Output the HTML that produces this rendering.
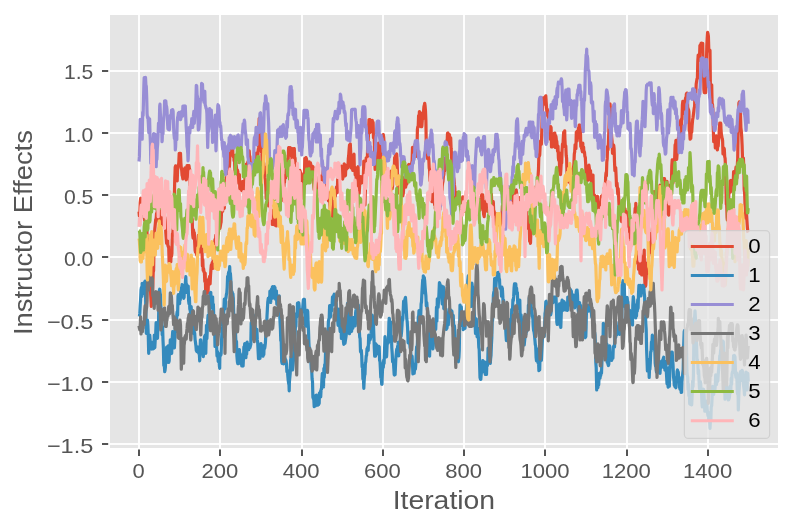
<!DOCTYPE html>
<html><head><meta charset="utf-8"><title>Instructor Effects trace</title>
<style>
html,body{margin:0;padding:0;background:#fff;}
body{width:792px;height:528px;overflow:hidden;font-family:"Liberation Sans",sans-serif;}
svg{display:block;will-change:transform;transform:translateZ(0);}
text{font-family:"Liberation Sans",sans-serif;}
.tk{font-size:20.6px;fill:#555555;}
.lb{font-size:25.6px;fill:#555555;}
.lg{font-size:19.8px;fill:#000;}
.ln{fill:none;stroke-width:3.2;stroke-linejoin:round;stroke-linecap:butt;}
</style></head><body>
<svg width="792" height="528" viewBox="0 0 792 528">
<rect x="0" y="0" width="792" height="528" fill="#ffffff"/>
<rect x="110" y="15" width="668" height="433" fill="#E5E5E5"/>
<defs><clipPath id="ax"><rect x="110" y="15" width="668" height="433"/></clipPath></defs>

<g fill="#ffffff" fill-opacity="0.93">
<rect x="138" y="15" width="2" height="433"/>
<rect x="219" y="15" width="2" height="433"/>
<rect x="301" y="15" width="2" height="433"/>
<rect x="382" y="15" width="2" height="433"/>
<rect x="463" y="15" width="2" height="433"/>
<rect x="544" y="15" width="2" height="433"/>
<rect x="626" y="15" width="2" height="433"/>
<rect x="707" y="15" width="2" height="433"/>
<rect x="110" y="443" width="668" height="2"/>
<rect x="110" y="381" width="668" height="2"/>
<rect x="110" y="319" width="668" height="2"/>
<rect x="110" y="256" width="668" height="2"/>
<rect x="110" y="194" width="668" height="2"/>
<rect x="110" y="132" width="668" height="2"/>
<rect x="110" y="70" width="668" height="2"/>
</g>
<g fill="#555555">
<rect x="138" y="449.5" width="2" height="6.5"/>
<rect x="219" y="449.5" width="2" height="6.5"/>
<rect x="301" y="449.5" width="2" height="6.5"/>
<rect x="382" y="449.5" width="2" height="6.5"/>
<rect x="463" y="449.5" width="2" height="6.5"/>
<rect x="544" y="449.5" width="2" height="6.5"/>
<rect x="626" y="449.5" width="2" height="6.5"/>
<rect x="707" y="449.5" width="2" height="6.5"/>
<rect x="102" y="443" width="6.2" height="2"/>
<rect x="102" y="381" width="6.2" height="2"/>
<rect x="102" y="319" width="6.2" height="2"/>
<rect x="102" y="256" width="6.2" height="2"/>
<rect x="102" y="194" width="6.2" height="2"/>
<rect x="102" y="132" width="6.2" height="2"/>
<rect x="102" y="70" width="6.2" height="2"/>
</g>
<text class="tk" x="138.6" y="478.2" text-anchor="middle" textLength="12.2" lengthAdjust="spacingAndGlyphs">0</text>
<text class="tk" x="219.9" y="478.2" text-anchor="middle" textLength="36.8" lengthAdjust="spacingAndGlyphs">200</text>
<text class="tk" x="301.2" y="478.2" text-anchor="middle" textLength="36.8" lengthAdjust="spacingAndGlyphs">400</text>
<text class="tk" x="382.5" y="478.2" text-anchor="middle" textLength="36.8" lengthAdjust="spacingAndGlyphs">600</text>
<text class="tk" x="463.7" y="478.2" text-anchor="middle" textLength="36.8" lengthAdjust="spacingAndGlyphs">800</text>
<text class="tk" x="545.0" y="478.2" text-anchor="middle" textLength="49.2" lengthAdjust="spacingAndGlyphs">1000</text>
<text class="tk" x="626.3" y="478.2" text-anchor="middle" textLength="49.2" lengthAdjust="spacingAndGlyphs">1200</text>
<text class="tk" x="707.6" y="478.2" text-anchor="middle" textLength="49.2" lengthAdjust="spacingAndGlyphs">1400</text>
<text class="tk" x="93.3" y="453.2" text-anchor="end" textLength="46.4" lengthAdjust="spacingAndGlyphs">−1.5</text>
<text class="tk" x="93.3" y="390.9" text-anchor="end" textLength="46.4" lengthAdjust="spacingAndGlyphs">−1.0</text>
<text class="tk" x="93.3" y="328.5" text-anchor="end" textLength="46.4" lengthAdjust="spacingAndGlyphs">−0.5</text>
<text class="tk" x="93.3" y="266.2" text-anchor="end" textLength="29.4" lengthAdjust="spacingAndGlyphs">0.0</text>
<text class="tk" x="93.3" y="203.9" text-anchor="end" textLength="29.4" lengthAdjust="spacingAndGlyphs">0.5</text>
<text class="tk" x="93.3" y="141.5" text-anchor="end" textLength="29.4" lengthAdjust="spacingAndGlyphs">1.0</text>
<text class="tk" x="93.3" y="79.2" text-anchor="end" textLength="29.4" lengthAdjust="spacingAndGlyphs">1.5</text>
<text class="lb" x="443.9" y="509.3" text-anchor="middle" textLength="102.5" lengthAdjust="spacingAndGlyphs">Iteration</text>
<text class="lb" transform="translate(31.6,232.6) rotate(-90)" text-anchor="middle" textLength="205" lengthAdjust="spacingAndGlyphs">Instructor Effects</text>
<g clip-path="url(#ax)">
<polyline class="ln" stroke="#E24A33" points="139.0,211.7 139.4,216.2 139.8,214.6 140.2,202.7 140.7,198.3 141.0,206.9 141.4,210.5 141.7,211.7 141.8,205.1 142.2,205.3 142.7,205.2 143.0,201.7 143.5,209.4 143.9,210.0 144.3,218.3 144.7,220.4 145.1,213.9 145.5,208.3 145.7,210.0 145.9,218.2 146.3,217.6 146.7,218.4 147.1,237.0 147.5,243.8 147.9,239.5 148.3,239.3 148.8,251.3 149.2,263.8 149.6,271.3 150.0,285.0 150.4,288.2 150.8,297.0 151.3,306.3 151.6,295.1 152.0,291.1 152.4,293.3 152.8,286.5 153.2,272.4 153.6,270.6 154.0,247.6 154.4,237.3 154.8,229.0 155.3,223.8 155.7,219.5 156.1,219.7 156.5,213.7 156.9,219.7 157.3,208.2 157.5,208.3 157.7,208.2 158.1,213.2 158.5,208.2 158.7,216.7 158.9,221.4 159.3,208.4 159.7,211.7 160.1,209.7 160.5,213.1 160.8,220.8 161.3,222.3 161.8,214.9 162.0,218.3 162.2,224.9 162.6,221.9 163.0,218.7 163.3,225.0 163.8,223.4 164.2,225.0 164.7,223.3 165.0,217.3 165.4,221.0 165.8,232.5 166.2,238.2 166.6,243.3 167.0,234.1 167.4,232.2 167.9,245.6 168.3,246.9 168.7,246.7 169.1,262.2 169.5,253.3 169.9,260.1 170.3,252.7 170.8,262.0 171.1,253.4 171.5,256.5 171.9,253.4 172.3,233.9 172.7,235.7 173.1,228.3 173.6,218.0 173.9,207.2 174.4,194.0 174.8,177.8 175.0,173.3 175.2,167.3 175.6,165.9 176.0,178.1 176.3,180.0 176.8,175.3 177.2,180.9 177.6,169.9 178.0,166.8 178.4,165.7 178.8,162.7 179.2,153.4 179.6,153.4 180.0,154.2 180.5,153.4 180.9,163.1 181.3,168.2 181.7,170.1 182.1,175.3 182.5,176.4 182.9,178.9 183.3,178.3 183.7,169.4 184.1,174.4 184.7,173.3 184.9,167.8 185.3,172.9 185.8,178.3 186.2,179.8 186.6,179.2 187.0,165.7 187.4,167.7 187.8,165.7 188.2,176.2 188.3,166.7 188.6,165.7 189.0,165.7 189.4,168.6 189.8,169.8 190.2,189.2 190.6,195.4 191.0,210.6 191.4,221.8 191.8,217.6 192.2,219.3 192.7,234.7 193.1,238.1 193.5,229.8 193.9,236.0 194.3,232.5 194.7,242.6 195.1,250.3 195.5,252.1 195.9,244.4 196.3,248.5 196.7,255.0 197.1,248.2 197.5,255.8 197.9,241.1 198.3,235.4 198.8,240.2 199.2,235.0 199.6,236.1 200.0,251.9 200.4,244.3 200.8,248.2 201.2,250.6 201.6,250.6 202.0,248.9 202.4,266.0 202.8,259.6 203.2,270.5 203.6,268.6 204.0,272.1 204.4,272.4 204.8,281.4 205.2,273.2 205.7,292.3 206.1,280.0 206.5,286.9 206.9,293.4 207.3,280.9 207.8,292.5 208.1,291.8 208.5,279.3 208.9,284.6 209.3,278.2 209.7,276.4 210.1,283.9 210.5,275.6 210.9,269.9 211.3,265.2 211.7,265.8 212.2,262.7 212.6,265.8 212.8,268.3 213.4,256.2 213.8,261.9 214.2,251.3 214.6,243.7 215.0,239.5 215.4,242.3 215.8,235.0 216.2,246.0 216.6,242.0 217.0,245.6 217.5,240.0 217.8,235.6 218.2,233.6 218.7,224.7 219.2,218.3 219.5,217.2 219.9,228.3 220.3,226.4 220.8,223.3 221.1,222.2 221.5,212.8 221.9,209.5 222.3,210.9 222.5,201.7 222.7,211.2 223.1,196.9 223.5,205.9 223.9,205.7 224.2,208.3 224.3,208.2 224.8,198.6 225.2,196.6 225.6,181.7 226.0,184.6 226.4,176.4 226.8,178.7 227.2,173.5 227.5,171.7 228.0,183.1 228.4,172.8 228.7,175.0 228.8,190.2 229.2,171.5 229.6,162.1 230.0,153.3 230.4,146.4 231.0,155.0 231.3,148.9 231.7,148.0 232.0,137.5 232.5,141.7 232.9,154.8 233.3,156.8 233.7,155.1 234.1,160.9 234.5,159.9 234.9,170.1 235.3,172.5 235.7,157.0 236.1,164.7 236.5,168.0 236.9,176.9 237.4,170.0 237.8,171.4 238.2,180.1 238.6,183.4 239.0,183.3 239.4,174.6 239.8,189.1 240.2,184.8 240.6,184.5 241.0,190.4 241.3,190.0 241.8,189.3 242.2,184.0 242.5,181.7 243.1,191.5 243.4,187.5 243.7,191.7 243.9,190.1 244.3,191.5 244.7,187.6 245.1,170.6 245.5,181.5 245.9,172.4 246.3,164.0 246.7,170.2 247.1,166.1 247.5,163.9 247.9,161.9 248.3,164.6 248.7,156.9 249.2,150.8 249.6,157.9 249.9,156.3 250.4,167.6 250.8,174.5 251.2,163.2 251.3,175.0 251.6,175.1 252.0,170.2 252.4,171.2 252.8,170.3 253.2,175.1 253.6,175.1 254.0,170.4 254.4,160.3 254.8,155.4 255.2,156.1 255.6,158.2 255.8,155.0 256.1,155.0 256.5,153.0 257.0,160.0 257.3,154.7 257.7,160.6 258.1,150.3 258.5,147.9 258.9,125.6 259.2,118.3 259.7,121.0 260.1,121.1 260.5,136.9 260.9,141.8 261.3,151.7 261.7,140.0 262.1,164.9 262.6,160.3 263.0,159.1 263.4,168.1 263.8,163.2 264.2,171.1 264.6,166.8 265.0,177.4 265.4,180.1 265.8,186.8 266.2,198.5 266.7,198.3 267.0,197.8 267.4,197.1 267.8,203.6 268.0,195.0 268.2,198.2 268.6,206.0 269.2,205.0 269.5,205.8 269.9,196.4 270.3,201.7 270.7,212.6 271.1,210.6 271.5,210.1 271.9,219.5 272.3,224.5 272.5,224.2 272.7,222.8 273.1,218.3 273.7,218.3 273.9,214.5 274.3,223.8 274.7,225.0 275.1,210.5 275.6,216.1 275.8,215.0 276.4,225.8 276.8,210.7 277.0,218.3 277.2,217.9 277.6,215.5 278.0,214.0 278.3,205.0 278.8,207.2 279.2,207.1 279.7,210.0 280.0,208.4 280.4,191.6 280.8,191.9 281.0,195.0 281.2,188.9 281.7,195.9 282.1,200.4 282.3,200.0 282.9,198.1 283.3,188.9 283.7,192.6 284.1,182.3 284.5,182.4 284.9,175.7 285.3,175.3 285.7,178.0 286.1,170.2 286.5,166.3 286.9,168.5 287.4,168.5 287.8,158.5 288.2,158.8 288.6,147.7 289.0,149.1 289.2,148.3 289.4,147.7 289.8,154.5 290.2,147.5 290.6,152.2 291.0,148.3 291.4,155.7 291.7,156.7 291.8,152.7 292.2,167.0 292.6,154.3 293.0,148.7 293.4,154.4 293.9,150.4 294.3,148.6 294.7,158.8 295.1,158.2 295.3,201.7 295.9,193.6 296.3,195.7 296.7,185.0 297.1,191.3 297.5,190.2 298.0,193.3 298.3,187.8 298.7,183.9 299.1,180.7 299.5,178.4 299.9,170.4 300.3,171.7 300.8,175.1 301.2,173.6 301.6,181.7 302.0,183.0 302.4,191.0 302.8,193.8 303.3,198.3 303.6,192.0 304.0,178.0 304.4,175.4 304.8,158.3 305.2,164.5 305.6,159.7 306.0,157.6 306.3,158.3 306.9,161.4 307.3,165.0 307.7,170.2 308.1,171.6 308.3,163.3 308.9,169.9 309.3,161.9 309.7,166.7 310.1,171.3 310.5,162.9 310.8,165.0 311.3,172.7 311.7,178.4 312.0,170.0 312.5,168.3 312.9,166.5 313.3,168.3 313.8,184.8 314.2,190.0 314.6,181.8 315.0,180.0 315.4,187.0 315.8,176.9 316.2,191.3 316.6,191.0 317.0,187.6 317.5,195.0 317.8,187.6 318.2,186.2 318.7,185.0 319.1,183.5 319.4,182.5 320.0,193.3 320.3,188.0 320.7,176.0 321.1,188.2 321.5,181.9 321.9,182.5 322.3,180.5 322.7,176.3 323.1,171.5 323.5,167.9 323.9,167.9 324.2,168.3 324.3,168.5 324.7,175.7 325.1,182.2 325.6,186.8 326.0,177.8 326.4,182.4 326.8,187.1 327.2,188.1 327.6,196.4 328.0,191.6 328.4,200.8 328.8,196.2 329.2,196.1 329.6,193.0 330.0,205.8 330.4,212.8 330.8,212.1 331.2,207.1 331.6,212.2 332.1,209.3 332.5,216.7 332.9,204.5 333.3,205.3 333.7,196.1 334.1,197.7 334.5,192.0 334.9,193.7 335.3,196.4 335.7,192.0 336.1,191.5 336.5,187.0 336.9,191.8 337.3,192.5 337.7,178.8 338.1,186.9 338.6,186.4 339.0,185.7 339.4,180.4 339.8,169.7 340.2,177.5 340.6,171.9 340.8,171.7 341.0,173.6 341.4,166.2 341.8,176.1 342.0,175.0 342.2,178.7 342.6,179.0 343.0,177.4 343.3,167.5 343.8,176.0 344.2,163.8 344.7,170.0 345.1,176.0 345.5,175.3 345.9,165.3 346.3,166.8 346.7,168.9 347.1,166.2 347.5,166.6 347.9,167.7 348.3,158.8 348.7,155.5 349.1,149.5 349.5,145.0 349.9,152.6 350.3,143.8 350.8,154.5 351.2,168.0 351.6,162.2 352.0,160.2 352.5,168.3 352.8,170.4 353.2,157.6 353.7,165.0 354.0,154.2 354.4,170.5 354.8,167.0 355.2,175.0 355.6,168.3 356.0,173.0 356.4,186.4 356.9,172.1 357.2,180.3 357.7,167.5 358.1,166.7 358.5,186.8 358.9,190.8 359.2,193.3 359.7,184.4 360.1,176.8 360.5,179.0 360.8,176.7 361.3,183.2 361.7,178.8 362.1,182.5 362.5,178.3 362.9,180.4 363.4,174.6 363.8,161.0 364.2,175.0 364.6,187.4 365.0,205.0 365.4,190.6 365.8,170.9 366.2,157.8 366.6,163.8 367.0,160.0 367.4,156.6 367.8,139.8 368.2,141.5 368.6,130.4 369.0,119.6 369.4,119.6 369.7,120.8 369.9,119.6 370.3,132.5 370.7,126.2 371.1,131.3 371.5,123.0 371.9,129.1 372.3,120.3 372.7,130.9 373.1,122.3 373.5,137.7 373.9,136.6 374.3,140.1 374.7,151.4 375.1,169.5 375.5,163.1 375.9,168.3 376.4,165.4 376.7,168.3 377.2,163.5 377.6,156.0 378.0,149.3 378.4,143.1 378.8,147.8 379.2,143.3 379.6,157.5 380.0,154.4 380.4,144.7 380.8,160.8 381.2,153.6 381.6,163.8 382.0,165.0 382.5,135.0 382.9,135.9 383.3,134.6 383.7,137.3 384.1,144.0 384.5,151.2 384.9,171.8 385.3,170.5 385.7,174.8 386.1,185.6 386.5,179.1 386.9,181.3 387.3,184.5 387.5,190.0 387.7,183.4 388.1,190.3 388.7,181.7 388.9,176.5 389.4,182.3 389.8,183.1 390.0,188.3 390.2,180.5 390.6,185.6 391.0,171.1 391.4,177.6 391.8,184.9 392.2,188.7 392.6,185.5 393.0,174.1 393.4,170.6 393.8,173.5 394.2,170.9 394.6,157.7 395.0,158.3 395.5,154.6 395.7,160.0 395.9,166.1 396.3,155.0 396.7,154.0 397.1,160.6 397.5,174.1 397.9,184.8 398.3,193.0 398.7,192.5 399.1,188.7 399.7,188.3 399.9,182.0 400.3,183.7 400.8,195.0 401.1,189.4 401.6,186.5 402.0,190.0 402.4,194.0 402.8,196.0 403.2,193.9 403.3,193.3 403.6,189.4 404.0,186.4 404.4,177.4 404.8,186.5 405.2,178.8 405.6,187.2 406.0,185.0 406.4,183.3 406.8,184.1 407.2,176.2 407.6,173.3 408.1,167.0 408.5,164.9 408.9,164.5 409.2,166.7 409.7,167.8 410.1,171.8 410.5,172.5 410.8,171.7 411.3,172.9 411.7,163.0 412.1,160.9 412.5,147.4 413.0,148.3 413.3,150.8 413.8,157.1 414.2,155.0 414.6,156.2 415.0,144.3 415.4,147.3 415.8,149.7 416.2,156.4 416.6,147.4 417.0,150.8 417.4,129.4 417.8,126.8 418.2,126.9 418.6,115.6 419.0,121.5 419.4,111.5 419.7,112.5 419.8,117.9 420.2,113.6 420.6,116.3 421.1,126.6 421.5,122.1 421.7,126.7 421.9,125.7 422.3,119.7 422.7,112.7 423.1,118.3 423.5,112.3 423.9,106.8 424.3,105.2 424.7,103.3 425.1,106.1 425.5,111.1 425.9,120.9 426.3,147.7 426.8,147.4 427.2,145.0 427.6,158.6 428.0,156.7 428.4,156.4 428.8,158.6 429.2,168.0 429.6,169.6 430.0,180.8 430.4,176.5 430.8,173.8 431.2,190.7 431.6,189.6 432.0,201.7 432.4,188.6 432.9,184.8 433.3,195.0 433.7,194.5 434.1,199.7 434.5,203.2 434.7,205.0 434.9,199.9 435.3,208.6 435.8,198.3 436.1,209.5 436.5,210.6 437.0,208.3 437.3,207.8 437.7,201.8 438.1,198.3 438.3,201.7 438.5,202.8 438.9,210.5 439.4,203.5 439.7,210.0 440.2,198.3 440.6,200.2 441.0,200.2 441.4,200.9 441.8,195.5 442.2,186.9 442.6,183.1 443.0,181.2 443.4,176.3 443.8,174.9 444.2,170.9 444.6,170.9 445.0,155.8 445.4,158.6 445.9,149.9 446.3,149.0 446.7,140.5 447.1,143.1 447.5,133.3 447.9,133.0 448.3,134.2 448.7,140.7 449.1,142.5 449.5,134.7 449.9,144.4 450.3,139.4 450.7,137.7 451.1,148.2 451.5,154.1 451.9,165.1 452.4,157.9 452.8,163.0 453.2,169.6 453.6,177.2 454.0,179.1 454.4,184.7 454.8,188.0 455.2,198.9 455.6,197.0 455.8,201.7 456.0,198.1 456.4,198.2 456.8,195.4 457.0,195.0 457.2,197.6 457.6,192.6 458.1,200.7 458.3,203.3 458.9,196.5 459.3,194.5 459.7,198.3 460.1,200.0 460.5,202.9 461.0,206.7 461.3,209.7 461.7,200.0 462.1,201.8 462.5,201.7 462.9,196.9 463.3,203.2 463.7,200.2 464.2,208.3 464.6,211.1 465.0,208.9 465.4,208.1 465.8,203.3 466.2,208.0 466.6,211.1 467.0,211.1 467.5,210.0 467.8,203.1 468.2,208.4 468.6,202.0 469.2,205.0 469.4,203.2 469.8,208.6 470.2,207.1 470.6,212.5 470.8,211.7 471.1,214.4 471.5,204.9 471.9,204.8 472.3,205.0 472.5,206.7 472.7,210.9 473.1,208.5 473.5,209.6 473.9,214.4 474.2,213.3 474.7,212.5 475.1,211.0 475.5,213.3 475.8,208.3 476.3,214.4 476.7,207.1 477.1,214.4 477.5,211.7 478.0,207.5 478.4,212.2 478.8,199.7 479.2,207.0 479.6,203.8 480.0,210.3 480.4,200.5 480.8,199.2 481.2,197.2 481.6,194.6 482.0,195.0 482.4,195.5 482.8,194.9 483.2,207.0 483.6,214.1 484.2,216.7 484.5,212.6 484.9,210.2 485.3,201.6 485.7,209.6 486.1,202.5 486.5,201.8 486.9,196.1 487.3,200.0 487.7,211.4 488.0,195.0 488.5,199.6 488.9,201.7 489.3,201.7 489.8,200.2 490.1,194.0 490.7,195.0 491.0,198.6 491.4,194.0 491.8,205.2 492.0,205.0 492.2,206.4 492.6,206.0 493.0,206.1 493.3,201.7 493.8,213.1 494.2,211.2 494.6,220.2 495.0,223.0 495.3,224.2 495.8,217.5 496.3,215.0 496.7,222.2 497.1,213.7 497.3,221.7 497.9,224.0 498.3,218.3 498.7,224.9 499.1,219.8 499.3,225.0 499.5,223.3 499.9,219.1 500.3,214.7 500.7,216.7 501.1,224.9 501.5,222.8 501.9,218.2 502.4,205.9 502.8,209.8 503.2,218.9 503.3,213.3 503.6,211.2 504.0,215.0 504.4,212.6 504.8,207.9 505.0,206.7 505.2,202.9 505.6,207.5 506.0,214.4 506.4,212.6 506.7,213.3 506.8,208.7 507.2,213.9 507.6,213.9 508.0,203.9 508.3,203.3 508.9,204.2 509.3,210.8 509.7,206.1 510.0,211.7 510.5,212.7 510.9,198.6 511.3,198.8 511.7,200.0 512.1,194.4 512.5,196.0 512.9,194.1 513.3,206.7 513.7,209.8 514.1,195.8 514.5,198.2 515.0,199.6 515.4,194.5 515.8,190.3 516.2,190.0 516.6,193.0 517.0,200.8 517.4,204.9 517.8,211.2 518.0,216.7 518.2,209.3 518.6,203.2 519.0,202.1 519.2,206.7 519.4,197.7 519.8,202.5 520.2,212.4 520.6,216.5 520.8,213.3 521.0,216.5 521.5,204.8 521.9,202.8 522.3,202.8 522.5,203.3 522.7,202.8 523.1,206.7 523.5,212.4 523.9,217.0 524.2,213.3 524.7,209.8 525.1,210.6 525.5,213.0 525.8,210.0 526.3,208.7 526.7,217.5 527.1,217.6 527.5,228.1 528.0,226.6 528.4,216.8 528.8,224.8 529.2,226.1 529.6,241.1 530.0,234.8 530.5,243.3 530.8,234.4 531.2,231.6 531.6,232.7 532.0,225.3 532.4,224.1 532.8,225.6 533.2,217.0 533.6,211.7 534.0,212.3 534.5,203.7 534.9,206.7 535.3,192.6 535.7,197.5 536.1,186.4 536.5,185.8 536.9,192.7 537.3,184.4 537.7,189.1 538.1,175.7 538.5,169.2 538.9,154.5 539.3,156.3 539.7,155.1 540.1,146.9 540.5,141.0 541.0,142.8 541.4,144.1 541.8,130.2 542.2,115.4 542.6,109.7 543.0,100.0 543.4,97.9 543.7,101.7 544.2,104.3 544.6,99.8 545.0,104.0 545.4,96.6 545.8,95.8 546.2,102.0 546.7,110.0 547.0,115.1 547.3,109.2 547.9,116.2 548.3,113.3 548.7,131.3 549.2,130.0 549.5,131.6 550.0,128.3 550.3,139.2 550.7,126.7 551.1,127.7 551.5,146.9 551.9,140.6 552.3,146.4 552.5,146.7 552.7,142.3 553.1,137.0 553.6,140.0 554.0,135.5 554.2,133.3 554.4,134.4 554.8,133.1 555.2,147.5 555.3,138.3 555.6,135.5 556.0,136.7 556.4,140.6 556.8,141.3 557.2,146.8 557.6,151.4 558.0,146.2 558.4,158.0 558.8,160.6 559.2,152.8 559.6,171.0 560.0,173.3 560.5,174.6 560.9,169.1 561.3,161.8 561.7,162.9 562.1,150.0 562.5,143.8 562.9,146.8 563.3,138.1 563.7,132.0 564.1,133.1 564.7,130.8 564.9,138.9 565.3,146.6 565.8,146.0 566.2,155.6 566.6,158.3 567.0,174.1 567.4,172.7 567.8,172.1 568.0,180.0 568.2,174.1 568.6,182.0 569.0,169.5 569.2,173.3 569.4,171.3 569.8,179.5 570.3,183.3 570.6,183.9 571.0,181.7 571.4,175.2 571.9,174.9 572.2,173.9 572.7,169.0 573.1,171.4 573.5,168.0 573.9,163.6 574.3,154.1 574.7,151.8 575.1,144.6 575.5,147.4 575.9,148.6 576.3,132.4 576.7,131.7 577.1,141.0 577.5,137.7 577.9,132.8 578.4,128.1 578.8,130.9 579.2,125.0 579.6,130.0 580.0,125.0 580.4,128.5 580.8,146.5 581.2,143.2 581.6,148.3 582.0,149.6 582.4,151.8 582.8,143.1 583.0,151.7 583.2,149.5 583.6,147.0 583.8,150.8 584.0,151.4 584.5,152.3 584.9,156.7 585.3,157.1 585.7,164.1 586.1,176.8 586.5,176.1 586.9,174.2 587.3,180.9 587.7,175.5 588.0,180.0 588.5,177.4 588.9,165.2 589.3,168.0 589.7,171.0 590.0,171.7 590.5,170.7 591.0,180.3 591.4,181.8 591.8,177.4 592.2,183.8 592.6,178.1 593.0,175.1 593.4,197.4 593.8,198.4 594.2,203.3 594.6,195.1 595.0,201.7 595.4,203.8 595.8,204.2 596.2,199.0 596.6,199.9 597.0,200.4 597.5,196.4 597.9,203.8 598.3,209.0 598.7,212.6 599.2,211.7 599.5,212.6 599.9,211.6 600.3,212.6 600.7,204.8 601.1,200.4 601.5,196.0 601.9,209.4 602.3,201.6 602.7,194.9 603.1,199.5 603.5,200.8 604.0,188.0 604.4,198.6 604.8,188.9 605.2,191.5 605.6,177.8 606.0,172.9 606.4,175.9 606.8,162.4 607.2,158.9 607.6,146.3 608.0,149.9 608.4,142.9 608.8,132.1 609.2,120.2 609.7,104.2 610.0,103.9 610.5,110.4 610.9,119.8 611.3,131.0 611.7,137.3 612.1,141.3 612.5,153.3 612.9,148.5 613.3,144.9 613.7,145.2 614.1,148.6 614.5,161.5 614.9,170.7 615.3,167.5 615.7,167.7 616.1,175.6 616.5,186.0 617.0,183.0 617.4,188.0 617.8,194.2 618.2,188.6 618.6,196.2 619.0,205.0 619.4,204.4 619.8,208.2 620.2,209.2 620.6,208.7 621.0,210.4 621.4,219.7 621.7,221.7 621.8,217.0 622.2,216.6 622.6,204.5 623.1,200.4 623.3,200.0 623.9,203.0 624.3,214.0 624.7,212.4 625.1,208.9 625.5,220.1 625.9,211.0 626.3,220.8 626.7,218.8 627.1,218.4 627.5,214.3 627.9,226.1 628.3,211.9 628.8,221.6 629.1,226.6 629.6,237.2 630.0,240.0 630.4,233.2 630.8,239.6 631.2,241.1 631.6,233.2 632.0,221.0 632.4,220.0 632.8,222.6 633.2,224.9 633.6,225.7 634.0,221.3 634.4,220.6 634.8,214.7 635.2,208.0 635.7,208.2 635.8,203.3 636.1,220.1 636.5,230.9 636.9,236.2 637.3,251.0 637.7,263.4 638.1,263.4 638.3,261.7 638.5,269.2 638.9,258.2 639.2,253.3 639.7,270.3 640.0,273.3 640.5,253.9 640.8,260.0 641.4,257.2 641.7,275.0 642.2,268.6 642.5,256.7 643.0,263.0 643.3,275.0 643.8,262.7 644.2,250.0 644.6,275.1 645.0,285.0 645.4,286.3 645.8,285.0 646.2,276.8 646.7,263.3 647.0,268.6 647.5,273.3 647.9,262.7 648.2,260.8 648.7,256.4 649.1,250.4 649.5,253.2 649.9,245.2 650.3,251.2 650.7,240.0 651.1,233.4 651.5,235.0 651.9,239.3 652.3,229.5 652.7,225.2 653.1,209.6 653.5,213.0 653.9,203.6 654.2,191.7 654.4,193.7 654.8,192.8 655.2,192.7 655.6,196.5 655.8,200.0 656.4,198.1 656.8,189.8 657.2,189.7 657.6,201.1 658.0,201.1 658.4,191.9 658.8,188.2 659.2,197.4 659.6,196.1 660.0,185.0 660.5,190.7 660.9,192.8 661.3,186.7 661.7,189.9 662.1,192.4 662.5,182.2 662.9,187.4 663.3,184.9 663.7,178.6 664.2,180.0 664.5,178.6 664.9,189.2 665.3,182.5 665.7,185.0 666.1,187.9 666.5,188.6 667.0,181.4 667.4,198.1 667.8,202.0 668.2,214.1 668.7,215.0 669.0,211.5 669.4,205.7 669.8,189.7 670.2,185.0 670.6,189.5 671.0,187.6 671.4,185.2 671.8,165.9 672.2,159.8 672.6,165.6 673.0,183.0 673.5,170.2 673.9,159.3 674.3,166.7 674.7,157.0 675.1,144.7 675.5,147.9 675.9,140.3 676.3,152.2 676.7,159.5 677.1,153.6 677.5,148.9 677.9,148.5 678.3,138.1 678.7,140.9 679.1,134.3 679.5,136.4 680.0,126.8 680.4,122.0 680.8,120.1 681.2,136.0 681.6,118.7 682.0,119.5 682.4,105.0 682.8,101.3 683.3,103.3 683.6,113.0 684.2,113.3 684.4,109.5 684.8,106.5 685.2,100.3 685.6,97.9 686.0,107.8 686.3,94.2 686.9,93.1 687.3,93.1 687.7,107.3 688.1,110.7 688.5,109.4 688.9,111.8 689.3,130.6 689.7,131.9 690.1,139.2 690.5,137.4 690.8,138.3 691.3,130.3 691.7,132.2 692.1,125.7 692.6,120.1 693.0,117.7 693.4,114.5 693.8,111.5 694.2,108.1 694.6,106.4 695.0,91.7 695.4,89.0 695.8,93.5 696.2,84.1 696.6,81.5 697.0,79.1 697.4,78.6 697.8,61.0 698.2,55.2 698.6,60.7 699.1,56.6 699.5,57.4 699.9,45.7 700.3,44.9 700.7,47.9 701.1,43.3 701.3,44.2 701.5,43.3 701.9,48.5 702.3,48.8 702.7,43.3 703.1,63.4 703.5,67.8 703.9,89.5 704.3,92.6 704.7,91.7 705.1,92.6 705.6,92.6 706.0,85.7 706.4,63.4 706.8,46.2 707.2,38.4 707.6,32.3 708.0,33.8 708.4,36.2 708.8,49.2 709.2,50.9 709.6,49.9 710.0,50.5 710.4,86.4 710.9,87.1 711.2,98.6 711.7,84.8 712.1,104.0 712.5,104.3 712.9,109.4 713.3,128.2 713.7,141.6 714.0,141.0 714.5,140.1 715.0,137.0 715.3,147.9 715.7,142.0 716.1,135.8 716.5,138.0 716.9,143.7 717.4,150.0 717.8,143.7 718.2,146.2 718.6,139.6 719.0,135.4 719.4,127.8 719.8,123.0 720.2,130.9 720.6,123.0 720.8,124.0 721.0,129.0 721.4,134.7 721.8,136.4 722.2,138.7 722.6,140.3 723.0,154.0 723.4,153.7 723.9,148.1 724.3,149.1 724.7,156.7 725.1,158.4 725.5,166.9 725.9,185.2 726.3,204.2 726.7,204.6 727.1,217.9 727.3,220.0 727.5,218.9 727.9,210.1 728.3,207.5 728.7,196.9 729.1,191.0 729.5,191.3 730.0,192.4 730.2,181.0 730.4,180.8 730.8,180.5 731.2,190.8 731.4,191.0 731.6,186.4 732.0,188.1 732.4,187.9 732.8,189.1 733.2,182.7 733.6,171.6 734.0,177.8 734.4,175.0 734.8,175.1 735.2,181.9 735.6,171.1 736.0,167.2 736.5,173.6 736.9,178.1 737.3,165.5 737.7,158.4 738.1,131.9 738.5,125.2 738.9,103.0 739.3,102.0 739.7,106.2 740.1,110.4 740.5,115.3 740.9,127.6 741.3,131.0 741.7,136.6 742.1,145.0 742.5,157.5 743.0,159.0 743.4,158.2 743.8,166.6 744.2,189.4 744.6,192.6 745.0,204.0 745.4,207.5 745.8,218.1 746.2,215.6 746.6,214.8 747.0,221.6 747.4,227.5 747.8,231.8 748.2,232.5"/>
<polyline class="ln" stroke="#348ABD" points="139.0,316.5 139.4,316.5 139.8,313.2 140.2,305.5 140.6,299.8 141.0,290.0 141.4,287.6 141.8,296.5 142.0,295.0 142.2,283.3 142.7,292.5 143.0,288.3 143.5,288.2 144.0,293.3 144.3,286.0 144.7,281.7 145.0,281.2 145.5,293.3 145.9,312.0 146.3,333.3 146.7,331.7 147.1,328.1 147.5,320.0 147.9,325.6 148.3,336.8 148.7,353.3 149.2,345.9 149.7,335.0 150.0,338.4 150.4,344.5 150.8,344.3 151.2,348.4 151.6,349.0 152.0,348.3 152.4,343.7 152.8,342.1 153.2,348.9 153.6,343.4 154.0,348.5 154.3,335.0 154.8,347.7 155.3,338.3 155.7,334.4 156.1,322.7 156.3,325.0 156.9,336.4 157.3,336.1 157.5,338.3 157.7,332.9 158.1,325.3 158.5,322.8 158.9,301.5 159.3,291.1 159.7,289.2 160.1,293.7 160.5,294.7 160.9,306.8 161.3,319.0 161.8,317.4 162.2,334.8 162.6,326.5 163.0,340.3 163.4,348.5 163.8,365.5 164.2,362.6 164.7,371.7 165.0,370.5 165.4,367.1 165.8,356.2 166.2,363.0 166.6,347.2 167.0,348.3 167.4,349.9 167.9,347.4 168.3,345.8 168.7,362.4 169.2,360.8 169.5,345.3 169.9,351.1 170.3,340.0 170.7,339.6 171.1,353.6 171.5,345.4 171.7,353.3 171.9,344.0 172.3,337.4 172.7,331.7 173.1,337.8 173.6,340.2 173.9,337.6 174.2,343.3 174.4,348.0 174.8,340.5 175.2,328.6 175.6,323.8 176.0,331.7 176.4,327.4 176.8,314.9 177.2,311.8 177.6,315.1 178.0,296.2 178.4,294.7 178.8,300.8 179.3,295.0 179.6,303.7 180.1,294.2 180.3,300.0 180.9,288.0 181.3,292.3 181.7,288.9 182.1,284.6 182.5,286.7 182.9,286.4 183.3,295.1 183.7,298.3 184.1,297.2 184.5,286.1 184.9,290.7 185.3,284.0 185.8,276.7 186.2,286.3 186.6,284.2 187.0,292.4 187.4,286.3 187.8,292.4 188.2,286.0 188.6,300.5 189.0,303.7 189.4,297.4 189.8,308.7 190.0,310.0 190.2,306.6 190.6,318.7 191.2,306.7 191.4,320.9 191.8,317.2 192.2,310.2 192.7,318.1 193.1,324.4 193.5,333.5 193.9,325.5 194.3,332.0 194.7,333.2 195.1,339.6 195.5,342.5 195.9,345.7 196.3,350.6 196.7,349.5 197.0,351.7 197.5,349.2 197.9,347.0 198.3,348.3 198.8,353.5 199.2,351.2 199.7,360.8 200.0,352.6 200.4,339.8 200.8,340.0 201.2,347.1 201.6,350.3 202.0,348.9 202.4,345.4 202.8,352.0 203.3,356.7 203.6,351.6 204.0,345.2 204.5,336.7 204.8,336.5 205.2,335.2 205.7,347.0 205.8,353.3 206.1,339.6 206.5,325.4 206.9,338.7 207.3,330.0 207.7,320.2 208.1,315.4 208.5,321.9 208.9,316.9 209.3,311.4 209.7,304.2 210.1,293.1 210.5,293.2 210.8,292.5 211.3,307.5 211.8,298.8 212.2,298.0 212.6,296.9 213.0,310.4 213.4,304.4 213.8,318.8 214.2,323.8 214.6,327.1 215.0,346.4 215.4,338.8 215.8,345.7 216.2,341.3 216.6,345.9 217.0,356.0 217.4,351.3 217.8,355.5 218.2,361.4 218.7,361.9 219.1,361.9 219.5,366.8 219.7,368.3 219.9,353.7 220.3,354.1 220.7,355.5 221.1,353.8 221.5,342.4 221.9,331.8 222.3,326.4 222.7,317.4 223.1,321.3 223.5,319.0 223.9,308.7 224.3,299.0 224.8,305.1 225.2,308.8 225.6,298.8 226.0,297.9 226.4,294.4 226.8,293.0 227.2,287.3 227.6,276.4 228.0,281.0 228.4,273.7 228.8,271.9 229.2,274.0 229.7,266.7 230.0,275.0 230.4,273.3 230.8,279.2 231.3,292.1 231.7,297.3 232.1,291.9 232.5,293.6 232.9,293.7 233.3,298.5 233.7,314.4 234.1,318.5 234.5,320.3 234.9,329.2 235.3,327.6 235.7,337.1 236.1,346.7 236.5,341.4 236.9,355.9 237.4,361.9 237.8,363.5 238.2,357.6 238.3,360.0 238.6,363.7 239.0,353.4 239.4,349.7 239.7,355.0 240.2,353.5 240.6,355.3 241.0,359.7 241.4,362.8 241.8,366.0 242.2,366.0 242.5,365.0 243.1,366.0 243.4,359.5 243.9,346.9 244.3,349.9 244.7,343.7 245.0,345.0 245.5,343.8 245.9,357.6 246.3,348.3 246.7,354.2 247.1,342.1 247.5,344.5 247.7,345.0 247.9,344.0 248.3,347.0 248.7,349.7 249.2,346.7 249.6,346.2 249.9,348.0 250.4,345.9 250.8,344.3 251.2,322.7 251.6,324.6 252.0,326.1 252.4,318.7 252.8,314.8 253.3,315.0 253.6,317.2 254.0,317.7 254.4,316.7 254.8,332.3 255.2,326.0 255.6,333.7 256.1,334.2 256.5,339.3 256.9,329.3 257.3,339.9 257.7,342.6 258.1,351.0 258.5,358.7 258.9,358.7 259.3,358.7 259.7,351.0 260.0,358.3 260.5,351.8 260.9,343.5 261.3,345.0 261.7,353.0 262.1,353.9 262.6,355.0 263.0,356.2 263.3,346.7 263.8,354.6 264.2,345.3 264.7,348.3 265.0,346.3 265.4,342.8 265.8,335.2 266.2,334.3 266.6,327.0 267.0,316.1 267.4,308.9 267.8,301.7 268.3,298.3 268.6,302.2 269.1,299.0 269.5,296.6 269.7,300.0 269.9,291.2 270.3,294.4 270.7,302.4 270.8,295.0 271.1,297.4 271.5,289.2 272.0,298.3 272.3,287.3 272.7,286.6 273.1,298.0 273.5,293.2 273.9,293.0 274.3,286.6 274.8,288.8 275.0,287.5 275.1,292.5 275.6,299.3 276.0,291.4 276.4,290.9 276.8,304.1 277.2,303.9 277.5,300.0 278.0,302.5 278.4,307.6 278.8,300.3 279.2,295.8 279.6,311.9 280.0,320.9 280.4,328.4 280.8,340.8 281.2,341.1 281.7,361.7 282.1,363.4 282.5,354.8 283.0,351.7 283.3,357.7 283.7,364.0 284.1,350.1 284.5,356.2 284.9,358.1 285.3,360.0 285.7,359.6 286.1,360.9 286.5,364.2 286.9,371.6 287.4,370.5 287.8,375.7 288.2,380.3 288.6,383.1 289.0,385.0 289.2,390.8 289.4,382.2 289.8,377.7 290.2,373.3 290.6,360.6 291.0,357.1 291.3,358.3 291.8,359.7 292.2,367.2 292.5,370.0 293.0,365.1 293.4,360.5 293.9,349.5 294.3,343.7 294.7,341.0 295.1,333.9 295.5,324.6 295.9,326.4 296.3,313.9 296.7,313.1 297.1,316.6 297.5,303.1 297.9,304.3 298.3,304.2 298.7,302.7 299.1,305.8 299.5,313.4 299.9,309.4 300.4,321.2 300.8,320.0 301.2,321.2 301.6,321.2 302.0,309.6 302.4,312.3 302.8,306.4 303.3,300.0 303.6,299.4 304.0,301.8 304.4,299.4 304.8,308.1 305.2,310.4 305.6,326.2 306.0,316.3 306.4,320.3 306.9,317.1 307.3,310.4 307.7,311.5 308.1,321.9 308.5,330.6 308.9,342.8 309.3,349.6 309.7,347.9 310.1,353.4 310.5,355.7 310.9,362.3 311.3,369.3 311.7,370.0 312.1,379.0 312.5,381.6 312.9,397.3 313.4,398.7 313.8,399.0 314.2,406.7 314.6,396.0 315.0,398.6 315.4,405.8 315.8,404.8 316.3,395.0 316.6,396.8 317.0,402.5 317.4,403.1 317.8,405.2 318.2,396.6 318.6,404.5 319.2,403.3 319.4,393.0 319.9,394.9 320.3,391.6 320.7,397.0 321.1,389.1 321.5,389.1 321.9,379.7 322.3,373.7 322.7,374.2 323.1,376.9 323.5,386.9 323.9,368.3 324.3,377.3 324.7,364.6 325.1,367.7 325.6,350.5 326.0,353.8 326.4,351.5 326.8,345.1 327.2,341.4 327.6,338.8 328.0,335.7 328.4,321.4 328.8,319.4 329.2,318.3 329.6,305.7 330.0,307.8 330.4,317.1 330.8,314.5 331.2,305.2 331.6,310.8 332.1,305.0 332.5,296.9 332.9,301.5 333.3,304.8 333.7,295.5 334.2,294.2 334.5,299.9 334.9,304.2 335.3,300.2 335.7,299.7 336.1,302.1 336.5,311.3 336.9,312.0 337.3,312.3 337.7,320.9 338.1,325.4 338.6,311.0 339.0,309.1 339.4,319.4 339.8,327.7 340.2,331.7 340.6,329.7 340.8,331.7 341.0,320.2 341.4,338.4 341.8,328.2 342.0,330.0 342.2,332.2 342.6,332.7 343.0,332.2 343.4,341.0 343.8,344.3 344.2,334.0 344.6,327.0 345.0,343.3 345.5,339.8 345.9,337.3 346.3,334.3 346.7,329.5 347.1,319.9 347.5,303.3 347.9,304.0 348.3,314.1 348.7,328.3 349.1,323.9 349.5,333.6 349.9,331.4 350.3,331.4 350.8,330.0 351.2,316.4 351.6,331.4 352.0,325.0 352.5,320.0 352.8,328.3 353.2,321.7 353.6,317.6 354.0,321.5 354.2,325.0 354.4,326.0 354.8,319.6 355.2,326.0 355.6,313.0 356.0,309.9 356.4,305.7 356.9,321.3 357.2,322.9 357.7,311.0 358.1,305.6 358.3,305.0 358.9,322.5 359.3,329.8 359.7,337.0 360.1,338.6 360.5,351.5 360.9,352.3 361.3,350.2 361.7,355.5 362.1,366.9 362.5,365.0 362.9,378.9 363.4,377.8 363.8,388.3 364.2,380.1 364.6,375.4 365.0,374.3 365.4,362.8 365.8,361.9 366.2,355.9 366.6,355.5 367.0,348.5 367.4,348.9 367.8,346.9 368.2,350.5 368.7,335.0 369.0,343.3 369.4,336.4 370.0,340.0 370.3,339.2 370.7,337.5 371.1,333.4 371.5,325.9 371.9,319.4 372.2,315.0 372.7,318.1 373.1,317.1 373.5,325.3 373.9,336.4 374.3,348.2 374.7,356.2 375.1,347.6 375.3,355.0 375.5,356.2 375.9,343.8 376.4,351.6 376.7,345.0 377.2,353.9 377.6,347.2 378.0,351.7 378.4,349.7 378.8,346.4 379.2,346.7 379.6,360.7 380.0,361.1 380.4,368.9 380.8,377.5 381.2,377.4 381.7,384.2 382.0,384.3 382.4,372.0 382.9,363.4 383.3,367.3 383.7,359.9 384.1,363.5 384.5,351.0 385.0,336.7 385.3,343.6 385.7,351.6 386.1,354.0 386.5,356.9 386.7,355.0 386.9,349.6 387.3,341.0 387.7,343.3 388.1,343.2 388.6,335.1 388.9,322.5 389.2,318.3 389.4,319.2 389.8,331.0 390.2,331.5 390.6,321.9 391.0,341.9 391.4,335.9 391.8,348.0 392.2,353.4 392.6,361.7 393.0,359.5 393.4,361.4 393.8,368.1 394.2,374.6 394.5,375.0 395.1,374.6 395.5,365.8 395.9,357.2 396.3,353.6 396.7,349.3 397.1,353.4 397.5,347.2 398.0,345.0 398.3,342.4 398.7,355.8 399.2,348.3 399.5,341.9 399.9,343.2 400.3,340.3 400.7,335.9 401.1,336.3 401.6,331.3 402.0,325.4 402.4,317.2 402.8,320.1 403.2,310.7 403.6,301.2 404.0,312.1 404.4,305.0 404.8,300.0 405.2,298.1 405.5,297.5 406.0,304.5 406.4,311.5 406.8,319.0 407.2,321.6 407.6,328.4 408.1,342.8 408.5,340.4 408.9,339.1 409.3,339.0 409.7,342.4 410.1,347.7 410.5,349.2 410.9,355.7 411.3,359.2 411.7,355.8 412.1,356.3 412.5,364.0 412.9,373.9 413.3,363.8 413.8,372.0 414.2,373.3 414.6,368.7 415.0,364.1 415.4,369.2 415.8,364.4 416.2,355.4 416.6,346.9 417.0,349.4 417.4,343.7 417.8,329.7 418.3,316.7 418.6,318.5 419.0,310.6 419.4,317.9 419.8,319.8 420.3,323.3 420.6,319.1 421.1,304.1 421.5,301.9 421.9,293.1 422.3,286.1 422.7,279.9 423.1,292.7 423.3,275.8 423.5,281.1 423.9,278.5 424.3,277.4 424.7,281.0 425.1,286.9 425.5,292.1 425.9,296.2 426.3,306.0 426.8,302.6 427.2,309.1 427.6,311.0 428.0,316.4 428.4,320.4 428.8,337.4 429.2,355.0 429.6,356.1 430.0,340.0 430.4,336.1 430.8,338.9 431.3,345.0 431.6,338.9 432.0,334.3 432.5,341.7 432.9,348.8 433.3,345.0 433.7,339.2 434.1,334.6 434.5,328.1 434.9,323.5 435.3,325.7 435.7,329.4 436.1,319.5 436.5,307.1 436.9,321.0 437.3,298.8 437.7,303.3 438.1,307.3 438.5,301.3 438.9,294.9 439.4,282.7 439.7,283.3 440.2,285.1 440.6,291.6 440.8,295.0 441.4,285.9 441.7,293.3 442.2,304.0 442.6,294.1 443.0,290.9 443.4,286.8 443.8,308.6 444.2,308.8 444.6,306.2 445.0,299.0 445.4,307.9 445.9,314.4 446.3,329.4 446.7,323.2 447.0,328.3 447.5,317.0 447.9,319.3 448.3,324.9 448.7,315.9 449.1,308.8 449.5,316.5 449.9,316.2 450.3,313.7 450.8,310.0 451.1,310.6 451.5,316.0 451.9,311.2 452.4,316.7 452.8,322.5 453.2,315.4 453.6,323.9 454.0,333.5 454.4,325.5 454.8,330.9 455.2,338.6 455.6,358.1 456.0,354.2 456.4,348.3 456.8,344.2 457.2,351.5 457.6,357.0 458.1,361.4 458.3,361.7 458.9,357.3 459.3,349.8 459.7,322.1 460.0,305.0 460.5,307.8 460.9,312.0 461.3,306.8 461.7,315.8 462.1,323.6 462.5,325.6 462.9,322.9 463.3,329.7 463.7,323.8 464.1,325.0 464.6,320.0 465.0,328.3 465.4,321.7 465.8,318.9 466.2,312.7 466.6,303.6 467.0,296.9 467.4,291.3 467.8,280.9 468.3,275.8 468.6,279.8 469.0,285.1 469.4,284.3 469.8,294.9 470.2,301.0 470.6,300.0 470.8,306.7 471.1,302.1 471.5,293.7 471.9,283.1 472.3,286.4 472.5,287.5 472.7,295.9 473.1,299.4 473.5,301.1 473.9,307.5 474.3,313.6 474.7,320.9 475.1,323.6 475.5,333.4 475.9,332.2 476.3,318.9 476.7,328.1 477.1,336.8 477.6,334.3 478.0,328.4 478.4,337.9 478.8,347.2 479.2,349.6 479.6,364.1 480.0,377.5 480.5,379.2 480.8,379.4 481.2,374.4 481.6,363.6 482.0,372.3 482.4,365.2 482.8,360.5 483.3,361.7 483.6,371.6 484.1,368.0 484.5,367.2 484.9,362.0 485.3,374.4 485.7,374.4 486.2,373.3 486.5,374.4 486.9,362.1 487.3,365.8 487.7,364.1 488.1,348.0 488.3,355.0 488.5,355.9 488.9,354.7 489.3,347.6 489.8,362.4 490.1,361.8 490.3,363.3 490.6,358.7 491.0,355.6 491.4,345.3 491.8,337.9 492.2,320.5 492.6,320.6 493.0,307.6 493.4,295.1 493.8,292.0 494.2,292.8 494.6,278.5 495.0,283.7 495.4,278.4 495.8,287.7 496.2,282.3 496.7,277.9 497.1,279.4 497.5,272.5 497.9,275.9 498.3,273.3 498.7,272.5 499.1,278.7 499.5,279.2 499.9,288.2 500.3,286.6 500.7,288.4 501.1,287.4 501.5,296.1 501.9,287.1 502.4,288.8 502.8,295.8 503.2,306.2 503.6,300.1 504.0,306.0 504.4,318.6 504.8,322.6 505.2,315.3 505.6,326.9 506.0,335.2 506.4,340.6 506.8,334.3 507.2,335.0 507.6,334.7 508.0,340.6 508.4,340.6 508.9,335.1 509.2,340.0 509.7,331.6 510.1,331.9 510.5,319.1 510.9,319.4 511.3,329.5 511.7,309.3 512.1,309.3 512.5,310.5 512.9,299.7 513.3,300.8 513.7,296.2 514.1,287.7 514.5,283.8 515.0,285.0 515.4,283.8 515.8,283.8 516.2,291.3 516.6,288.0 517.0,294.3 517.4,292.5 517.8,306.3 518.2,308.5 518.6,307.9 519.0,307.7 519.4,304.2 519.8,300.1 520.2,318.1 520.6,316.6 521.0,314.7 521.5,319.9 521.9,326.1 522.3,331.6 522.7,337.1 523.1,337.6 523.5,333.5 523.9,341.4 524.2,345.0 524.7,339.8 525.1,336.1 525.5,316.0 525.9,334.5 526.3,326.2 526.7,331.7 527.1,325.4 527.5,318.0 528.0,321.8 528.4,305.1 528.8,316.5 529.2,298.3 529.6,296.9 530.0,297.7 530.4,304.4 530.8,296.9 531.2,307.2 531.6,310.4 532.0,312.5 532.4,316.1 532.8,318.0 533.2,326.0 533.6,330.5 534.0,331.6 534.5,335.3 534.9,339.8 535.3,344.5 535.7,346.1 536.1,357.3 536.5,360.9 536.9,349.4 537.3,349.1 537.7,351.2 538.1,362.9 538.5,359.9 538.9,370.7 539.3,364.1 539.7,370.0 540.1,353.9 540.5,349.1 541.0,350.9 541.4,360.4 541.8,351.7 542.2,343.4 542.6,334.1 543.0,333.3 543.4,329.9 543.8,332.6 544.2,336.7 544.6,328.4 545.0,313.5 545.4,311.3 545.8,301.7 546.2,301.3 546.6,306.8 547.0,303.5 547.5,306.6 547.9,308.7 548.3,316.1 548.7,313.3 549.1,314.3 549.5,306.3 549.9,308.1 550.3,314.8 550.7,314.8 551.1,312.4 551.5,304.4 551.9,300.4 552.3,298.6 552.7,298.7 553.1,302.6 553.6,297.1 554.0,297.1 554.4,297.1 554.7,298.3 555.2,297.1 555.6,297.1 556.0,297.1 556.4,306.4 556.8,322.0 557.2,324.4 557.5,321.7 558.0,308.5 558.4,308.3 558.8,311.7 559.2,306.7 559.6,303.8 560.1,325.5 560.5,324.3 560.8,327.5 561.3,312.5 561.7,302.6 562.1,300.2 562.5,300.8 562.9,309.5 563.3,310.1 563.7,309.1 564.1,301.6 564.5,304.3 564.9,304.0 565.3,309.7 565.8,310.0 566.2,303.6 566.6,303.3 567.0,309.5 567.4,310.4 567.8,297.1 568.2,299.0 568.6,304.8 569.0,305.1 569.4,296.1 569.8,301.0 570.2,296.9 570.6,289.7 571.0,299.1 571.3,290.8 571.9,297.2 572.2,295.0 572.5,306.7 572.7,302.2 573.1,301.3 573.5,295.1 573.9,305.0 574.3,300.6 574.7,307.8 575.1,301.6 575.5,304.0 575.9,296.0 576.3,291.4 576.7,290.0 577.1,290.0 577.5,295.2 577.9,306.3 578.4,311.7 578.8,308.0 579.2,308.3 579.6,302.6 580.0,306.9 580.4,308.5 580.8,305.6 581.2,320.2 581.6,317.8 582.0,319.7 582.4,326.7 582.8,321.2 583.2,330.2 583.6,318.6 584.0,325.7 584.5,320.4 584.9,337.1 585.3,337.5 585.7,333.6 585.8,336.7 586.1,327.6 586.5,308.9 586.7,306.7 586.9,308.1 587.3,311.6 587.7,305.4 588.1,309.6 588.3,308.3 588.5,305.3 588.9,305.3 589.3,308.0 589.7,311.0 590.0,306.7 590.5,306.3 591.0,310.0 591.4,312.8 591.8,317.1 592.2,310.3 592.6,320.6 593.0,310.8 593.4,319.3 593.8,326.9 594.2,332.3 594.6,332.3 595.0,335.3 595.4,344.5 595.8,362.4 596.2,367.5 596.7,390.0 597.0,376.3 597.5,383.4 597.9,387.6 598.3,380.6 598.7,385.0 599.2,373.3 599.5,378.5 600.0,378.3 600.3,375.8 600.7,375.6 601.1,371.6 601.5,373.3 601.9,362.6 602.3,351.7 602.7,341.2 603.1,335.3 603.3,323.3 603.5,327.2 604.0,327.8 604.4,328.7 604.8,337.6 605.2,324.2 605.6,333.8 606.0,342.5 606.4,347.9 606.8,343.9 607.2,362.4 607.6,362.4 608.0,364.2 608.4,365.5 608.8,364.3 609.2,349.5 609.6,345.8 610.0,353.3 610.5,357.1 610.9,359.4 611.3,357.8 611.7,360.4 612.1,356.1 612.5,356.7 612.9,358.2 613.3,346.7 613.7,346.8 614.1,345.6 614.5,347.0 614.9,335.6 615.3,335.5 615.7,337.4 616.1,330.6 616.5,335.1 617.0,334.4 617.4,326.7 617.8,327.3 618.2,328.0 618.3,326.7 618.6,327.3 619.0,322.4 619.4,323.7 619.8,334.4 620.2,329.8 620.6,333.9 621.0,329.9 621.4,322.3 621.7,333.3 621.8,319.8 622.2,284.9 622.6,283.4 623.1,280.7 623.3,281.7 623.9,282.6 624.3,285.1 624.7,300.3 625.0,306.7 625.5,304.7 625.9,309.4 626.3,298.4 626.7,298.3 627.1,297.4 627.5,300.9 627.9,302.1 628.3,310.0 628.8,310.8 629.1,311.9 629.6,310.2 630.0,317.4 630.4,320.3 630.8,318.6 631.2,317.1 631.6,323.6 632.0,316.9 632.5,325.0 632.8,305.1 633.3,296.7 633.6,299.1 634.0,303.7 634.4,308.5 634.8,317.0 635.0,315.0 635.2,312.5 635.7,317.9 636.1,316.0 636.5,316.0 636.9,304.5 637.3,311.1 637.7,299.7 638.1,308.3 638.5,294.0 638.9,285.4 639.3,292.5 639.7,287.2 640.0,286.7 640.5,285.4 640.9,296.0 641.4,289.9 641.7,290.0 642.2,289.6 642.6,290.9 643.0,285.4 643.3,287.5 643.8,286.8 644.2,292.6 644.6,296.2 645.0,315.4 645.4,312.5 645.8,323.6 646.2,329.4 646.6,349.3 647.0,359.6 647.4,371.0 647.9,359.0 648.2,362.8 648.7,363.5 649.2,377.5 649.5,369.7 649.9,369.2 650.3,362.9 650.7,351.8 651.1,351.5 651.5,341.8 651.9,344.0 652.3,335.2 652.5,335.8 652.7,339.9 653.1,345.4 653.5,337.6 653.9,347.5 654.4,349.7 654.8,350.3 655.2,363.0 655.6,366.4 655.8,361.7 656.4,372.0 656.8,366.2 657.2,358.3 657.6,367.3 658.0,356.4 658.4,356.2 658.8,365.4 659.2,372.4 659.6,368.3 660.0,373.3 660.5,365.4 660.9,368.1 661.3,365.2 661.7,361.2 662.1,360.8 662.5,365.5 662.9,359.8 663.3,358.3 663.7,357.2 664.1,367.6 664.5,365.8 664.9,370.2 665.3,369.0 665.7,361.7 666.1,368.2 666.5,374.5 667.0,383.7 667.4,369.4 667.8,384.6 668.2,387.2 668.3,386.7 668.6,378.8 669.0,367.7 669.4,386.1 669.8,371.1 670.2,361.1 670.6,359.4 671.0,360.9 671.4,352.2 671.7,352.5 671.8,360.5 672.2,352.2 672.6,359.0 673.0,364.1 673.5,377.1 673.9,379.6 674.3,385.5 674.7,384.6 675.0,386.7 675.5,377.5 675.9,387.8 676.3,378.5 676.7,379.0 677.1,371.5 677.5,370.0 677.9,372.2 678.3,372.1 678.7,380.0 679.1,377.0 679.5,387.2 680.0,389.2 680.4,383.6 680.8,384.3 681.2,392.4 681.3,391.7 681.6,392.4 682.0,381.9 682.4,377.1 682.8,373.1 683.2,369.8 683.6,348.2 684.2,331.7 684.4,330.7 684.8,330.7 685.2,337.0 685.6,342.7 686.0,330.7 686.5,347.6 686.9,371.0 687.3,375.3 687.7,377.0 688.1,389.5 688.5,384.2 688.9,395.7 689.3,392.3 689.7,403.8 690.1,397.8 690.5,404.5 690.9,400.0 691.3,398.0 691.7,405.0 692.1,395.8 692.6,381.0 693.0,386.7 693.4,375.8 693.8,345.2 694.2,329.4 694.6,317.3 695.0,310.8 695.4,317.9 695.8,325.0 696.2,339.1 696.6,345.3 697.0,360.1 697.4,359.5 697.8,362.6 698.2,373.7 698.6,370.3 699.1,381.5 699.5,388.7 699.9,389.3 700.3,381.6 700.7,383.5 701.1,391.2 701.5,390.8 701.9,401.9 702.3,407.0 702.5,400.0 702.7,405.0 703.1,402.4 703.3,390.0 703.5,389.2 703.9,391.1 704.3,400.3 704.8,411.2 705.1,401.5 705.6,405.0 706.0,411.2 706.4,410.6 706.8,401.0 707.2,409.1 707.6,412.9 708.0,415.7 708.4,414.6 708.8,420.0 709.2,412.8 709.6,419.4 710.0,428.3 710.4,420.6 710.9,419.4 711.2,407.2 711.7,405.6 712.1,397.4 712.5,386.4 712.9,390.5 713.3,390.9 713.7,394.5 714.1,386.8 714.5,386.4 714.9,389.8 715.3,385.2 715.7,374.9 716.1,377.3 716.5,384.6 716.9,380.1 717.4,379.9 717.8,381.2 718.2,374.6 718.6,369.9 719.0,364.7 719.4,362.2 719.8,355.6 720.2,355.4 720.6,350.4 721.0,349.4 721.4,341.1 721.8,343.6 722.2,341.1 722.6,341.1 723.0,341.1 723.3,341.7 723.9,355.6 724.3,364.2 724.7,381.8 725.0,399.2 725.5,381.9 725.9,387.5 726.3,397.4 726.7,386.7 727.1,393.4 727.5,389.4 727.9,388.8 728.3,399.9 728.7,399.7 729.2,398.3 729.5,396.4 730.0,386.2 730.4,391.0 730.8,392.5 731.2,378.2 731.6,384.5 732.0,374.2 732.4,372.1 732.8,372.9 733.2,367.6 733.6,355.5 734.0,356.5 734.4,355.5 734.8,358.0 735.0,356.7 735.2,363.3 735.6,375.0 736.0,377.4 736.5,372.9 736.9,378.8 737.3,392.0 737.7,394.3 738.1,393.4 738.3,410.0 738.9,393.2 739.3,387.5 739.7,375.4 740.0,373.3 740.5,371.6 740.8,376.7 741.3,380.3 741.7,371.7 742.1,370.3 742.5,371.5 743.0,380.4 743.4,384.3 743.8,387.3 744.2,390.9 744.5,395.0 745.0,380.4 745.4,380.3 745.8,376.3 746.0,372.0 746.2,378.3 746.6,385.0 747.0,390.0 747.2,388.0 747.4,378.3 747.8,373.4 748.2,381.7"/>
<polyline class="ln" stroke="#988ED5" points="139.0,161.5 139.4,156.4 139.8,138.8 140.2,119.4 140.6,129.0 141.0,125.2 141.3,121.7 141.8,127.0 142.2,139.2 142.7,112.2 143.1,115.8 143.5,100.3 143.9,84.2 144.2,77.5 144.7,77.5 145.1,90.1 145.5,77.4 145.9,84.9 146.3,86.2 146.7,97.1 147.1,113.8 147.5,117.8 147.9,116.8 148.3,122.6 148.8,132.6 149.2,132.2 149.6,118.9 150.0,133.8 150.4,142.3 150.8,163.3 151.2,158.7 151.6,157.9 152.0,158.6 152.4,162.3 152.8,147.4 153.2,143.3 153.6,133.5 154.0,145.5 154.4,140.7 155.0,134.2 155.3,147.2 155.7,145.2 156.2,166.7 156.5,157.5 156.9,159.5 157.3,148.3 157.7,143.5 158.1,134.2 158.5,123.0 158.9,127.4 159.3,123.9 159.7,106.0 160.0,104.2 160.5,117.0 160.9,123.9 161.3,132.2 161.8,132.5 162.0,141.7 162.2,140.7 162.6,127.2 163.0,134.0 163.4,121.3 163.8,117.1 164.2,112.6 164.6,100.9 165.0,100.9 165.5,101.7 165.8,100.9 166.2,105.5 166.6,106.4 167.0,109.7 167.4,120.1 167.9,128.7 168.3,129.3 168.7,122.6 169.1,123.0 169.5,129.8 169.9,119.6 170.3,115.6 170.7,118.4 171.1,117.2 171.5,110.3 171.9,110.0 172.3,112.0 172.5,110.8 172.7,109.6 173.1,111.2 173.6,127.2 173.9,133.3 174.4,138.6 174.8,134.8 175.2,144.6 175.3,150.0 175.6,147.2 176.0,136.3 176.4,136.0 176.8,139.6 177.2,122.2 177.6,117.6 178.0,116.0 178.4,113.0 178.8,115.4 179.2,112.4 179.6,115.0 180.1,113.1 180.5,119.7 180.9,118.6 181.3,111.9 181.7,111.5 182.1,115.0 182.5,116.3 182.9,106.1 183.3,106.1 183.7,106.1 184.1,108.1 184.5,106.1 185.0,107.5 185.3,106.1 185.7,116.2 186.2,127.2 186.6,133.5 187.0,146.3 187.4,148.7 187.8,153.9 188.0,160.8 188.2,159.1 188.6,146.3 189.0,127.7 189.4,129.7 189.8,133.1 190.2,127.5 190.6,126.2 191.0,124.7 191.4,124.5 191.8,118.6 192.2,125.0 192.7,127.5 193.1,118.1 193.3,116.7 193.9,111.3 194.3,123.3 194.7,116.9 195.1,112.2 195.5,112.4 195.9,99.9 196.3,85.4 196.7,85.8 197.1,95.0 197.5,96.7 197.9,116.8 198.3,130.0 198.8,129.6 199.2,125.1 199.6,122.6 200.0,109.9 200.4,98.8 200.8,100.8 201.2,98.6 201.6,83.3 202.0,92.3 202.5,84.2 202.8,93.0 203.2,97.1 203.6,96.7 204.0,102.3 204.4,93.4 204.8,91.4 205.2,104.8 205.7,106.6 206.1,108.4 206.5,108.6 206.9,113.6 207.3,131.0 207.7,147.5 208.1,133.5 208.5,130.4 208.9,128.2 209.3,114.6 209.7,108.7 210.1,115.2 210.5,112.6 210.9,117.1 211.3,110.0 211.8,122.1 212.2,127.7 212.6,142.4 212.8,138.3 213.4,125.3 213.8,122.7 214.2,127.1 214.6,123.8 215.0,120.0 215.3,115.0 215.8,145.1 216.0,150.8 216.2,145.9 216.6,132.0 217.0,123.5 217.4,118.7 217.8,105.8 218.0,104.7 218.2,105.8 218.7,105.8 219.1,109.7 219.5,123.8 219.9,122.2 220.3,127.0 220.7,125.8 221.1,131.7 221.5,139.7 221.9,139.4 222.3,145.7 222.7,149.4 223.1,148.8 223.5,151.2 223.9,156.6 224.3,142.6 224.8,163.6 225.2,174.4 225.6,170.0 226.0,175.0 226.4,167.6 226.8,167.7 227.2,163.5 227.6,146.0 228.0,149.1 228.4,144.6 228.8,150.7 229.2,137.5 229.6,140.5 230.0,136.7 230.4,135.4 230.8,138.6 231.3,146.4 231.7,148.1 232.0,146.7 232.5,136.8 232.9,138.2 233.3,147.9 233.7,140.1 234.1,148.1 234.5,136.5 234.9,140.3 235.3,142.4 235.7,141.4 236.1,143.3 236.5,146.2 236.9,138.7 237.4,137.9 237.8,135.3 238.2,135.0 238.3,135.8 238.6,142.8 239.0,146.0 239.4,141.4 239.8,144.3 240.2,147.8 240.6,142.2 241.0,146.6 241.3,146.7 241.8,136.1 242.2,133.7 242.6,130.8 243.1,123.9 243.4,126.4 243.9,126.3 244.3,120.2 244.7,121.7 245.1,128.8 245.5,132.8 245.9,135.4 246.3,144.4 246.7,139.6 247.1,143.4 247.5,139.8 247.9,156.7 248.3,159.1 248.7,162.2 249.1,165.2 249.6,165.3 249.9,173.1 250.4,168.6 250.8,163.7 251.2,167.7 251.6,165.3 252.0,168.6 252.5,171.7 252.8,168.9 253.2,164.9 253.6,167.0 254.0,142.3 254.4,137.6 254.8,141.2 255.2,135.5 255.6,138.5 256.1,127.4 256.5,132.7 256.9,144.8 257.3,131.2 257.7,127.4 258.1,131.7 258.5,130.2 258.9,132.4 259.3,129.4 259.7,120.2 260.0,113.3 260.5,112.8 260.9,119.6 261.3,131.2 261.7,130.4 262.1,136.0 262.6,145.0 263.0,146.7 263.4,137.0 263.8,124.9 264.2,107.4 264.6,103.3 265.0,109.1 265.5,95.8 265.8,96.8 266.2,98.9 266.6,106.5 267.0,104.6 267.4,108.8 267.8,103.6 268.2,115.1 268.6,122.1 269.1,138.2 269.5,157.1 269.9,162.3 270.3,169.0 270.7,160.5 271.1,164.8 271.5,163.2 271.9,163.5 272.3,160.3 272.5,168.3 272.7,163.7 273.1,161.6 273.5,165.8 273.9,162.0 274.3,162.3 274.8,150.5 275.1,154.3 275.6,151.6 276.0,150.8 276.4,155.3 276.8,152.7 277.2,143.1 277.6,130.2 278.0,134.6 278.3,133.3 278.8,129.0 279.2,133.0 279.7,136.7 280.0,128.5 280.4,127.1 280.8,135.4 281.2,127.2 281.7,131.8 282.1,136.5 282.5,125.8 282.9,132.3 283.3,124.7 283.7,130.8 284.1,132.3 284.5,132.7 284.9,132.9 285.3,135.7 285.8,138.3 286.1,129.5 286.5,136.6 286.9,121.2 287.4,127.4 287.8,115.5 288.2,113.6 288.6,114.9 289.0,109.6 289.4,95.0 289.8,92.8 290.2,86.9 290.6,98.5 291.0,89.1 291.2,86.7 291.4,93.2 291.8,90.1 292.2,108.0 292.6,102.6 293.0,114.6 293.4,109.4 293.7,111.7 293.9,116.0 294.3,119.1 294.7,109.5 295.0,109.2 295.5,109.4 295.9,123.7 296.3,127.8 296.7,123.7 297.1,120.1 297.5,122.0 297.9,132.4 298.3,131.8 298.7,143.3 299.1,144.0 299.5,150.3 300.0,135.0 300.4,127.4 300.8,142.0 301.2,138.4 301.7,155.0 302.0,149.3 302.4,147.0 302.8,136.7 303.2,130.6 303.6,122.8 304.0,110.3 304.4,112.4 304.8,112.0 305.2,110.3 305.6,117.6 305.8,111.7 306.0,110.8 306.4,110.3 306.9,110.3 307.3,111.2 307.7,116.7 308.1,119.1 308.5,132.2 308.9,139.5 309.3,141.6 309.7,148.9 310.1,154.5 310.5,155.9 310.8,155.0 311.3,150.1 311.7,152.6 312.1,151.6 312.5,140.7 312.9,133.7 313.4,137.7 313.8,132.9 314.2,133.9 314.6,131.6 315.0,131.6 315.4,129.3 315.8,131.7 316.2,141.9 316.6,124.4 317.0,125.8 317.4,126.3 317.8,130.7 318.2,142.0 318.6,124.4 319.1,135.8 319.4,139.5 319.9,142.1 320.3,134.9 320.7,147.3 321.1,156.4 321.5,148.9 321.9,166.1 322.3,160.3 322.7,164.5 323.1,171.3 323.5,174.9 323.9,167.9 324.3,178.7 324.7,182.8 325.0,182.5 325.6,180.3 326.0,180.2 326.4,171.2 326.8,170.4 327.2,167.2 327.6,168.4 328.0,156.5 328.4,153.9 328.8,145.4 329.2,144.5 329.6,153.4 330.0,154.0 330.4,139.2 330.8,141.7 331.2,140.7 331.6,142.9 332.1,146.0 332.5,141.7 332.9,124.5 333.3,118.3 333.7,122.0 334.1,119.4 334.5,116.8 334.9,114.3 335.3,111.4 335.8,115.8 336.1,115.4 336.5,115.9 336.9,112.2 337.3,118.8 337.5,117.5 337.7,116.5 338.1,108.6 338.6,112.7 339.0,102.1 339.4,113.3 339.8,109.6 340.2,98.6 340.3,94.2 340.6,94.7 341.0,97.7 341.4,104.1 341.7,106.7 342.2,106.2 342.6,107.9 343.0,102.1 343.3,105.0 343.8,105.6 344.2,112.3 344.6,111.1 345.1,113.4 345.5,121.6 345.9,126.2 346.3,123.5 346.7,139.2 347.1,131.1 347.5,131.3 347.9,140.2 348.3,134.1 348.7,132.7 349.2,140.0 349.5,135.1 349.9,141.2 350.3,135.7 350.8,130.8 351.2,125.1 351.6,109.8 352.0,109.4 352.4,109.4 352.8,109.4 353.2,109.4 353.6,109.4 354.0,109.4 354.4,109.4 354.8,109.4 355.0,110.8 355.2,109.4 355.6,117.5 356.0,120.5 356.4,122.3 356.9,137.1 357.2,128.4 357.7,128.5 358.1,130.0 358.5,125.5 358.9,131.6 359.3,135.3 359.7,155.6 360.0,165.0 360.5,154.3 360.9,147.8 361.3,119.3 361.7,133.5 362.1,130.3 362.5,110.7 362.9,106.8 363.4,112.0 363.8,106.8 364.2,108.3 364.6,106.8 365.0,109.2 365.4,127.2 365.8,125.5 366.2,127.6 366.6,134.2 367.0,140.2 367.4,135.1 367.8,151.9 368.2,146.3 368.6,143.7 369.0,144.5 369.4,146.8 369.9,142.5 370.3,155.7 370.7,146.5 371.1,164.5 371.5,164.5 371.9,152.1 372.3,164.5 372.7,164.5 373.1,161.3 373.5,164.5 373.9,163.6 374.2,163.3 374.3,164.5 374.7,156.6 375.1,152.5 375.5,150.6 375.9,138.0 376.4,134.4 376.8,124.8 377.2,121.6 377.6,121.2 378.0,122.5 378.4,121.1 378.8,121.1 379.2,133.1 379.6,137.5 380.0,140.6 380.4,142.0 380.8,143.3 381.2,135.3 381.6,143.2 382.0,138.3 382.4,141.3 383.0,151.7 383.3,146.0 383.7,156.2 384.2,150.0 384.5,149.6 384.9,142.2 385.3,156.4 385.8,160.0 386.1,152.7 386.5,154.5 386.9,154.1 387.3,160.9 387.7,160.4 388.1,155.0 388.6,160.6 388.9,151.4 389.4,157.4 389.8,155.8 390.2,150.3 390.6,143.6 391.0,150.3 391.4,145.4 391.8,149.6 392.2,147.8 392.5,145.0 393.0,143.0 393.4,144.1 393.8,153.5 394.2,145.8 394.6,132.4 395.1,130.8 395.5,144.7 395.9,134.4 396.3,147.2 396.7,124.6 397.1,121.8 397.5,117.8 398.0,118.7 398.3,125.8 398.7,124.5 399.1,135.5 399.5,144.6 399.9,143.3 400.3,147.2 400.7,156.3 401.1,156.1 401.6,167.0 402.0,158.1 402.5,161.7 402.8,156.6 403.2,162.6 403.6,161.3 404.0,156.9 404.2,160.0 404.4,159.0 404.8,169.1 405.2,171.7 405.6,177.3 406.0,176.0 406.4,169.2 406.7,176.7 406.8,176.4 407.2,177.3 407.6,170.7 408.1,171.1 408.3,168.3 408.9,167.3 409.3,177.3 409.7,170.9 410.0,175.0 410.5,166.3 410.9,169.8 411.3,176.3 411.7,174.1 412.1,170.5 412.5,163.7 412.9,162.0 413.3,163.2 413.8,154.7 414.1,159.7 414.6,155.0 415.0,143.0 415.4,140.9 415.8,144.6 416.3,141.7 416.6,142.0 417.0,140.7 417.4,140.7 417.8,144.3 418.2,151.1 418.6,158.4 419.0,151.3 419.4,160.0 419.8,169.4 420.2,175.2 420.6,184.5 420.8,185.0 421.1,184.5 421.5,180.8 421.9,176.3 422.3,174.2 422.7,159.0 423.1,160.0 423.5,161.5 423.9,159.5 424.3,156.6 424.7,152.4 425.1,152.8 425.5,145.7 425.8,141.7 426.3,143.9 426.8,140.2 427.2,147.2 427.6,148.5 428.0,148.7 428.4,147.7 428.7,155.0 429.2,151.5 429.6,142.2 430.0,138.4 430.4,137.0 430.8,134.9 431.3,130.0 431.6,141.9 432.0,133.3 432.4,147.2 432.9,144.4 433.2,150.1 433.7,162.3 434.1,160.7 434.5,163.8 434.9,173.2 435.3,169.5 435.7,180.4 436.1,185.6 436.5,187.2 436.9,179.1 437.3,202.5 437.7,198.0 438.1,210.4 438.5,205.8 438.9,206.2 439.2,215.0 439.4,214.0 439.8,201.4 440.2,206.7 440.6,194.9 441.0,188.5 441.4,182.1 441.8,180.8 442.2,169.9 442.6,175.4 443.0,153.6 443.4,152.8 443.8,154.7 444.2,155.3 444.6,154.1 445.0,142.8 445.4,141.7 445.8,143.0 446.3,142.5 446.7,143.7 447.1,162.9 447.5,169.7 447.9,160.5 448.3,172.8 448.7,177.2 449.1,177.3 449.5,177.6 449.9,197.3 450.3,199.9 450.7,203.4 451.1,206.1 451.7,215.0 451.9,214.0 452.4,194.7 452.8,189.4 453.2,195.5 453.6,183.8 454.0,168.1 454.4,152.6 454.8,152.3 455.0,153.3 455.2,152.3 455.6,153.5 456.0,156.6 456.4,163.4 456.8,165.2 457.2,166.9 457.5,171.7 458.1,166.2 458.4,168.1 458.9,168.0 459.3,151.7 459.7,153.5 460.0,140.8 460.5,148.9 460.9,150.8 461.3,161.4 461.7,154.2 462.1,160.9 462.5,160.0 462.9,141.1 463.3,137.4 463.7,138.5 464.1,133.7 464.7,134.2 465.0,140.5 465.4,139.4 465.8,135.4 466.2,156.2 466.6,149.8 467.0,154.1 467.4,151.1 467.8,160.9 468.2,156.0 468.6,165.4 469.0,164.2 469.4,165.7 469.8,170.5 470.2,177.3 470.6,166.6 471.1,172.0 471.5,174.0 471.7,175.0 471.9,178.5 472.3,165.5 472.7,169.4 473.0,166.7 473.5,175.9 473.9,185.8 474.2,188.3 474.7,186.5 475.1,168.2 475.5,159.0 475.9,152.3 476.3,146.2 476.7,139.2 477.1,146.6 477.6,140.4 478.0,143.3 478.4,137.9 478.8,143.1 479.2,141.7 479.6,141.6 480.0,141.0 480.4,147.7 480.8,151.6 481.2,148.6 481.7,155.0 482.0,140.9 482.4,146.1 482.8,143.9 483.2,143.6 483.6,136.7 484.2,137.5 484.5,136.6 484.9,150.2 485.3,153.5 485.7,169.5 486.1,182.1 486.3,188.3 486.5,185.2 486.9,173.8 487.3,160.3 487.7,150.8 488.0,150.8 488.5,149.5 488.9,152.0 489.3,156.5 489.8,166.8 490.1,167.9 490.3,171.7 490.6,171.2 491.0,166.2 491.4,163.8 491.8,155.5 492.2,154.7 492.6,162.2 493.0,150.0 493.4,155.4 493.8,149.3 494.2,151.7 494.6,151.7 495.0,149.0 495.4,143.7 495.8,134.4 496.2,141.0 496.7,135.8 497.1,134.4 497.5,138.5 497.9,139.7 498.3,152.1 498.7,158.5 499.1,160.6 499.5,171.8 499.9,176.9 500.3,172.7 500.7,180.1 501.1,184.5 501.5,190.8 501.9,191.5 502.4,202.6 502.8,203.8 503.2,204.9 503.6,214.6 504.0,219.2 504.4,222.2 504.8,229.1 505.0,229.2 505.2,229.1 505.6,229.1 506.0,222.3 506.4,214.9 506.8,201.3 507.2,211.5 507.6,197.2 508.0,197.1 508.4,198.1 508.7,186.7 508.9,190.1 509.3,191.6 509.7,200.4 510.0,201.7 510.5,190.2 510.9,189.5 511.3,193.6 511.7,188.5 512.1,177.2 512.5,175.6 512.9,166.4 513.3,172.3 513.7,156.7 514.1,158.7 514.5,159.6 515.0,149.9 515.4,143.0 515.8,146.6 516.2,128.7 516.6,120.7 517.0,120.0 517.4,118.8 517.8,124.6 518.2,142.8 518.6,136.4 519.0,148.6 519.4,146.6 519.8,158.2 520.2,153.5 520.6,163.7 520.8,163.3 521.0,159.8 521.5,149.2 521.9,144.4 522.3,141.3 522.7,154.5 523.1,148.0 523.5,142.6 523.9,140.2 524.2,135.0 524.7,136.7 525.0,136.7 525.5,132.3 525.8,130.0 526.3,128.3 526.7,133.3 527.1,134.9 527.5,128.3 528.0,132.5 528.3,130.0 528.8,128.0 529.2,122.1 529.6,122.1 530.0,122.1 530.3,123.3 530.8,122.1 531.2,136.1 531.7,135.0 532.0,137.7 532.4,129.4 532.8,122.2 533.0,130.0 533.2,125.7 533.7,131.7 534.2,127.5 534.5,138.7 534.9,144.2 535.3,149.2 535.7,140.4 536.1,156.3 536.5,152.4 536.7,156.7 536.9,151.8 537.3,140.2 537.7,132.8 538.1,125.8 538.5,114.0 538.9,115.1 539.3,102.1 539.7,98.2 540.1,97.4 540.3,97.5 540.5,97.4 541.0,97.4 541.4,101.8 541.8,109.6 542.2,114.2 542.6,127.1 543.0,123.3 543.4,115.8 543.8,113.1 544.3,113.3 544.6,113.0 545.0,135.2 545.4,139.3 545.8,143.3 546.2,144.3 546.6,138.5 547.0,142.2 547.5,132.0 547.9,124.5 548.3,119.8 548.7,124.1 549.1,119.4 549.5,123.5 549.9,114.0 550.3,111.8 550.7,112.6 551.1,104.6 551.7,106.7 551.9,107.1 552.3,109.5 552.5,108.3 552.7,118.9 553.1,101.6 553.6,109.0 554.0,100.0 554.4,100.0 554.8,106.4 555.2,96.6 555.6,108.3 556.0,101.1 556.4,104.8 556.8,91.2 557.2,88.2 557.6,97.1 558.0,85.3 558.4,82.1 558.8,83.6 559.2,82.9 559.6,83.6 560.1,82.1 560.5,82.8 560.9,80.3 561.3,78.8 561.7,80.0 562.1,87.7 562.5,101.4 562.9,97.3 563.3,97.3 563.7,106.8 564.2,110.0 564.5,114.7 564.9,107.1 565.3,96.4 565.8,90.0 566.2,95.1 566.7,120.0 567.0,115.6 567.4,101.7 567.8,89.2 568.3,90.0 568.6,94.0 569.0,89.2 569.4,100.2 569.8,104.6 570.2,99.9 570.6,102.4 571.0,100.4 571.4,117.0 571.7,118.3 571.9,116.8 572.2,109.2 572.7,102.9 573.0,101.7 573.5,102.3 573.7,103.3 573.9,108.3 574.2,100.8 574.7,110.6 575.1,123.9 575.3,126.7 575.5,123.9 575.9,112.4 576.3,105.7 576.7,105.6 577.1,94.3 577.5,95.5 577.9,89.8 578.4,90.3 578.8,85.4 579.2,85.3 579.5,86.7 580.0,85.3 580.4,92.7 580.8,91.4 581.2,100.5 581.6,99.1 582.0,112.4 582.4,125.6 582.8,128.0 583.3,131.7 583.6,112.7 584.0,100.0 584.5,100.4 584.9,90.1 585.3,70.7 585.7,65.0 586.1,54.7 586.5,54.4 586.7,49.2 586.9,57.8 587.3,55.8 587.7,58.8 588.1,69.6 588.5,70.3 588.9,71.1 589.3,78.5 589.7,93.7 590.1,83.0 590.5,82.6 591.0,85.9 591.4,102.6 591.8,103.4 592.2,102.2 592.6,101.8 593.0,110.7 593.4,121.5 593.8,118.9 594.2,111.2 594.6,137.3 595.0,128.2 595.4,121.3 595.8,126.8 596.2,128.1 596.6,124.4 597.0,133.9 597.5,140.8 597.9,135.0 598.3,148.3 598.7,144.4 599.1,140.6 599.5,137.0 600.0,135.0 600.3,136.6 600.7,139.0 601.1,139.6 601.5,148.5 601.9,144.1 602.3,160.3 602.7,156.7 603.1,158.1 603.3,160.0 603.5,157.7 604.0,155.2 604.4,133.5 604.8,130.9 605.2,106.4 605.6,101.5 606.0,100.8 606.4,91.2 606.7,90.0 607.2,92.0 607.6,95.0 608.0,97.6 608.4,114.1 608.8,108.0 609.2,113.9 609.6,127.9 610.0,126.2 610.5,133.6 610.8,146.7 611.3,135.9 611.7,121.7 612.1,126.6 612.5,121.6 612.9,108.1 613.3,109.4 613.7,105.0 614.1,108.0 614.5,103.8 614.9,114.6 615.3,113.0 615.7,129.6 616.1,131.9 616.5,131.1 617.0,135.9 617.4,135.9 617.8,126.7 618.2,134.2 618.3,135.0 618.6,133.0 619.0,132.3 619.4,135.9 619.8,130.9 620.2,125.8 620.6,127.2 621.0,124.6 621.4,110.7 621.7,115.8 621.8,111.0 622.0,117.5 622.2,111.9 622.6,119.5 623.1,122.9 623.5,112.8 623.9,101.9 624.3,98.1 624.7,92.1 625.1,103.0 625.5,89.6 625.9,89.6 626.2,90.0 626.7,97.5 627.1,112.4 627.5,111.9 627.9,128.4 628.3,124.0 628.8,123.8 629.2,130.0 629.6,129.0 630.0,123.3 630.4,130.4 630.8,148.8 631.2,148.4 631.6,152.3 632.0,160.9 632.4,174.4 632.8,166.9 633.2,172.2 633.6,167.6 634.2,175.8 634.4,168.8 634.8,160.8 635.2,162.1 635.7,139.0 636.1,127.5 636.5,121.6 636.7,121.7 636.9,121.2 637.3,121.2 637.7,128.9 638.1,130.8 638.5,131.0 638.9,145.7 639.3,152.6 639.7,153.0 640.0,155.8 640.5,146.1 640.9,146.4 641.4,135.0 641.8,124.5 642.2,119.9 642.5,115.0 643.0,101.4 643.3,116.7 643.8,118.5 644.2,115.8 644.6,123.4 645.0,126.7 645.4,114.9 645.8,106.4 646.2,90.9 646.6,85.3 647.0,85.2 647.5,84.2 647.9,85.0 648.3,85.0 648.7,84.5 649.2,84.2 649.5,82.8 650.0,85.0 650.3,83.4 650.8,84.2 651.1,82.8 651.5,92.3 651.9,100.7 652.3,105.2 652.7,105.4 653.1,97.9 653.3,113.3 653.5,113.5 653.9,93.5 654.2,95.0 654.4,101.9 654.8,104.2 655.2,109.7 655.6,111.8 656.0,112.4 656.4,120.7 656.7,130.0 657.2,125.4 657.6,108.3 658.0,109.3 658.4,102.1 658.8,87.5 659.2,88.9 659.6,93.8 660.0,103.3 660.5,106.9 660.9,118.7 661.3,112.9 661.7,115.4 662.1,126.5 662.5,133.6 662.9,128.2 663.3,142.5 663.7,145.6 664.1,146.5 664.5,145.6 664.9,150.0 665.3,154.2 665.8,153.3 666.1,146.2 666.5,138.4 667.0,135.0 667.5,115.0 667.8,109.8 668.2,113.6 668.6,133.0 669.0,121.8 669.2,126.7 669.4,124.1 669.8,119.7 670.2,103.4 670.6,104.4 671.0,97.3 671.4,97.3 671.8,98.2 672.2,105.7 672.5,98.3 673.0,97.3 673.5,106.4 673.9,108.5 674.3,100.7 674.7,109.4 675.1,101.5 675.5,113.8 675.9,108.3 676.3,109.1 676.7,118.6 677.1,116.0 677.5,129.2 677.9,130.0 678.3,127.1 678.7,132.2 679.1,152.7 679.5,150.6 680.0,151.7 680.4,149.7 680.8,147.9 681.2,148.5 681.6,152.7 682.0,133.6 682.4,149.1 682.8,140.3 683.2,139.1 683.6,139.2 684.0,125.9 684.4,130.3 684.8,129.2 685.2,125.2 685.6,111.6 686.0,117.9 686.5,122.8 686.9,104.4 687.3,103.4 687.7,101.5 688.1,94.2 688.3,96.7 688.5,93.7 688.9,98.7 689.2,98.3 689.7,95.8 690.0,95.8 690.5,93.0 690.8,96.7 691.3,95.6 691.7,95.0 692.1,99.4 692.6,88.9 693.0,89.5 693.4,94.6 693.8,88.9 694.2,94.0 694.7,90.0 695.0,95.5 695.4,100.3 695.8,94.1 696.2,99.6 696.6,103.0 697.0,100.7 697.5,118.3 697.8,116.2 698.2,105.7 698.6,97.3 699.1,96.6 699.5,89.5 699.9,93.9 700.3,84.0 700.7,71.2 701.1,58.5 701.5,62.1 701.9,58.7 702.3,57.9 702.5,59.2 702.7,66.5 703.1,58.2 703.5,63.0 703.9,65.5 704.3,76.1 704.7,75.0 705.1,73.8 705.6,72.4 706.0,59.6 706.4,59.5 706.8,61.1 707.2,69.0 707.6,71.1 708.0,81.5 708.4,86.8 708.8,82.2 709.2,89.6 709.6,97.0 710.0,100.2 710.4,112.2 710.9,106.2 711.2,113.9 711.7,105.0 712.1,113.5 712.5,118.3 712.9,109.0 713.3,125.0 713.7,124.1 714.1,129.6 714.5,130.7 715.0,130.0 715.3,128.9 715.7,119.2 716.1,124.8 716.5,112.8 716.9,115.6 717.4,116.0 717.8,116.7 718.2,107.5 718.6,111.5 719.0,99.4 719.4,104.2 719.7,98.0 720.2,101.6 720.6,101.2 721.0,99.3 721.4,104.1 721.8,103.5 722.2,98.8 722.6,106.0 723.0,108.5 723.4,100.1 723.9,109.8 724.3,115.6 724.7,121.4 725.0,120.0 725.5,122.6 725.9,118.9 726.3,118.5 726.7,124.8 727.1,124.8 727.5,124.8 728.0,117.5 728.3,116.1 728.7,116.1 729.1,126.4 729.5,122.8 730.0,116.1 730.4,116.6 730.8,123.0 731.2,132.3 731.6,119.0 732.0,119.6 732.4,127.1 732.8,129.9 733.2,132.5 733.6,138.6 734.0,149.6 734.2,150.0 734.4,146.3 734.8,142.3 735.2,142.6 735.6,135.1 736.0,126.6 736.5,128.8 736.9,131.3 737.3,122.1 737.7,114.3 738.1,109.5 738.5,109.7 738.9,106.8 739.3,106.6 739.7,108.3 740.1,102.7 740.5,109.4 740.9,111.5 741.3,103.3 741.7,106.8 742.1,94.2 742.5,93.9 743.0,91.3 743.2,92.2 743.4,91.3 743.8,99.3 744.2,113.9 744.6,114.0 745.0,117.3 745.4,121.6 745.8,126.3 746.0,130.5 746.2,128.0 746.6,114.8 746.9,109.0 747.4,113.7 747.8,110.4 748.2,123.8"/>
<polyline class="ln" stroke="#777777" points="139.0,325.8 139.4,328.2 139.8,329.8 140.2,323.9 140.6,316.9 140.8,321.7 141.0,334.0 141.4,329.8 141.8,331.0 142.2,325.6 142.5,331.7 142.7,325.8 143.1,328.3 143.5,321.7 143.9,323.1 144.3,324.4 144.7,310.0 145.1,305.8 145.5,317.6 145.9,312.7 146.3,309.4 146.7,307.0 147.1,301.0 147.5,278.8 147.9,286.0 148.3,290.5 148.8,280.4 149.2,277.5 149.6,276.0 150.0,279.5 150.4,277.3 150.8,280.1 151.2,276.8 151.6,285.8 152.0,282.5 152.4,278.7 152.8,295.7 153.2,294.4 153.6,299.4 154.2,308.3 154.4,304.1 154.8,302.1 155.3,301.1 155.7,303.2 155.8,291.7 156.1,300.2 156.5,297.3 156.9,292.1 157.3,297.3 157.7,300.4 158.1,310.2 158.5,302.2 158.9,292.7 159.3,301.8 159.7,309.5 160.1,306.9 160.5,320.9 160.8,330.0 161.3,326.3 161.8,319.4 162.2,320.0 162.6,309.6 163.0,313.0 163.4,314.6 163.8,308.8 164.2,308.3 164.6,307.9 165.0,321.2 165.4,326.4 165.8,325.0 166.2,326.4 166.6,320.6 167.0,320.2 167.4,312.6 167.9,316.2 168.3,313.1 168.7,306.8 169.1,306.1 169.5,313.9 169.9,306.4 170.3,292.9 170.8,293.3 171.1,294.2 171.5,297.6 171.9,307.2 172.3,305.2 172.7,312.3 173.1,316.5 173.6,324.7 173.9,316.3 174.4,322.7 174.8,317.5 175.0,328.3 175.2,329.1 175.6,327.7 176.0,324.2 176.4,324.5 176.7,320.0 177.2,324.2 177.6,323.4 178.0,337.5 178.3,331.7 178.8,338.3 179.2,336.6 179.6,322.2 180.0,320.0 180.5,325.1 180.9,340.4 181.3,369.2 181.7,361.2 182.1,354.4 182.5,338.8 182.9,352.9 183.3,349.6 183.7,363.1 184.1,345.5 184.5,342.2 184.9,336.8 185.3,338.9 185.7,335.3 186.2,339.1 186.6,332.9 187.0,328.9 187.4,323.5 187.8,323.7 188.2,318.2 188.6,317.0 189.0,314.6 189.2,315.0 189.4,321.8 189.8,331.7 190.2,327.6 190.6,338.3 190.8,340.0 191.0,338.3 191.4,325.0 191.8,315.9 192.2,324.6 192.5,311.7 193.1,310.9 193.5,311.2 193.9,320.1 194.3,320.4 194.7,316.2 195.1,325.8 195.5,324.7 195.8,328.3 196.3,329.6 196.7,319.4 197.1,321.4 197.5,317.8 197.9,307.0 198.3,308.5 198.8,311.7 199.2,308.3 199.6,315.7 200.0,321.4 200.4,327.2 200.8,335.0 201.2,325.4 201.6,317.3 202.0,317.1 202.4,307.4 202.8,306.4 203.2,296.2 203.6,297.7 204.2,291.7 204.4,291.4 204.8,291.4 205.2,302.5 205.7,304.1 205.8,303.3 206.1,298.7 206.5,297.0 206.9,296.6 207.3,300.1 207.5,298.3 207.7,300.7 208.1,295.9 208.5,302.6 208.9,305.1 209.3,311.9 209.7,313.7 210.1,328.5 210.5,330.7 210.8,330.0 211.3,330.7 211.8,330.7 212.2,311.5 212.5,316.7 213.0,315.6 213.4,334.3 213.8,334.1 214.2,328.3 214.6,320.4 215.0,315.6 215.4,320.3 215.8,321.7 216.2,318.5 216.6,326.9 217.0,332.3 217.5,345.0 217.8,344.5 218.2,337.3 218.7,329.4 219.1,332.0 219.5,328.2 219.9,323.3 220.3,318.4 220.7,318.9 221.1,309.0 221.5,317.5 221.9,311.9 222.3,309.0 222.5,310.0 222.7,315.0 223.1,313.4 223.5,323.3 223.9,323.4 224.3,337.2 224.8,338.0 225.0,353.3 225.2,337.2 225.6,323.6 225.8,315.0 226.4,318.2 226.8,319.4 227.2,323.8 227.5,320.0 228.0,308.9 228.4,312.0 228.8,316.3 229.2,301.5 229.6,303.6 230.0,295.5 230.4,286.4 230.8,281.7 231.3,294.7 231.7,295.0 232.1,311.1 232.5,297.5 232.9,312.5 233.3,328.0 233.7,336.2 234.2,351.7 234.5,343.2 234.9,330.2 235.3,331.8 235.8,315.0 236.1,315.6 236.5,317.0 236.9,331.2 237.5,331.7 237.8,329.2 238.2,309.0 238.6,304.4 239.0,291.1 239.2,289.2 239.4,291.1 239.8,305.4 240.2,292.6 240.6,316.1 241.0,323.8 241.4,309.1 241.8,318.3 242.2,317.2 242.5,320.0 243.1,316.5 243.4,318.3 243.9,311.6 244.3,303.3 244.7,305.0 245.1,303.8 245.5,292.9 245.9,288.9 246.3,287.7 246.7,288.8 247.1,277.9 247.5,279.2 247.9,277.9 248.3,287.5 248.7,285.7 249.1,300.1 249.6,306.1 249.9,303.9 250.4,310.8 250.8,318.1 251.2,317.0 251.6,320.9 252.0,309.2 252.4,324.1 252.8,310.1 253.2,325.2 253.6,339.5 254.2,341.7 254.4,335.1 254.8,320.9 255.2,325.4 255.6,318.2 256.1,318.1 256.5,311.5 256.9,304.7 257.3,300.3 257.5,296.7 257.7,297.1 258.1,310.3 258.5,306.0 258.9,314.9 259.3,309.6 259.7,318.0 260.1,320.0 260.5,331.0 260.9,326.8 261.3,331.1 261.7,327.9 262.1,326.7 262.6,329.7 263.0,326.4 263.4,329.9 263.8,329.4 264.2,322.5 264.6,321.1 265.0,328.0 265.4,332.7 265.8,335.0 266.2,336.3 266.6,333.0 267.0,325.8 267.5,323.3 267.8,321.1 268.2,321.7 268.6,334.9 269.2,331.7 269.5,321.1 269.9,329.2 270.3,328.5 270.7,319.5 270.8,321.7 271.1,323.5 271.5,325.2 271.9,329.1 272.3,327.2 272.5,328.3 272.7,328.0 273.1,324.1 273.5,316.9 273.9,317.5 274.3,307.9 274.8,307.6 275.1,315.4 275.6,310.6 275.8,308.3 276.4,308.7 276.8,312.0 277.2,315.5 277.5,315.0 278.0,308.5 278.4,304.3 278.8,296.8 279.2,296.7 279.6,302.5 280.0,310.9 280.4,304.3 280.8,308.0 281.2,309.7 281.7,318.1 282.1,315.5 282.5,326.0 282.9,333.1 283.3,341.0 283.7,361.7 284.2,361.7 284.5,361.6 284.9,353.9 285.3,345.0 285.7,353.6 286.1,353.8 286.7,350.0 286.9,345.9 287.4,317.8 287.8,322.9 288.2,326.7 288.6,325.4 289.0,318.5 289.4,305.1 289.8,305.1 290.0,305.0 290.2,319.1 290.6,341.8 291.0,356.7 291.4,348.4 291.8,336.3 292.2,324.3 292.6,314.7 293.0,306.7 293.4,306.9 293.9,324.6 294.3,329.2 294.7,339.1 295.1,351.1 295.5,344.5 295.9,351.9 296.3,365.0 296.7,375.0 297.1,356.7 297.5,355.0 297.9,348.3 298.3,331.7 298.7,342.0 299.2,355.0 299.5,337.0 299.9,318.0 300.4,314.6 300.8,310.0 301.2,310.9 301.6,314.7 302.0,327.0 302.4,317.4 302.8,325.9 303.2,330.5 303.6,327.9 304.0,328.3 304.4,343.8 304.8,337.4 305.2,341.3 305.6,335.7 306.0,343.2 306.4,343.5 306.9,350.5 307.3,340.7 307.7,358.1 308.1,360.8 308.3,361.7 308.9,348.9 309.3,355.0 309.7,348.3 310.1,352.5 310.5,360.4 310.9,350.6 311.3,354.8 311.7,361.5 312.1,371.1 312.5,370.0 312.9,366.5 313.4,367.4 313.7,358.3 314.2,356.5 314.7,366.7 315.0,368.9 315.4,367.2 315.8,353.0 316.2,351.0 316.7,370.0 317.0,366.7 317.4,345.9 317.7,345.0 317.8,345.1 318.3,355.0 318.6,341.8 319.1,339.8 319.4,340.2 319.9,327.6 320.3,324.1 320.7,318.0 321.1,322.0 321.3,315.0 321.5,315.0 321.9,315.0 322.3,317.2 322.7,334.3 323.1,329.8 323.5,339.6 323.9,351.1 324.3,340.3 324.7,338.3 325.1,328.9 325.6,337.0 326.0,335.6 326.4,338.3 326.7,331.7 327.2,361.1 327.5,372.5 328.0,360.6 328.4,351.4 328.8,335.7 329.2,340.9 329.6,339.9 330.0,328.3 330.4,329.0 330.8,342.6 331.2,349.7 331.7,351.7 332.1,336.6 332.5,323.3 332.9,322.6 333.3,328.6 333.7,331.7 334.1,315.4 334.5,321.1 334.9,308.8 335.3,320.3 335.7,312.2 336.1,299.0 336.5,301.0 336.9,292.8 337.3,296.0 337.7,291.7 338.1,292.4 338.6,293.9 339.0,295.7 339.2,283.3 339.4,286.4 339.8,291.6 340.2,290.5 340.6,300.5 341.0,309.9 341.4,317.3 341.8,305.9 342.2,326.2 342.6,318.3 343.0,324.6 343.4,328.0 343.8,320.5 344.2,331.7 344.6,323.5 345.1,324.0 345.5,320.1 345.9,307.9 346.3,308.8 346.7,313.5 347.1,310.3 347.5,304.1 347.9,311.0 348.3,303.0 348.7,292.7 349.1,291.3 349.5,290.8 349.9,301.4 350.3,310.4 350.8,315.0 351.2,315.0 351.6,303.8 352.0,307.1 352.4,305.2 352.8,301.2 353.2,297.6 353.6,295.3 354.0,295.2 354.2,295.8 354.4,295.2 354.8,300.2 355.2,307.2 355.6,304.7 355.8,306.7 356.0,301.4 356.4,299.2 356.9,297.1 357.2,301.3 357.5,300.0 357.7,304.7 358.1,312.3 358.5,331.8 358.9,319.7 359.2,331.7 359.7,323.2 360.1,329.5 360.5,322.1 360.9,314.2 361.3,310.7 361.7,311.2 362.1,300.6 362.5,288.1 362.9,286.7 363.4,280.2 363.8,283.8 364.2,281.7 364.6,280.9 365.0,297.8 365.4,307.6 365.8,305.6 366.2,306.3 366.6,313.0 367.0,313.2 367.4,310.8 367.8,319.6 368.2,319.5 368.6,328.8 369.2,328.3 369.4,328.8 369.9,319.9 370.3,325.9 370.7,303.2 371.1,295.5 371.5,295.3 371.9,281.9 372.3,282.5 372.5,271.7 372.7,273.5 373.1,284.8 373.5,289.8 373.9,286.7 374.3,300.4 374.7,307.8 375.1,307.5 375.5,319.4 375.8,323.3 376.4,324.3 376.8,315.0 377.2,309.9 377.6,307.6 378.0,301.7 378.4,296.6 378.8,293.9 379.2,295.0 379.6,307.8 380.0,313.7 380.4,316.9 380.8,315.8 381.3,315.0 381.6,308.6 382.0,312.3 382.4,303.0 382.9,300.6 383.3,299.8 383.7,301.9 384.2,290.0 384.5,293.3 384.9,295.5 385.3,297.4 385.8,303.3 386.1,297.8 386.5,287.7 386.9,289.9 387.3,289.6 387.7,286.0 388.1,286.5 388.6,290.1 388.9,280.1 389.2,280.0 389.4,279.4 389.8,288.3 390.2,293.2 390.6,295.3 391.0,296.1 391.4,301.4 391.8,299.4 392.2,303.2 392.6,312.8 393.0,314.5 393.4,320.8 393.8,325.0 394.2,334.4 394.6,341.1 395.1,341.1 395.5,341.1 395.8,340.0 396.3,336.1 396.7,332.7 397.1,314.7 397.5,310.4 397.9,315.9 398.3,310.4 398.7,316.0 399.2,311.7 399.5,323.1 399.9,331.8 400.3,337.7 400.8,351.7 401.1,345.0 401.6,345.7 402.0,349.1 402.5,340.0 402.8,349.4 403.2,341.8 403.6,342.4 404.0,341.3 404.4,351.5 404.8,349.5 405.2,368.0 405.6,359.1 406.0,360.8 406.4,372.4 406.8,377.1 407.2,378.3 407.6,380.4 408.0,380.8 408.5,378.3 408.9,371.6 409.3,366.0 409.7,355.1 410.1,358.4 410.5,353.0 410.8,331.7 411.3,334.9 411.7,350.0 412.1,343.8 412.5,313.3 412.9,312.1 413.3,322.9 413.8,327.3 414.2,331.7 414.6,328.3 415.0,329.1 415.4,325.1 415.8,323.3 416.2,324.1 416.6,328.7 417.0,332.3 417.4,336.7 417.8,342.6 418.3,361.7 418.6,351.0 419.0,344.8 419.4,330.4 419.8,316.8 420.2,317.8 420.6,321.5 421.1,322.0 421.5,322.5 421.9,319.1 422.3,316.8 422.5,317.5 422.7,316.8 423.1,316.8 423.5,320.3 423.9,334.2 424.3,340.3 424.7,346.2 425.1,345.1 425.5,360.3 425.9,349.8 426.3,361.7 426.8,345.6 427.2,330.1 427.5,308.3 428.0,315.7 428.4,319.9 428.8,319.9 429.2,316.1 429.6,323.4 430.0,331.0 430.4,328.3 430.8,331.7 431.2,329.0 431.6,336.7 432.0,324.8 432.5,320.0 432.9,320.0 433.2,318.9 433.7,328.3 434.1,335.9 434.5,330.8 434.9,334.5 435.3,334.2 435.7,341.2 436.1,343.6 436.5,346.6 436.9,348.8 437.3,348.9 437.5,348.3 437.7,350.5 438.1,343.9 438.5,337.7 438.9,337.8 439.2,338.3 439.4,338.7 439.8,347.6 440.2,345.2 440.6,355.1 441.0,345.4 441.4,349.0 441.8,338.6 442.2,350.1 442.5,355.8 443.0,337.8 443.4,334.0 443.8,330.0 444.2,326.7 444.6,323.9 445.0,319.6 445.4,299.9 445.9,298.3 446.3,297.6 446.7,289.8 447.1,286.4 447.5,282.2 448.0,280.0 448.3,284.6 448.7,298.1 449.1,297.0 449.5,300.8 449.9,312.3 450.3,313.1 450.7,312.8 451.1,312.8 451.5,314.0 451.9,318.8 452.4,325.2 452.8,327.2 453.2,344.2 453.6,351.1 453.8,355.0 454.4,345.6 454.7,341.7 455.2,338.7 455.6,361.8 455.8,367.5 456.0,356.3 456.4,351.1 456.7,340.0 456.8,341.6 457.2,348.1 457.5,358.3 458.1,344.9 458.4,330.1 458.9,337.3 459.3,324.4 459.7,324.5 460.1,320.9 460.5,320.9 460.9,319.0 461.3,313.5 461.7,311.7 462.1,311.9 462.5,313.9 462.9,311.7 463.3,315.1 463.7,319.1 464.1,316.9 464.6,325.4 465.0,323.3 465.4,323.9 465.8,311.0 466.2,311.4 466.7,321.7 467.0,317.5 467.4,322.0 467.8,321.6 468.3,325.0 468.6,325.1 469.0,321.5 469.4,326.4 469.8,325.8 470.2,326.4 470.6,326.4 471.1,322.1 471.5,326.4 471.9,325.3 472.3,312.3 472.7,316.3 473.1,325.8 473.5,316.1 473.9,314.2 474.3,302.4 474.7,296.2 475.1,295.0 475.5,290.1 475.9,282.7 476.3,269.2 476.7,266.3 477.0,264.2 477.6,272.4 478.0,293.6 478.4,298.0 478.8,307.6 479.2,314.6 479.6,317.7 480.0,327.0 480.4,326.5 480.8,330.7 481.2,333.4 481.6,332.9 482.0,343.1 482.5,350.0 482.8,328.5 483.2,316.4 483.6,303.7 484.2,305.0 484.5,310.9 484.9,319.3 485.3,322.5 485.7,322.4 486.1,321.5 486.5,336.1 486.7,331.7 486.9,328.6 487.3,331.3 487.7,330.4 488.1,322.7 488.3,321.7 488.5,327.9 488.9,331.6 489.3,352.4 489.8,357.6 490.0,361.7 490.1,357.6 490.6,344.5 491.0,328.9 491.4,335.9 491.8,321.0 492.2,307.9 492.6,303.9 493.0,309.8 493.4,316.8 493.8,298.1 494.2,304.4 494.6,300.0 495.0,301.0 495.4,306.6 495.8,288.5 496.2,288.6 496.7,290.0 497.1,292.2 497.5,302.1 497.9,303.6 498.3,306.8 498.7,300.7 499.1,318.5 499.5,310.9 500.0,323.3 500.3,322.8 500.7,320.9 501.1,314.4 501.5,305.4 501.9,319.3 502.4,309.1 502.8,305.3 503.2,314.3 503.3,301.7 503.6,306.0 504.0,316.2 504.4,322.3 504.7,328.3 505.2,314.8 505.6,312.6 506.0,309.1 506.4,310.1 506.8,302.4 507.2,303.5 507.5,303.3 508.0,321.8 508.4,336.5 508.9,347.8 509.3,345.4 509.7,359.2 510.1,356.0 510.5,345.9 510.9,341.7 511.3,337.5 511.7,337.4 512.1,334.5 512.5,323.4 512.9,328.1 513.3,315.0 513.7,317.2 514.2,333.3 514.5,318.1 515.0,306.7 515.4,309.3 515.8,305.9 516.2,313.8 516.6,305.9 517.0,309.1 517.4,317.4 517.8,314.1 518.2,321.4 518.6,319.5 519.0,322.1 519.4,325.0 519.8,336.0 520.2,340.0 520.6,341.8 521.0,345.8 521.5,355.3 521.7,355.8 521.9,355.1 522.3,350.5 522.7,350.4 523.1,342.3 523.5,322.2 523.9,335.2 524.2,316.7 524.7,316.7 525.1,314.3 525.5,320.8 525.8,336.7 526.3,320.0 526.7,320.4 527.1,329.1 527.5,315.0 528.0,325.0 528.3,330.0 528.8,318.9 529.2,296.1 529.6,297.2 530.0,293.0 530.4,289.1 530.8,289.8 531.2,287.0 531.7,288.3 532.0,293.6 532.4,302.8 532.8,302.1 533.2,302.9 533.6,295.3 534.0,307.6 534.5,308.8 534.9,310.3 535.3,313.8 535.7,333.2 535.8,336.7 536.1,333.2 536.5,319.5 536.7,320.0 536.9,327.3 537.3,319.2 537.7,317.8 538.0,323.3 538.5,324.2 538.9,316.5 539.2,316.7 539.3,327.3 539.7,351.4 540.0,359.2 540.5,351.6 541.0,348.7 541.4,337.9 541.8,328.8 542.0,328.3 542.2,337.2 542.6,337.8 543.0,333.7 543.3,336.7 543.8,336.5 544.2,330.0 544.6,332.6 545.0,323.7 545.4,317.3 545.8,321.3 546.2,310.4 546.6,312.9 547.0,309.5 547.5,306.7 547.9,320.5 548.3,340.8 548.7,327.8 549.2,301.7 549.5,294.4 549.9,312.8 550.3,296.1 550.8,306.7 551.1,311.0 551.5,307.8 551.9,292.7 552.3,279.3 552.7,285.3 553.1,279.1 553.6,278.9 554.0,284.6 554.2,275.0 554.4,274.3 554.8,278.8 555.2,286.1 555.6,284.4 556.0,279.1 556.4,284.4 556.8,289.2 557.2,295.5 557.5,295.0 558.0,295.5 558.4,285.0 558.8,286.2 559.2,276.0 559.6,278.9 560.1,280.4 560.5,267.1 560.9,278.6 561.3,266.4 561.7,266.7 562.1,266.7 562.5,274.8 562.9,278.4 563.3,280.6 563.7,286.6 564.1,291.2 564.5,291.2 565.0,290.0 565.3,290.7 565.8,281.5 566.2,287.9 566.6,282.7 567.0,279.7 567.5,277.5 567.8,280.1 568.2,279.9 568.6,283.5 569.0,289.2 569.4,287.7 569.8,299.2 570.2,300.1 570.6,302.3 571.0,310.2 571.4,305.9 571.9,302.3 572.2,316.9 572.7,313.6 573.1,332.5 573.3,336.7 573.9,327.7 574.2,313.3 574.7,324.8 575.1,330.3 575.5,341.5 575.8,346.7 576.3,346.3 576.7,334.9 577.1,320.8 577.5,315.0 577.9,313.8 578.3,323.3 578.8,313.8 579.2,306.7 579.6,319.7 580.0,340.0 580.4,329.0 580.8,310.0 581.2,313.6 581.6,329.8 582.0,331.6 582.5,340.0 582.8,329.2 583.2,327.0 583.6,310.0 584.2,296.7 584.5,305.5 585.0,330.0 585.3,311.8 585.7,303.0 585.8,293.3 586.1,306.8 586.5,293.1 586.9,300.6 587.3,296.0 587.5,295.0 587.7,299.9 588.1,298.9 588.5,293.3 588.9,294.6 589.2,291.7 589.3,290.7 589.7,298.1 590.1,304.6 590.5,299.2 591.0,302.6 591.4,303.8 591.8,309.6 592.2,307.7 592.6,325.3 593.0,337.1 593.4,318.3 593.8,310.7 594.2,322.6 594.6,325.1 595.0,353.3 595.4,352.6 595.8,358.2 596.2,356.1 596.7,361.7 597.0,361.9 597.5,355.4 597.9,343.9 598.3,357.8 598.7,352.3 599.2,345.0 599.5,357.5 599.9,360.3 600.3,365.9 600.8,365.8 601.1,360.4 601.5,359.4 601.9,336.8 602.3,336.8 602.7,336.6 603.0,336.7 603.5,337.3 604.0,338.6 604.4,356.4 604.8,356.3 605.0,360.0 605.2,358.8 605.6,357.4 606.0,339.0 606.4,322.8 606.8,314.2 607.2,305.8 607.5,306.7 608.0,314.7 608.4,316.4 608.8,318.6 609.2,325.9 609.6,324.4 610.0,336.7 610.5,320.9 610.9,309.0 611.3,301.9 611.7,303.5 612.1,303.0 612.5,301.7 612.9,304.5 613.3,300.2 613.7,306.9 614.1,306.6 614.5,322.6 615.0,343.3 615.3,330.7 615.7,317.1 616.1,313.1 616.5,309.4 617.0,309.1 617.4,306.5 617.8,305.5 618.2,298.7 618.6,297.3 619.0,308.0 619.2,296.7 619.4,313.9 619.8,327.4 620.0,330.0 620.2,322.3 620.6,305.0 621.0,301.1 621.4,297.2 621.7,303.3 621.8,320.4 622.2,339.2 622.5,348.3 623.1,346.2 623.5,339.7 623.9,330.6 624.3,328.8 624.7,319.7 625.1,321.8 625.5,322.8 625.9,305.7 626.3,313.9 626.7,308.9 627.1,317.4 627.5,306.7 627.9,305.3 628.3,322.3 628.8,319.6 629.1,322.9 629.6,328.2 630.0,341.5 630.4,343.6 630.8,359.4 631.2,353.2 631.6,356.5 632.0,361.0 632.4,371.3 632.8,381.8 633.0,382.5 633.2,381.8 633.6,363.5 634.0,372.4 634.4,373.4 634.8,367.0 635.2,352.7 635.7,337.9 636.1,340.0 636.5,327.2 636.9,335.5 637.3,325.5 637.5,326.7 637.7,325.8 638.1,325.5 638.5,325.5 638.9,332.0 639.3,339.5 639.7,326.3 640.1,334.6 640.5,338.8 640.8,343.3 641.4,343.4 641.8,329.3 642.2,326.5 642.6,331.6 643.0,310.9 643.4,314.7 643.8,307.6 644.2,305.3 644.6,302.7 645.0,304.2 645.4,308.3 645.8,302.9 646.2,301.8 646.6,313.1 647.0,316.2 647.5,316.7 647.9,311.4 648.3,298.3 648.7,298.6 649.2,306.7 649.5,304.9 650.0,291.7 650.3,305.9 650.8,295.0 651.1,294.8 651.5,287.1 651.7,289.2 651.9,303.3 652.3,297.6 652.5,293.3 652.7,289.5 653.1,285.3 653.3,283.3 653.5,288.7 653.9,297.0 654.4,303.6 654.8,312.3 655.2,324.0 655.6,335.5 656.0,354.4 656.4,370.1 656.8,365.8 657.0,377.5 657.2,374.0 657.6,363.7 658.0,363.4 658.4,359.9 658.8,352.2 659.2,340.9 659.6,330.8 660.0,339.6 660.5,332.6 660.9,339.4 661.3,321.8 661.7,323.3 662.1,330.5 662.5,322.5 662.9,324.2 663.3,326.7 663.7,321.8 664.2,325.0 664.5,330.9 664.9,334.6 665.3,341.5 665.7,349.7 666.1,344.5 666.5,347.8 667.0,353.3 667.4,360.4 667.8,353.5 668.2,361.4 668.3,363.3 668.6,357.0 669.0,351.8 669.4,338.7 669.8,335.3 670.2,323.5 670.6,307.4 670.8,308.3 671.0,307.4 671.4,316.2 671.8,315.5 672.2,322.4 672.6,313.3 673.0,328.1 673.5,330.5 673.9,337.0 674.3,334.3 674.7,340.8 675.1,337.7 675.5,335.9 675.9,342.8 676.3,360.4 676.7,360.0 677.1,358.3 677.5,346.5 677.9,349.1 678.3,352.2 678.7,344.8 679.1,358.2 679.5,351.6 680.0,354.0 680.4,352.7 680.8,348.5 681.2,348.5 681.6,356.7 682.0,353.1 682.4,350.7 682.8,347.6 683.2,356.7 683.6,359.1 684.0,367.2 684.4,373.5 684.8,373.5 685.0,373.3 685.2,368.7 685.6,353.1 686.0,354.9 686.5,333.1 686.9,329.1 687.3,327.0 687.7,324.5 688.1,323.4 688.5,323.0 688.9,312.1 689.3,309.6 689.7,310.4 690.0,310.8 690.5,310.0 690.9,329.7 691.3,318.4 691.7,330.3 692.1,325.7 692.6,331.6 693.0,343.0 693.3,341.7 693.8,335.2 694.2,335.1 694.6,332.0 695.0,327.1 695.4,323.9 695.8,323.3 696.2,336.1 696.7,333.3 697.0,340.5 697.4,336.3 697.8,322.7 698.3,321.7 698.6,320.7 699.1,320.7 699.5,320.7 699.9,333.8 700.3,336.5 700.7,344.9 701.1,345.4 701.5,348.2 701.9,343.4 702.3,353.7 702.7,364.3 703.1,359.7 703.5,366.1 703.9,368.1 704.3,375.4 704.8,377.9 705.0,373.3 705.1,382.8 705.6,361.7 706.0,364.9 706.4,360.1 706.7,358.3 707.2,366.2 707.6,379.7 708.0,379.3 708.3,403.3 708.8,389.8 709.2,379.1 709.6,391.4 710.0,377.4 710.4,368.1 710.9,375.6 711.2,366.9 711.7,372.2 712.1,363.8 712.5,355.6 712.9,344.4 713.3,349.5 713.7,353.1 714.1,343.1 714.5,339.1 714.9,341.2 715.3,339.7 715.7,334.6 716.1,339.7 716.5,345.3 716.9,341.4 717.4,333.7 717.8,331.0 718.2,326.3 718.3,318.3 718.6,327.0 719.0,327.7 719.4,326.5 719.8,321.5 720.2,332.2 720.6,335.7 721.0,342.1 721.4,349.8 721.8,347.2 722.2,363.7 722.6,372.0 723.0,383.2 723.3,391.7 723.9,376.5 724.3,353.0 724.7,360.2 725.1,363.4 725.5,369.5 725.8,355.0 726.3,375.5 726.7,385.0 727.1,360.6 727.5,336.1 727.9,347.9 728.3,336.2 728.7,335.2 729.1,331.5 729.5,325.3 730.0,326.4 730.4,325.9 730.8,323.6 731.2,328.3 731.7,325.0 732.0,323.6 732.4,324.8 732.8,341.3 733.2,338.7 733.6,347.0 734.0,344.1 734.4,349.7 734.8,349.7 735.0,350.0 735.2,347.0 735.6,347.1 736.0,344.3 736.5,332.1 736.9,327.4 737.3,324.9 737.7,324.9 738.0,325.8 738.5,336.4 738.9,335.2 739.3,340.0 739.7,344.8 740.1,354.9 740.5,359.3 740.8,358.3 741.3,350.5 741.7,352.1 742.1,335.5 742.5,338.5 743.0,340.0 743.4,351.6 743.8,356.4 744.2,359.4 744.5,365.0 745.0,348.7 745.4,353.0 745.8,339.8 746.0,335.0 746.2,336.1 746.6,346.1 747.0,350.6 747.2,350.0 747.4,358.0 747.8,351.5 748.2,345.8"/>
<polyline class="ln" stroke="#FBC15E" points="139.0,238.5 139.4,240.9 139.8,247.6 140.2,260.6 140.6,261.9 141.0,260.8 141.4,261.9 141.8,251.4 142.0,248.3 142.2,249.3 142.7,255.0 143.0,258.3 143.5,249.8 143.9,237.0 144.2,241.7 144.7,249.3 145.1,249.5 145.3,251.7 145.5,251.6 145.9,239.1 146.3,235.0 146.7,245.9 147.1,270.4 147.5,280.0 147.9,259.5 148.3,255.0 148.8,257.4 149.2,268.3 149.6,246.1 150.0,235.0 150.4,259.8 150.8,275.0 151.2,257.5 151.7,231.7 152.0,254.2 152.5,265.0 152.8,257.0 153.2,248.0 153.7,240.0 154.0,247.4 154.4,243.7 155.0,255.0 155.3,255.1 155.7,241.1 156.1,233.1 156.3,233.3 156.9,237.5 157.3,238.9 157.7,248.3 158.1,238.3 158.5,228.6 158.9,226.8 159.2,220.8 159.3,221.9 159.7,230.7 160.1,241.8 160.3,240.0 160.5,243.3 160.9,226.4 161.3,230.2 161.7,235.0 162.2,252.9 162.6,260.3 163.0,269.4 163.4,278.6 163.8,294.2 164.2,305.0 164.6,283.0 165.0,272.0 165.3,265.0 165.8,281.7 166.2,281.6 166.6,281.1 167.0,274.0 167.4,266.4 167.9,272.3 168.3,267.8 168.7,265.6 169.1,263.7 169.5,263.7 170.0,265.0 170.3,267.4 170.7,274.3 171.1,278.0 171.5,285.6 171.7,285.0 171.9,277.4 172.3,280.9 172.7,271.7 173.1,283.0 173.7,293.3 173.9,287.3 174.4,284.4 174.8,284.3 175.2,275.3 175.6,270.8 176.0,276.5 176.3,268.3 176.8,270.6 177.2,264.6 177.6,270.2 178.0,284.2 178.3,290.0 178.8,279.7 179.2,265.5 179.6,246.6 180.1,251.7 180.5,248.1 180.8,247.5 181.3,258.5 181.7,272.9 182.0,271.7 182.5,268.5 182.9,257.1 183.3,255.5 183.7,252.2 184.1,255.7 184.5,251.1 185.0,245.0 185.3,251.7 185.7,252.6 186.2,258.5 186.7,265.0 187.0,270.8 187.4,255.0 187.8,254.7 188.2,267.1 188.3,263.3 188.6,264.6 189.0,266.6 189.4,268.3 189.8,268.8 190.0,275.0 190.2,263.8 190.6,272.7 191.0,265.5 191.3,255.0 191.8,275.7 192.2,288.9 192.5,286.7 193.1,263.3 193.5,259.2 193.7,260.0 193.9,263.6 194.3,281.3 194.7,288.5 195.1,294.7 195.5,301.7 195.9,301.6 196.3,285.3 196.7,276.7 197.1,271.8 197.5,257.1 197.9,248.0 198.3,247.1 198.8,245.8 199.2,234.2 199.6,220.8 200.0,217.2 200.4,225.7 200.8,219.7 201.3,235.0 201.6,243.2 202.0,227.8 202.5,226.7 202.8,217.4 203.2,224.9 203.6,246.4 204.0,241.0 204.4,240.4 204.8,244.2 205.0,251.7 205.2,238.8 205.7,247.5 206.1,240.0 206.5,234.6 206.7,240.0 206.9,238.0 207.3,242.3 207.7,246.9 208.0,256.7 208.5,255.8 208.9,250.9 209.2,245.0 209.7,253.2 210.1,253.4 210.5,255.0 210.9,250.4 211.3,253.5 211.7,241.7 212.2,250.1 212.6,243.2 213.0,258.3 213.4,255.5 213.8,246.2 214.2,251.7 214.6,261.9 215.0,259.6 215.3,268.3 215.8,267.7 216.2,261.2 216.7,258.3 217.0,256.3 217.4,269.4 217.8,269.4 218.3,268.3 218.7,269.4 219.1,264.6 219.5,265.7 220.0,256.7 220.3,251.2 220.7,255.6 221.1,256.4 221.5,254.6 221.7,260.0 221.9,255.0 222.3,260.2 222.7,256.4 223.1,249.6 223.3,251.7 223.5,246.2 223.9,260.0 224.3,260.2 224.8,265.0 225.0,266.7 225.2,266.0 225.6,262.4 226.0,251.0 226.3,243.3 226.8,239.8 227.2,237.5 227.7,251.7 228.0,251.0 228.4,245.0 228.8,233.7 229.2,231.8 229.6,229.0 230.0,229.2 230.4,231.2 230.8,249.5 231.3,241.7 231.7,236.3 232.1,239.0 232.5,239.0 232.9,228.4 233.3,230.4 233.7,229.2 234.1,223.8 234.5,223.8 234.7,224.2 234.9,230.2 235.3,233.7 235.7,239.1 236.1,243.8 236.7,248.3 236.9,238.4 237.4,239.1 237.8,247.8 238.2,243.6 238.3,241.7 238.6,236.9 239.0,257.2 239.4,247.1 239.7,251.7 240.2,250.6 240.6,248.3 240.8,243.3 241.0,261.1 241.4,256.9 241.8,261.3 242.2,254.2 242.6,262.5 243.1,264.7 243.3,268.3 243.9,260.0 244.3,256.8 244.7,264.8 245.1,262.7 245.5,254.8 245.9,244.1 246.3,242.2 246.7,243.6 247.1,227.8 247.5,228.1 247.9,216.0 248.3,225.8 248.7,220.4 249.2,212.5 249.6,217.1 249.9,220.7 250.4,221.3 250.8,220.7 251.2,222.8 251.7,226.7 252.0,214.8 252.4,217.7 252.8,222.6 253.0,221.7 253.2,226.0 253.6,220.8 254.2,235.0 254.4,229.5 254.8,234.3 255.2,236.1 255.6,224.1 256.1,197.8 256.5,200.0 256.9,196.1 257.3,189.4 257.5,188.3 257.7,194.2 258.1,190.6 258.5,197.4 258.7,205.0 258.9,216.5 259.3,204.2 259.7,204.8 260.0,195.0 260.5,204.8 260.9,192.5 261.3,201.7 261.7,178.5 262.1,173.5 262.6,173.7 263.0,168.6 263.4,160.6 263.8,149.5 264.2,153.6 264.6,153.0 265.0,147.1 265.4,133.8 265.8,135.0 266.2,145.8 266.6,139.8 267.0,152.0 267.4,170.2 267.8,174.0 268.2,175.8 268.6,187.7 269.1,188.0 269.5,191.0 269.7,195.0 269.9,191.4 270.3,199.1 270.7,188.7 271.0,188.3 271.5,199.3 271.9,202.7 272.3,205.0 272.7,205.8 273.1,201.7 273.7,198.3 273.9,202.9 274.3,214.3 274.8,217.1 275.0,211.7 275.1,215.4 275.6,212.4 276.0,215.4 276.3,205.0 276.8,210.4 277.2,202.5 277.6,214.7 278.0,217.6 278.4,209.1 278.8,226.1 279.2,221.4 279.6,215.9 280.0,218.5 280.4,216.7 280.8,233.6 281.2,242.5 281.7,234.5 282.1,226.2 282.5,231.0 282.9,246.7 283.3,253.8 283.7,260.6 284.2,269.2 284.5,258.9 284.9,257.3 285.3,253.0 285.7,244.5 286.1,242.8 286.5,243.7 286.9,238.0 287.4,236.3 287.5,231.7 287.8,239.3 288.2,242.1 288.6,246.2 289.0,259.7 289.4,258.4 289.8,260.2 290.2,270.8 290.6,276.1 290.8,277.5 291.0,267.1 291.4,270.7 291.8,271.1 292.0,265.0 292.2,271.7 292.6,265.5 293.0,268.7 293.4,274.4 293.9,266.4 294.2,271.7 294.7,255.7 295.1,236.1 295.5,248.3 295.9,234.8 296.3,236.6 296.7,226.7 297.1,225.8 297.5,239.3 298.0,235.0 298.3,225.3 298.7,225.3 299.2,228.3 299.5,227.3 299.9,232.9 300.4,233.9 300.8,240.0 301.2,244.0 301.6,239.5 302.0,244.0 302.5,235.0 302.8,232.8 303.2,239.0 303.6,244.0 304.0,240.1 304.2,243.3 304.4,239.7 304.8,236.3 305.2,233.7 305.6,222.9 306.0,221.1 306.4,221.7 306.7,220.8 306.9,222.0 307.3,235.0 307.7,235.0 308.1,247.6 308.5,254.6 308.9,261.6 309.3,260.4 309.7,259.8 310.1,257.6 310.5,254.3 310.9,267.1 311.3,271.4 311.7,276.7 312.1,276.2 312.5,277.7 313.0,268.3 313.4,271.6 313.8,274.1 314.2,287.9 314.7,290.0 315.0,289.5 315.4,276.7 315.8,265.0 316.2,263.0 316.6,268.4 317.0,263.0 317.4,271.3 317.8,274.7 318.3,281.7 318.6,282.2 319.2,261.7 319.4,272.5 319.9,277.5 320.3,279.6 320.7,279.0 321.1,278.6 321.5,282.2 321.7,280.0 321.9,274.4 322.3,244.9 322.7,249.4 323.1,245.6 323.5,242.9 323.9,228.2 324.2,226.7 324.3,234.0 324.7,233.2 325.1,243.6 325.6,251.0 326.0,239.8 326.4,244.7 326.7,246.7 327.2,247.0 327.7,235.0 328.0,235.8 328.3,240.0 328.8,225.6 329.2,217.4 329.6,215.5 330.0,208.2 330.4,204.6 330.8,194.3 331.2,189.9 331.7,188.3 332.1,187.1 332.5,190.3 332.8,195.0 333.3,190.3 333.7,190.1 334.2,190.0 334.5,199.1 334.9,198.1 335.3,206.3 335.7,212.7 336.1,220.9 336.5,213.5 336.9,221.8 337.3,226.5 337.7,222.2 338.1,228.3 338.6,226.6 339.0,230.2 339.2,235.0 339.4,226.5 339.8,240.9 340.2,232.2 340.3,231.7 340.6,235.8 341.0,232.9 341.4,240.2 341.7,240.0 342.2,230.6 342.6,230.6 343.0,235.0 343.4,241.3 343.8,241.3 344.3,243.3 344.6,237.6 345.1,241.9 345.5,243.4 345.8,235.0 346.3,241.4 346.7,250.0 347.1,245.7 347.5,237.0 347.9,243.4 348.3,251.7 348.7,245.4 349.1,243.2 349.7,240.0 349.9,239.7 350.3,241.1 350.8,249.7 351.0,248.3 351.2,243.1 351.6,242.0 352.0,239.7 352.3,241.7 352.8,247.3 353.2,253.9 353.7,251.7 354.0,253.1 354.4,256.5 354.8,249.1 355.0,248.3 355.2,258.0 355.6,253.5 356.0,255.8 356.4,258.5 356.7,258.3 356.9,255.0 357.2,248.2 357.7,245.5 358.1,237.0 358.5,236.3 358.9,230.5 359.2,231.7 359.7,230.8 360.1,239.5 360.5,242.4 360.9,239.9 361.3,240.0 361.7,241.1 362.1,220.5 362.5,220.9 362.9,223.4 363.4,227.8 363.8,208.6 364.2,210.0 364.6,215.8 365.0,210.8 365.4,219.7 365.8,226.6 366.2,234.8 366.6,237.3 367.0,251.3 367.4,252.8 367.8,265.6 368.3,266.7 368.6,261.3 369.0,254.8 369.4,256.6 369.9,258.4 370.3,255.2 370.7,243.3 371.1,251.6 371.3,243.3 371.9,252.2 372.3,253.5 372.5,255.0 372.7,259.4 373.1,253.3 373.5,253.5 373.7,248.3 373.9,245.6 374.3,255.0 374.7,259.5 375.1,267.5 375.5,270.4 375.8,271.7 376.4,262.3 376.7,251.7 377.2,259.7 377.6,259.6 378.0,261.3 378.4,269.2 378.8,256.8 379.2,265.0 379.6,248.8 380.0,250.3 380.4,251.4 380.8,244.3 381.2,234.6 381.6,233.0 382.0,167.9 382.4,167.5 382.9,168.2 383.3,157.2 383.7,158.6 384.2,158.3 384.5,169.1 384.9,170.1 385.3,177.2 385.7,195.2 386.1,205.9 386.5,210.5 386.9,213.7 387.3,226.2 387.5,228.3 387.7,216.6 388.1,207.6 388.7,210.0 388.9,211.6 389.4,219.0 389.7,218.3 390.2,215.2 390.6,201.7 391.0,183.5 391.4,186.3 391.8,184.8 392.2,174.2 392.6,169.5 393.0,167.3 393.4,166.0 393.8,166.0 394.2,167.0 394.6,169.4 395.1,176.1 395.5,174.7 395.9,170.1 396.3,177.1 396.7,184.2 397.1,184.7 397.5,183.3 397.9,183.3 398.3,179.7 398.7,180.0 399.1,175.8 399.5,176.9 399.9,183.6 400.3,182.4 400.7,201.1 401.1,198.2 401.6,208.2 402.0,206.2 402.4,219.1 402.8,227.1 403.2,234.5 403.6,245.3 404.0,237.0 404.4,237.4 404.8,258.0 405.2,251.5 405.6,258.0 405.8,258.3 406.0,256.5 406.4,256.3 406.8,246.5 407.2,230.5 407.6,232.1 408.1,226.8 408.5,230.9 408.9,222.5 409.2,223.3 409.7,235.4 410.1,233.9 410.5,231.8 410.9,235.4 411.3,235.7 411.7,237.5 412.1,228.9 412.5,236.9 412.9,246.3 413.3,242.6 413.8,253.1 414.2,251.7 414.6,233.4 415.0,239.7 415.4,241.7 415.8,237.1 416.2,241.5 416.7,238.3 417.0,247.6 417.4,240.2 417.8,237.1 418.2,251.8 418.6,255.7 419.2,255.0 419.4,254.6 419.8,247.8 420.2,249.4 420.6,253.4 421.1,249.6 421.5,247.3 421.7,248.3 421.9,247.3 422.3,261.5 422.7,261.3 423.1,267.2 423.5,269.2 423.9,267.3 424.2,271.7 424.7,262.3 425.0,265.0 425.5,272.1 425.9,256.2 426.3,268.3 426.8,260.8 427.2,258.7 427.5,258.3 428.0,261.9 428.4,268.6 428.7,261.7 429.2,261.5 429.6,257.3 430.0,248.3 430.4,243.9 430.8,246.3 431.2,246.0 431.6,247.6 432.0,244.2 432.4,238.0 432.9,236.4 433.3,230.0 433.7,232.7 434.1,240.3 434.5,235.4 434.9,238.3 435.3,238.3 435.7,238.9 436.1,244.6 436.5,253.0 436.9,248.4 437.3,247.1 437.7,252.1 438.1,257.4 438.3,256.7 438.5,257.4 438.9,250.8 439.4,246.5 439.8,244.1 440.2,241.5 440.6,245.7 441.0,242.9 441.4,237.4 441.8,240.2 442.2,231.9 442.6,231.8 443.0,217.9 443.4,215.5 443.8,212.6 444.2,212.6 444.6,219.3 445.0,213.3 445.4,215.0 445.9,236.7 446.3,233.7 446.7,252.2 447.1,252.5 447.5,248.0 447.9,252.3 448.3,258.0 448.7,256.2 449.1,262.2 449.5,256.3 449.9,254.4 450.3,258.5 450.7,261.8 451.1,267.9 451.3,270.0 451.5,270.6 451.9,264.4 452.4,270.6 452.8,264.8 453.2,253.1 453.6,252.9 454.0,252.3 454.4,247.1 454.8,250.5 455.2,247.2 455.6,243.2 456.0,235.0 456.4,235.0 456.7,235.0 456.8,246.8 457.2,238.4 457.6,235.0 458.1,238.7 458.4,256.1 458.9,244.6 459.3,265.8 459.7,260.8 460.1,262.1 460.5,280.8 460.9,286.1 461.3,283.1 461.7,274.1 462.1,283.3 462.5,295.3 462.9,296.7 463.3,299.0 463.7,301.7 464.1,302.1 464.6,295.9 465.0,301.1 465.4,290.8 465.8,285.0 466.2,300.3 466.6,302.6 467.0,304.6 467.4,315.7 467.8,318.8 468.2,319.4 468.7,320.0 469.0,292.3 469.4,281.1 469.8,242.6 470.2,230.7 470.5,225.0 471.1,225.3 471.5,233.8 471.9,246.5 472.3,268.3 472.7,263.2 473.1,247.5 473.3,255.0 473.5,263.9 473.9,250.7 474.3,252.5 474.7,261.7 475.1,247.5 475.5,252.4 475.8,251.7 476.3,258.6 476.7,258.7 477.0,258.3 477.6,262.8 478.0,252.6 478.3,248.3 478.8,258.7 479.2,250.6 479.7,255.0 480.0,256.4 480.4,253.8 480.8,245.0 481.2,243.7 481.6,248.2 482.0,251.7 482.4,254.2 482.8,244.0 483.3,248.3 483.6,252.0 484.1,256.7 484.5,251.2 484.9,258.7 485.3,265.5 485.7,269.8 486.1,269.8 486.5,269.7 486.9,256.6 487.3,250.9 487.7,253.3 488.1,252.4 488.5,241.7 488.9,239.5 489.2,240.0 489.3,244.1 489.8,242.2 490.1,254.2 490.6,253.8 491.0,260.1 491.4,265.0 491.8,262.3 492.2,265.7 492.6,266.1 493.0,262.0 493.3,275.0 493.8,268.6 494.2,273.4 494.6,274.6 495.0,251.1 495.4,256.9 495.8,245.0 496.2,240.0 496.7,226.1 497.1,218.8 497.5,213.6 497.9,217.1 498.3,218.1 498.7,213.6 499.2,215.0 499.5,213.6 499.9,222.2 500.3,232.5 500.7,239.8 501.1,243.4 501.5,252.7 502.0,251.7 502.4,255.4 502.8,246.5 503.2,243.9 503.3,243.3 503.6,235.9 504.0,242.7 504.4,253.8 504.7,253.3 505.0,238.3 505.2,241.8 505.6,253.8 506.0,269.3 506.4,269.9 506.7,271.7 506.8,269.9 507.2,265.5 507.7,250.0 508.0,262.4 508.4,265.5 508.7,260.0 508.9,264.7 509.3,253.1 509.7,246.7 510.1,260.6 510.5,261.8 510.9,265.9 511.3,270.7 511.7,270.8 512.1,260.1 512.5,249.2 512.7,250.0 512.9,258.1 513.3,259.8 513.7,260.0 514.1,245.8 514.5,251.0 515.0,246.7 515.4,250.5 515.8,266.1 516.2,267.3 516.3,270.0 516.6,261.1 517.0,252.4 517.5,250.0 517.8,263.1 518.2,259.0 518.7,266.7 519.0,255.9 519.4,255.6 519.8,241.0 520.2,236.6 520.6,229.9 521.0,223.4 521.5,216.7 521.9,205.1 522.3,195.0 522.7,182.7 523.1,174.3 523.3,180.0 523.9,183.2 524.3,182.7 524.7,185.0 525.1,178.7 525.5,163.2 525.8,173.3 526.3,179.8 526.7,177.6 527.0,176.7 527.5,172.2 528.0,166.0 528.3,162.5 528.8,168.1 529.2,169.4 529.3,176.7 529.6,178.2 530.0,182.7 530.3,173.3 530.8,180.4 531.2,176.0 531.6,186.9 532.0,189.7 532.4,196.7 532.8,212.9 533.2,205.1 533.6,211.9 534.0,223.4 534.5,220.6 534.9,220.8 535.3,228.7 535.7,220.2 536.1,233.1 536.3,230.0 536.5,236.0 536.9,225.3 537.3,221.3 537.5,220.0 537.7,229.1 538.1,246.4 538.5,239.8 538.9,255.2 539.2,268.3 539.3,263.2 539.7,234.7 540.0,235.0 540.5,230.6 541.0,242.2 541.3,243.3 541.8,237.3 542.2,241.5 542.5,236.7 543.0,234.4 543.4,236.7 543.7,246.7 544.2,240.9 544.6,240.5 545.0,238.3 545.4,240.3 545.8,236.3 546.2,245.7 546.6,251.0 547.0,248.4 547.5,254.8 547.9,270.1 548.3,281.7 548.7,281.9 549.1,270.9 549.5,254.5 550.0,260.0 550.3,261.4 550.8,273.3 551.1,278.4 551.5,263.1 552.0,260.0 552.3,259.3 552.7,268.5 553.1,275.1 553.6,272.8 554.0,276.2 554.2,278.3 554.4,273.8 554.8,265.3 555.2,269.5 555.3,260.0 555.6,259.8 556.0,261.4 556.4,264.6 556.7,270.0 557.2,255.6 557.6,239.1 558.0,236.2 558.4,241.0 558.8,239.3 559.2,238.8 559.6,237.1 560.1,233.7 560.5,220.3 560.9,223.5 561.3,215.5 561.7,209.0 562.1,211.8 562.5,202.0 562.9,192.3 563.3,195.8 563.7,196.8 564.1,196.1 564.7,180.0 564.9,177.8 565.3,175.7 565.8,185.0 566.2,181.3 566.6,175.5 567.0,173.3 567.4,172.4 567.8,180.5 568.3,176.7 568.6,168.3 569.0,172.4 569.4,173.7 569.7,163.3 570.2,168.4 570.6,172.7 571.0,191.2 571.4,176.2 571.9,189.7 572.2,182.1 572.7,196.7 573.1,199.8 573.5,191.6 573.9,207.5 574.3,214.4 574.7,212.3 575.1,215.5 575.5,217.4 575.9,219.7 576.3,226.7 576.7,222.5 577.1,217.3 577.7,220.0 577.9,220.8 578.4,224.2 578.8,225.2 579.2,230.0 579.6,231.5 580.0,226.0 580.4,225.5 580.8,219.5 581.2,223.6 581.7,211.7 582.0,214.1 582.4,215.6 582.8,229.1 583.2,235.8 583.6,232.6 584.0,229.7 584.5,230.9 584.9,232.2 585.3,235.0 585.7,240.4 586.1,240.6 586.5,237.2 586.7,230.0 586.9,228.2 587.3,227.5 587.7,232.1 588.1,231.7 588.5,237.4 588.9,231.3 589.2,240.0 589.3,236.7 589.7,244.6 590.1,229.3 590.3,233.3 590.5,230.8 591.0,238.5 591.4,243.8 591.7,243.3 592.2,241.1 592.6,248.6 593.0,240.0 593.4,238.8 593.8,238.4 594.2,236.9 594.6,251.0 595.0,257.6 595.4,263.5 595.8,264.9 596.2,276.9 596.6,289.0 597.0,300.2 597.5,301.7 597.9,297.4 598.3,293.7 598.7,298.1 599.1,288.8 599.5,280.6 599.9,279.1 600.3,266.6 600.8,261.7 601.1,256.6 601.5,265.1 602.0,266.7 602.3,263.5 602.7,256.2 603.1,266.4 603.3,256.7 603.5,260.6 604.0,257.5 604.4,263.1 604.8,259.7 605.2,267.8 605.6,265.0 605.8,270.0 606.0,263.4 606.4,256.0 606.8,261.0 607.2,253.9 607.5,255.0 608.0,263.5 608.4,259.9 608.7,260.0 608.8,261.6 609.2,256.8 609.6,258.8 610.0,250.0 610.5,257.9 610.9,265.9 611.3,273.7 611.7,285.0 612.1,277.7 612.5,278.1 612.9,274.5 613.3,273.3 613.7,265.2 614.1,282.7 614.5,274.6 614.9,287.0 615.3,290.6 615.7,292.7 616.1,292.7 616.7,291.7 617.0,287.8 617.4,289.0 617.8,290.7 618.2,286.4 618.6,278.9 619.0,276.1 619.4,282.7 619.8,274.3 620.2,258.0 620.6,250.7 621.0,242.1 621.4,230.2 621.8,229.1 622.2,239.0 622.6,236.7 623.1,245.0 623.5,253.1 623.9,246.9 624.3,262.0 624.7,262.6 625.1,262.6 625.5,281.7 625.8,281.7 626.3,277.5 626.7,281.8 627.1,267.5 627.5,273.3 627.9,284.3 628.3,278.3 628.8,285.0 629.1,285.1 629.6,279.1 630.0,287.4 630.4,286.1 630.8,281.6 631.2,281.9 631.7,293.3 632.0,289.4 632.4,289.0 632.8,292.0 633.2,285.0 633.6,275.3 634.0,271.3 634.4,265.1 634.8,259.1 635.2,259.7 635.7,255.5 636.1,253.9 636.5,242.0 636.9,241.2 637.3,227.1 637.7,224.4 638.1,213.3 638.5,216.2 638.9,207.0 639.3,208.2 639.7,205.2 640.0,187.5 640.5,202.6 640.9,192.7 641.4,211.2 641.8,219.2 642.2,221.8 642.7,223.3 643.0,227.0 643.4,220.8 643.7,216.7 644.2,210.3 644.6,224.0 645.0,226.7 645.4,229.9 645.8,232.1 646.2,232.8 646.6,215.3 647.0,215.3 647.5,216.7 647.9,229.5 648.2,246.3 648.7,266.7 649.1,267.2 649.5,269.6 649.9,279.0 650.3,277.0 650.8,290.0 651.1,284.3 651.5,268.7 651.9,265.3 652.3,257.4 652.7,247.1 653.1,244.0 653.5,248.9 653.9,244.0 654.4,228.3 654.8,238.5 655.2,239.0 655.6,233.7 656.0,220.4 656.4,225.5 656.8,227.4 657.2,231.8 657.6,222.6 658.0,220.7 658.4,210.3 658.8,209.6 659.2,205.9 659.6,196.3 660.0,186.7 660.5,188.3 660.9,199.0 661.3,206.3 661.7,210.1 662.1,220.1 662.5,229.0 662.9,226.0 663.3,211.1 663.7,223.2 664.1,218.6 664.5,243.3 665.0,248.0 665.3,243.7 665.7,237.1 666.1,244.8 666.5,240.7 667.0,246.0 667.4,231.1 667.8,228.9 668.2,228.9 668.3,230.0 668.6,241.9 669.0,259.9 669.2,266.7 669.4,259.2 669.8,247.0 670.2,248.8 670.6,249.9 670.8,246.7 671.0,243.2 671.4,257.8 671.7,256.7 671.8,264.9 672.2,249.6 672.5,231.7 673.0,256.4 673.5,260.3 673.9,262.0 674.2,267.5 674.7,255.1 675.1,239.5 675.5,237.6 675.8,240.0 676.3,243.4 676.7,248.3 677.1,251.9 677.5,244.0 677.9,238.2 678.3,238.3 678.7,240.7 679.2,230.0 679.5,233.5 680.0,228.2 680.3,233.3 680.8,222.9 681.2,227.5 681.6,234.1 682.0,222.0 682.4,220.7 682.8,216.6 683.2,218.7 683.6,212.4 684.0,215.1 684.4,220.2 684.8,209.7 685.2,220.2 685.6,211.8 685.8,210.8 686.0,219.4 686.5,209.7 686.9,217.3 687.3,226.1 687.7,216.3 688.1,209.9 688.5,224.4 688.9,227.8 689.3,232.1 689.7,232.0 690.1,242.2 690.5,249.0 690.9,246.6 691.3,244.2 691.7,250.5 692.1,250.9 692.6,258.0 693.0,266.2 693.3,265.0 693.8,266.2 694.2,259.4 694.6,258.8 695.0,250.1 695.4,247.2 695.8,243.3 696.2,239.6 696.6,241.9 697.0,250.0 697.4,239.6 697.8,238.9 698.2,241.0 698.6,240.5 699.1,240.0 699.5,238.3 699.9,231.5 700.3,237.1 700.7,236.4 701.1,227.5 701.5,224.8 701.9,226.6 702.3,222.4 702.5,218.3 702.7,213.7 703.1,217.2 703.7,226.7 703.9,225.8 704.3,225.3 704.8,212.2 705.1,225.2 705.6,213.9 706.0,217.1 706.4,212.6 706.8,203.8 707.2,220.3 707.6,216.4 708.0,222.8 708.4,207.2 708.8,208.9 709.2,203.8 709.6,207.9 710.0,205.0 710.4,210.9 710.9,221.5 711.2,219.4 711.7,213.2 712.1,221.9 712.5,223.3 712.9,233.6 713.3,234.2 713.7,233.4 714.2,240.0 714.5,240.9 714.9,228.4 715.3,228.5 715.7,231.9 716.1,232.3 716.5,220.9 716.9,210.2 717.4,217.7 717.8,209.9 718.2,216.6 718.3,210.0 718.6,223.6 719.0,225.9 719.4,230.8 719.8,242.3 720.2,245.3 720.6,244.9 721.0,255.5 721.4,250.6 721.8,256.7 722.2,259.5 722.6,266.9 723.0,274.1 723.4,275.6 723.9,265.4 724.3,263.4 724.7,280.4 725.0,285.0 725.5,282.0 725.9,269.1 726.3,252.6 726.7,254.7 727.1,248.8 727.5,240.8 727.9,229.3 728.3,229.1 728.7,220.5 729.1,208.0 729.5,210.0 730.0,200.3 730.4,200.4 730.8,210.2 731.2,204.6 731.7,201.7 732.0,207.2 732.4,209.0 732.8,217.7 733.2,212.1 733.6,214.9 734.0,225.2 734.4,236.8 734.8,248.5 735.0,261.7 735.2,254.9 735.6,243.5 736.0,244.5 736.5,239.5 736.9,231.9 737.3,227.8 737.7,228.0 738.1,223.6 738.5,217.0 738.9,224.1 739.3,221.2 739.7,216.1 740.1,204.8 740.5,211.2 740.7,204.5 740.9,206.6 741.3,215.0 741.7,205.1 742.1,214.1 742.4,213.0 743.0,218.7 743.4,230.2 743.8,239.6 744.2,242.1 744.6,251.5 745.0,259.5 745.5,270.0 745.8,253.1 746.2,240.5 746.5,245.0 747.0,258.2 747.5,265.0 747.8,266.2 748.2,248.3"/>
<polyline class="ln" stroke="#8EBA42" points="139.0,230.4 139.4,230.6 139.8,233.6 140.2,242.0 140.6,252.5 141.0,251.7 141.4,236.3 141.8,238.5 142.0,235.0 142.2,233.5 142.7,236.7 143.0,240.0 143.5,249.9 143.9,236.0 144.2,226.7 144.7,222.7 145.1,236.9 145.3,231.7 145.5,223.6 145.9,222.7 146.3,216.7 146.7,220.2 147.1,217.3 147.5,230.0 147.9,228.4 148.3,209.7 148.8,211.0 149.2,219.3 149.6,222.2 150.0,220.5 150.4,212.0 150.8,207.7 151.3,198.3 151.6,212.0 152.0,199.6 152.5,208.3 152.8,208.0 153.2,202.1 153.7,195.0 154.0,198.2 154.4,203.5 155.0,208.3 155.3,203.4 155.7,203.7 156.1,195.6 156.3,196.7 156.9,209.1 157.3,204.0 157.5,210.0 157.7,205.9 158.1,209.1 158.5,193.6 158.7,195.0 158.9,192.4 159.3,201.8 159.7,203.7 160.0,208.3 160.5,204.3 160.9,203.0 161.3,193.3 161.8,192.1 162.2,207.3 162.7,210.0 163.0,199.1 163.4,201.8 163.8,192.9 164.0,195.0 164.2,192.1 164.6,192.1 165.0,200.8 165.3,208.3 165.8,193.8 166.2,211.1 166.7,195.0 167.0,203.4 167.4,210.0 168.0,211.7 168.3,197.2 168.7,203.5 169.1,193.8 169.3,198.3 169.9,216.9 170.3,209.0 170.7,211.7 171.1,206.5 171.5,213.6 172.0,201.7 172.3,216.6 172.7,218.7 173.0,218.3 173.6,205.7 173.9,195.6 174.2,194.2 174.4,196.2 174.8,195.6 175.2,201.4 175.6,209.5 176.0,224.0 176.4,227.6 176.7,230.0 177.2,210.9 177.6,203.6 178.0,195.4 178.4,190.6 178.8,189.7 179.2,190.0 179.6,201.3 180.1,210.9 180.5,203.5 180.9,216.9 181.3,218.5 181.7,220.7 182.1,225.8 182.5,229.1 182.9,235.7 183.3,238.3 183.7,231.0 184.1,233.3 184.7,218.3 184.9,221.1 185.3,231.7 185.8,226.7 186.2,229.0 186.6,214.5 187.0,210.0 187.4,223.2 187.8,217.7 188.2,219.1 188.3,221.7 188.6,208.8 189.0,213.5 189.4,217.0 189.7,205.0 190.2,206.7 190.6,209.7 191.0,218.3 191.4,221.8 191.8,211.9 192.3,201.7 192.7,200.2 193.1,207.4 193.5,214.9 193.7,215.0 193.9,213.9 194.3,208.6 194.7,211.6 195.0,200.0 195.5,203.5 196.0,219.2 196.3,212.2 196.7,206.8 197.2,195.0 197.5,197.4 197.9,204.0 198.3,206.7 198.8,197.8 199.2,187.3 199.7,185.0 200.0,193.7 200.4,186.5 200.8,193.3 201.2,176.6 201.6,177.6 202.0,179.3 202.4,178.7 202.8,173.5 203.0,167.5 203.2,172.9 203.6,172.1 204.0,182.4 204.4,183.8 204.8,192.1 205.3,191.7 205.7,184.5 206.1,186.0 206.5,190.5 206.7,181.7 206.9,188.9 207.3,188.8 207.7,190.9 208.1,189.3 208.3,183.3 208.5,180.1 208.9,176.4 209.3,173.1 209.7,171.0 210.0,171.7 210.5,172.7 210.9,180.8 211.3,180.4 211.8,188.8 212.2,195.5 212.6,178.9 213.0,187.3 213.4,205.2 213.8,205.8 214.2,205.0 214.6,206.0 215.0,202.9 215.3,191.7 215.8,205.9 216.2,214.1 216.6,222.1 217.0,229.1 217.4,240.1 217.8,250.0 218.2,230.7 218.7,231.2 219.1,220.8 219.5,201.6 219.9,188.5 220.3,196.2 220.7,190.5 221.1,181.7 221.5,180.5 221.7,171.7 221.9,171.4 222.3,173.1 222.7,174.4 223.1,178.5 223.5,181.1 223.9,195.5 224.2,198.3 224.3,191.3 224.8,186.8 225.2,193.1 225.3,185.0 225.6,183.5 226.0,195.3 226.4,200.8 226.7,201.7 227.2,197.8 227.6,189.8 228.0,188.3 228.4,192.3 228.8,199.1 229.3,198.3 229.6,199.6 230.0,199.7 230.4,203.5 230.7,195.0 230.8,202.8 231.3,198.4 231.7,201.2 232.1,211.2 232.5,215.4 232.9,217.0 233.3,216.7 233.7,213.3 234.1,198.9 234.5,184.0 234.9,188.6 235.3,174.4 235.7,161.4 236.1,154.8 236.5,157.9 236.9,159.6 237.4,148.4 237.8,147.9 238.2,148.4 238.3,149.2 238.6,149.0 239.0,153.1 239.4,162.6 239.7,160.0 240.2,157.6 240.6,155.2 240.8,148.3 241.0,147.6 241.4,149.5 241.8,155.3 242.2,156.9 242.6,156.9 243.1,161.7 243.4,176.6 243.8,175.0 244.3,169.4 244.7,167.3 245.0,168.3 245.5,177.2 245.9,166.3 246.3,178.8 246.7,180.5 247.1,178.6 247.5,182.6 247.9,207.0 248.3,193.1 248.7,205.8 249.2,213.0 249.6,208.9 249.9,203.1 250.4,195.9 250.8,182.6 251.2,189.8 251.6,174.8 252.0,177.1 252.4,184.4 252.8,178.5 253.3,171.7 253.6,171.0 254.0,171.8 254.4,164.3 254.7,175.0 254.8,172.5 255.2,172.9 255.6,164.3 255.8,160.0 256.1,169.9 256.5,162.3 257.0,168.3 257.3,172.0 257.7,156.6 258.1,159.8 258.3,156.7 258.5,156.6 258.9,167.0 259.3,166.8 259.7,170.9 260.1,161.8 260.5,184.6 260.9,184.1 261.3,184.9 261.7,199.4 262.1,208.4 262.6,215.6 263.0,220.9 263.4,222.6 263.8,224.6 264.2,223.3 264.6,216.7 265.0,212.4 265.4,210.9 265.8,204.2 266.2,203.5 266.6,202.0 267.0,201.1 267.4,191.7 267.8,196.5 268.2,175.0 268.6,179.9 269.1,178.8 269.5,165.3 269.9,167.9 270.3,161.4 270.7,158.8 270.8,159.2 271.1,158.8 271.5,160.6 271.9,168.5 272.3,174.6 272.7,180.0 273.1,174.6 273.5,174.8 273.9,190.5 274.3,193.8 274.8,181.6 275.1,199.2 275.3,195.0 275.6,187.4 276.0,192.7 276.4,187.3 276.7,188.3 277.2,192.6 277.6,194.9 278.0,201.7 278.4,202.9 278.8,203.5 279.2,198.3 279.6,206.4 280.0,202.0 280.3,210.0 280.8,184.5 281.2,172.6 281.7,162.6 282.1,155.5 282.5,153.4 282.9,151.1 283.3,151.1 283.7,151.1 284.2,152.5 284.5,155.0 284.9,155.8 285.3,164.5 285.7,167.2 286.1,164.8 286.5,163.6 286.9,163.6 287.4,173.8 287.5,173.3 287.8,175.5 288.2,169.7 288.3,170.0 288.6,171.2 289.0,161.1 289.4,177.4 289.8,196.1 290.2,208.3 290.6,220.2 291.0,222.5 291.4,211.6 291.8,206.3 292.2,211.1 292.6,194.6 293.0,191.7 293.4,193.0 293.9,196.1 294.2,201.7 294.7,204.0 295.1,196.6 295.3,195.0 295.9,193.5 296.3,198.8 296.7,203.2 297.1,209.0 297.5,218.7 298.0,215.0 298.3,222.7 298.7,206.5 299.2,205.0 299.5,213.3 299.9,224.3 300.3,231.7 300.8,229.7 301.2,229.2 301.7,218.3 302.0,224.8 302.4,225.6 302.8,231.1 303.0,235.0 303.2,233.9 303.6,209.6 304.0,202.3 304.4,185.2 304.8,179.9 305.0,175.0 305.2,183.9 305.6,176.5 305.8,178.3 306.0,183.7 306.4,171.9 306.7,169.2 306.9,174.7 307.3,177.7 307.7,177.6 308.0,176.7 308.5,182.8 308.9,168.7 309.2,175.0 309.7,175.8 310.1,182.8 310.3,181.7 310.5,178.8 310.9,176.4 311.3,172.1 311.7,173.3 312.1,172.1 312.5,174.5 312.9,172.1 313.3,173.3 313.8,172.1 314.2,187.7 314.6,184.8 315.0,182.5 315.3,195.0 315.8,192.2 316.3,190.0 316.6,196.3 317.0,190.8 317.4,209.7 317.8,221.9 318.2,231.7 318.6,225.5 319.1,237.4 319.3,238.3 319.9,228.0 320.3,218.3 320.7,227.1 321.1,233.5 321.3,235.0 321.5,231.2 321.9,219.0 322.3,210.0 322.7,216.1 323.1,223.4 323.3,226.7 323.5,222.3 323.9,214.7 324.3,205.0 324.7,217.3 325.1,227.2 325.3,228.3 325.6,223.2 326.0,225.3 326.3,210.0 326.8,225.5 327.2,227.0 327.5,235.0 328.0,217.7 328.4,215.4 328.7,211.7 329.2,216.5 329.6,234.1 330.0,240.0 330.4,240.3 330.8,232.4 331.3,218.3 331.6,225.1 332.1,230.9 332.5,248.0 332.9,239.7 333.3,249.2 333.7,241.4 334.1,241.7 334.5,222.1 334.9,210.0 335.3,209.5 335.7,210.0 336.1,223.3 336.7,231.7 336.9,222.2 337.3,222.7 337.7,216.6 338.0,215.0 338.6,227.2 339.0,237.1 339.2,235.0 339.4,227.9 339.8,219.2 340.2,216.4 340.3,226.7 340.6,231.5 341.0,242.5 341.4,241.2 341.7,248.3 342.2,233.6 342.6,237.0 342.8,228.3 343.0,236.3 343.4,234.3 343.8,240.0 344.2,232.8 344.6,221.9 345.0,226.7 345.5,236.8 345.9,242.1 346.3,250.0 346.7,240.3 347.1,209.6 347.5,192.0 347.7,190.0 347.9,201.1 348.3,201.3 348.7,198.3 349.1,198.0 349.7,195.0 349.9,198.1 350.3,190.5 350.7,210.0 351.2,203.3 351.6,206.7 352.0,205.0 352.4,210.6 352.8,207.5 353.2,223.8 353.6,217.0 354.0,225.3 354.4,231.4 354.8,237.7 355.2,231.4 355.6,242.6 355.8,241.7 356.0,241.5 356.4,227.4 356.9,229.7 357.2,217.5 357.7,215.2 358.1,199.1 358.3,195.0 358.9,205.2 359.3,208.3 359.7,203.8 360.1,201.9 360.3,198.3 360.5,204.8 360.9,199.4 361.3,208.4 361.7,220.0 362.1,221.7 362.5,221.1 362.9,217.0 363.4,232.7 363.8,238.2 364.2,246.9 364.6,255.2 365.0,260.8 365.4,258.7 365.8,251.6 366.2,253.5 366.6,243.1 367.0,232.6 367.4,230.7 367.8,224.8 368.2,217.6 368.6,213.4 369.2,205.0 369.4,207.6 369.9,206.1 370.3,211.7 370.7,216.8 371.1,201.6 371.5,201.6 371.7,201.7 371.9,203.0 372.3,202.9 372.7,196.6 373.1,213.2 373.5,222.5 373.9,230.3 374.2,231.7 374.3,225.4 374.7,226.4 375.1,217.9 375.5,208.5 375.9,200.8 376.4,189.5 376.8,179.3 377.2,179.0 377.6,174.9 378.0,160.3 378.3,163.3 378.8,162.4 379.2,168.3 379.6,163.3 380.0,161.7 380.4,167.8 380.8,160.3 381.2,176.2 381.6,179.9 382.0,178.0 382.4,196.9 382.9,199.1 383.3,199.4 383.7,201.7 384.1,201.4 384.5,198.1 384.7,195.0 384.9,184.0 385.3,204.6 385.8,210.0 386.1,198.1 386.5,199.1 386.7,198.3 386.9,205.0 387.3,214.5 387.5,215.8 387.7,214.5 388.1,205.0 388.7,201.7 388.9,201.0 389.4,199.2 389.7,210.0 390.2,207.2 390.6,203.5 390.8,198.3 391.0,194.5 391.4,194.5 391.8,201.7 392.0,205.0 392.2,199.2 392.6,203.6 393.0,202.9 393.3,195.0 393.8,202.6 394.2,214.1 394.7,210.0 395.1,195.2 395.5,203.8 395.9,196.4 396.3,198.9 396.7,188.3 397.1,217.8 397.5,231.7 397.9,228.9 398.3,206.1 398.7,210.0 399.1,212.5 399.7,221.7 399.9,221.9 400.3,204.6 400.7,204.6 401.1,199.3 401.6,179.8 402.0,179.0 402.5,165.0 402.8,172.4 403.2,162.2 403.3,168.3 403.6,166.4 404.0,162.2 404.2,162.5 404.4,162.2 404.8,163.0 405.0,170.0 405.2,168.2 405.6,171.0 405.8,168.3 406.0,177.7 406.4,166.4 406.7,176.7 406.8,177.4 407.2,170.7 407.5,175.0 408.1,173.9 408.5,173.9 408.7,181.7 408.9,182.0 409.2,178.3 409.7,175.1 410.0,180.0 410.5,176.5 410.8,176.7 411.3,175.6 411.7,180.0 412.1,173.6 412.5,175.0 412.9,173.6 413.3,178.3 413.8,173.6 414.2,175.0 414.6,185.5 415.0,186.3 415.4,185.3 415.8,182.9 416.2,193.9 416.6,193.4 417.0,198.1 417.4,200.8 417.8,199.9 418.2,205.0 418.6,207.2 419.2,218.3 419.4,200.0 419.8,190.5 420.0,190.0 420.2,192.2 420.6,198.5 421.0,205.0 421.5,206.7 422.0,198.3 422.3,198.3 422.7,208.7 423.1,217.3 423.3,215.0 423.5,217.8 423.9,203.3 424.3,209.3 424.7,205.0 425.1,212.7 425.5,225.9 425.9,227.0 426.3,226.9 426.8,232.9 427.2,237.9 427.6,246.4 428.0,246.1 428.4,251.8 428.8,251.0 429.2,255.8 429.6,256.6 430.0,248.2 430.3,240.0 430.8,241.1 431.3,248.3 431.6,245.3 432.0,236.7 432.5,231.7 432.9,239.8 433.2,238.8 433.7,238.3 434.1,231.4 434.5,227.3 434.9,227.5 435.3,215.2 435.7,208.9 436.1,202.5 436.5,209.9 436.9,198.3 437.3,193.0 437.7,187.6 438.1,183.5 438.5,185.8 438.9,167.6 439.4,159.6 439.8,163.2 440.2,162.2 440.6,170.4 441.0,159.0 441.4,161.8 441.8,168.9 442.2,161.7 442.6,148.6 443.0,147.2 443.4,150.3 443.8,151.7 444.2,149.2 444.6,153.0 445.0,151.7 445.4,154.9 445.8,148.3 446.3,152.7 446.7,147.7 447.1,163.3 447.5,154.4 447.9,169.9 448.3,172.8 448.7,179.8 449.0,171.7 449.5,167.7 450.0,168.3 450.3,160.9 450.8,170.0 451.1,163.8 451.7,167.5 451.9,180.7 452.4,195.7 452.8,211.0 453.0,223.3 453.2,221.7 453.6,208.2 454.0,205.0 454.4,210.7 454.8,204.0 455.0,210.0 455.2,208.9 455.6,200.2 456.0,198.3 456.4,204.6 456.8,201.3 457.0,201.7 457.2,199.4 457.6,203.1 458.0,193.3 458.4,191.9 458.9,193.0 459.3,191.9 459.7,201.3 460.1,206.2 460.5,205.1 460.9,211.1 461.3,216.2 461.7,223.3 462.1,229.6 462.5,244.8 462.9,238.7 463.3,243.3 463.7,241.4 464.1,226.1 464.3,231.7 464.6,230.7 465.0,240.4 465.3,238.3 465.8,228.1 466.2,225.1 466.6,218.1 467.0,204.5 467.4,211.1 467.8,217.8 468.3,205.0 468.6,201.0 469.0,205.6 469.3,210.0 469.8,219.8 470.3,201.7 470.6,202.6 471.1,203.3 471.3,211.7 471.9,208.7 472.3,197.6 472.7,197.0 473.1,187.5 473.3,186.7 473.5,187.5 473.9,187.5 474.3,201.7 474.7,205.4 475.1,202.8 475.3,198.3 475.5,202.8 475.9,207.3 476.3,203.1 476.7,210.0 477.1,214.5 477.6,207.5 478.0,205.0 478.4,202.0 478.8,199.2 479.2,215.9 479.6,223.2 480.0,223.6 480.4,238.2 480.8,237.7 481.2,243.0 481.7,243.3 482.0,244.5 482.4,238.4 482.8,225.7 483.0,235.0 483.2,233.8 483.6,233.5 484.2,238.3 484.5,234.2 484.9,232.0 485.3,231.7 485.7,235.9 486.1,241.8 486.5,236.2 486.7,241.7 486.9,241.9 487.3,227.9 487.7,222.5 488.1,219.9 488.5,215.1 488.9,214.1 489.3,211.9 489.8,203.1 490.1,211.6 490.6,205.6 491.0,193.8 491.4,180.8 491.7,180.0 492.2,186.3 492.6,182.6 493.0,181.7 493.4,182.5 493.8,177.7 494.2,179.2 494.6,185.4 495.0,183.2 495.3,181.7 495.8,183.2 496.2,183.2 496.7,179.2 497.1,183.0 497.5,179.6 498.0,181.7 498.3,183.0 498.7,186.1 499.2,178.3 499.5,181.3 499.9,178.9 500.3,189.8 500.7,178.4 501.1,189.9 501.5,186.2 501.9,193.1 502.4,194.8 502.8,203.7 503.0,210.0 503.2,202.6 503.6,202.5 504.0,191.7 504.2,196.7 504.4,205.6 504.8,209.7 505.3,206.7 505.6,209.4 506.0,200.0 506.4,194.0 506.7,193.3 506.8,190.2 507.2,199.9 507.6,207.0 508.0,203.3 508.4,193.5 508.9,191.2 509.2,190.0 509.7,194.4 510.1,194.1 510.3,198.3 510.9,186.8 511.3,190.1 511.7,185.0 512.1,185.8 512.5,193.1 513.0,191.7 513.3,184.4 513.7,188.4 514.2,180.0 514.5,180.6 515.0,181.7 515.4,178.8 515.8,175.3 516.2,183.6 516.6,175.8 517.0,167.2 517.5,165.8 517.8,167.5 518.2,164.6 518.6,175.2 519.0,171.2 519.4,178.0 519.8,183.2 520.2,183.6 520.6,187.9 521.0,183.6 521.5,182.4 521.9,194.5 522.3,194.5 522.5,193.3 522.7,193.2 523.1,189.7 523.5,189.5 523.7,188.3 523.9,192.4 524.3,194.0 524.7,192.3 525.0,193.3 525.5,190.7 525.9,187.6 526.3,189.2 526.7,187.6 527.1,195.9 527.5,197.7 528.0,194.6 528.4,197.8 528.8,198.7 529.2,210.1 529.6,208.9 530.0,214.6 530.4,222.4 530.8,216.6 531.2,215.9 531.6,227.9 532.0,225.6 532.4,224.8 532.8,230.5 533.2,228.7 533.6,233.9 534.2,233.3 534.5,229.1 534.9,219.6 535.3,208.6 535.7,200.5 536.1,198.7 536.5,192.3 536.9,181.3 537.2,177.5 537.7,184.4 538.1,180.4 538.5,197.8 538.9,197.4 539.3,204.8 539.7,202.3 540.1,212.9 540.5,216.8 541.0,204.7 541.4,212.4 541.8,221.3 542.2,229.2 542.6,225.7 543.0,226.1 543.4,231.8 543.8,226.6 544.2,223.8 544.6,223.0 545.0,231.3 545.4,233.2 545.8,239.1 546.2,241.1 546.6,252.6 547.0,252.5 547.5,250.7 547.9,227.6 548.3,223.2 548.7,222.1 549.1,211.9 549.5,228.2 549.9,221.6 550.3,213.8 550.7,206.3 551.1,201.8 551.5,190.7 551.9,192.3 552.3,195.8 552.7,197.5 553.1,188.8 553.6,186.9 554.0,178.3 554.4,175.8 554.8,183.4 555.2,177.5 555.6,177.2 556.0,172.5 556.4,168.3 556.7,167.5 557.2,173.9 557.6,180.0 558.0,188.8 558.4,184.3 558.8,196.9 559.2,190.0 559.6,190.4 560.1,190.9 560.5,193.1 560.9,204.1 561.3,208.1 561.7,206.7 562.1,208.6 562.5,208.2 562.9,215.8 563.3,215.0 563.7,204.0 564.1,208.8 564.5,200.3 564.9,196.5 565.3,194.6 565.8,197.8 566.2,196.1 566.7,190.0 567.0,194.3 567.4,198.5 567.8,203.4 568.2,206.1 568.6,204.1 569.0,202.4 569.4,207.5 569.8,206.4 570.0,206.7 570.2,202.6 570.6,207.5 571.0,203.4 571.3,200.0 571.9,199.7 572.2,202.6 572.5,201.7 572.7,203.2 573.1,190.1 573.5,176.8 573.9,178.9 574.3,169.4 574.7,165.3 575.1,164.8 575.3,161.7 575.5,167.3 575.9,161.7 576.3,170.1 576.7,183.4 577.1,176.2 577.5,177.1 577.9,182.7 578.4,182.0 578.7,183.3 579.2,173.2 579.6,178.9 580.0,177.4 580.4,182.9 580.8,182.7 581.2,182.5 581.6,169.7 582.0,169.7 582.4,171.5 582.8,176.2 583.3,170.8 583.6,178.0 584.0,176.0 584.5,174.2 584.9,177.9 585.3,183.9 585.7,182.0 586.1,185.0 586.5,182.5 586.9,192.0 587.3,195.1 587.7,201.7 588.1,195.3 588.3,201.7 588.5,195.2 588.9,199.6 589.3,187.3 589.7,184.5 590.1,190.4 590.5,188.8 590.8,183.3 591.4,192.8 591.8,198.7 592.2,201.6 592.6,200.5 593.0,210.4 593.4,197.3 593.8,201.1 594.2,207.0 594.6,211.0 595.0,212.2 595.4,203.3 595.8,210.6 596.2,219.3 596.6,232.6 597.0,230.0 597.5,225.5 597.9,235.5 598.3,240.4 598.7,244.2 599.1,233.3 599.5,229.8 599.9,236.1 600.3,229.5 600.7,216.7 601.1,213.6 601.5,219.4 602.0,210.0 602.3,212.2 602.7,215.2 603.1,205.7 603.3,215.0 603.5,212.5 604.0,212.1 604.4,216.6 604.7,206.7 605.2,206.3 605.6,206.1 605.8,213.3 606.0,211.4 606.4,212.4 606.8,213.3 607.0,206.7 607.2,203.7 607.6,213.9 608.0,210.0 608.4,207.0 608.8,210.6 609.2,203.3 609.6,214.2 610.0,225.0 610.5,225.2 611.0,210.0 611.3,218.8 611.7,214.2 612.1,217.9 612.5,228.7 612.9,221.8 613.3,226.9 613.7,221.3 614.1,235.6 614.5,240.9 614.9,264.2 615.3,275.0 615.7,271.0 616.1,247.6 616.5,233.6 617.0,232.6 617.4,220.8 617.8,221.5 618.2,219.6 618.6,206.6 619.0,213.3 619.4,212.0 619.8,214.6 620.2,208.1 620.6,205.9 621.0,205.9 621.3,206.7 621.8,200.7 622.0,215.0 622.2,213.8 622.6,207.6 623.1,215.3 623.5,198.7 623.9,209.4 624.3,201.9 624.7,199.2 625.1,194.7 625.5,184.1 625.9,174.6 626.3,174.6 626.7,174.6 627.2,175.8 627.5,180.7 627.9,182.2 628.3,197.4 628.8,210.5 629.1,203.6 629.6,216.7 630.0,216.0 630.4,225.2 630.8,218.5 631.2,219.9 631.6,226.1 632.0,228.4 632.4,225.0 632.8,228.3 633.2,238.8 633.6,239.6 634.0,243.9 634.4,238.9 634.8,236.8 635.0,243.3 635.2,240.6 635.7,234.6 636.1,224.8 636.5,237.5 636.9,226.6 637.3,237.1 637.7,230.1 638.1,224.3 638.5,207.6 638.9,206.7 639.3,214.5 639.7,205.2 640.1,201.9 640.5,194.6 640.9,199.9 641.4,192.6 641.8,187.0 642.2,186.8 642.5,177.5 643.0,185.3 643.4,181.5 643.8,190.9 644.2,189.9 644.6,196.8 645.0,201.7 645.4,203.2 645.8,188.1 646.2,199.7 646.6,186.4 647.0,182.8 647.4,189.4 647.9,179.4 648.2,176.4 648.7,177.5 649.1,173.6 649.5,171.4 649.9,170.3 650.3,182.3 650.8,171.7 651.1,179.3 651.5,181.5 651.9,192.3 652.3,191.5 652.7,197.1 653.1,196.5 653.5,198.7 653.9,216.0 654.2,218.3 654.4,213.5 654.8,211.0 655.2,201.6 655.6,203.2 656.0,192.8 656.4,187.5 656.8,176.6 657.2,171.8 657.6,164.5 658.0,161.0 658.4,158.2 658.8,166.3 659.2,154.2 659.6,157.9 660.0,164.7 660.5,168.7 660.9,164.6 661.3,173.0 661.7,181.3 662.1,183.3 662.5,182.1 662.9,193.7 663.3,187.4 663.7,215.0 664.1,210.5 664.5,206.8 664.9,201.5 665.3,193.4 665.7,188.8 666.1,194.1 666.5,182.1 667.0,183.3 667.4,187.5 667.8,194.9 668.2,192.3 668.6,192.1 669.0,198.3 669.3,203.3 669.8,202.1 670.2,195.3 670.6,198.5 671.0,194.5 671.4,181.2 671.8,193.7 672.2,186.3 672.6,178.7 673.0,175.9 673.5,175.9 673.9,178.9 674.3,180.6 674.7,166.1 675.0,162.5 675.5,176.2 675.9,176.3 676.3,180.0 676.7,172.5 677.1,186.4 677.5,180.2 677.9,176.3 678.3,177.9 678.7,171.7 679.1,182.5 679.5,185.1 680.0,180.1 680.4,184.0 680.8,194.0 681.2,190.3 681.6,192.3 682.0,199.6 682.4,191.1 682.8,202.9 683.3,201.7 683.6,189.9 684.0,202.9 684.4,190.0 684.8,179.6 685.2,192.8 685.6,186.8 686.0,176.5 686.3,180.0 686.9,182.7 687.3,181.3 687.5,190.0 687.7,187.7 688.1,188.3 688.5,167.5 688.9,173.3 689.3,172.1 689.7,163.0 690.0,152.5 690.5,160.6 690.9,170.3 691.3,177.3 691.7,191.8 692.1,185.0 692.6,186.9 693.0,202.0 693.4,212.4 693.8,217.4 694.2,224.8 694.6,248.1 695.0,254.3 695.4,248.7 695.8,256.7 696.2,258.1 696.6,233.3 697.0,244.7 697.4,229.7 697.8,226.5 698.2,223.5 698.6,222.9 699.1,219.7 699.5,215.9 699.9,213.1 700.3,203.1 700.7,194.8 701.1,191.7 701.5,190.5 701.9,190.4 702.3,190.4 702.7,196.1 703.1,196.5 703.3,191.7 703.5,190.3 703.9,200.8 704.3,190.6 704.8,205.0 705.0,206.7 705.1,203.4 705.6,197.7 706.0,194.4 706.4,174.1 706.8,173.8 707.2,174.6 707.6,161.5 708.0,161.5 708.4,162.0 708.7,161.7 709.2,161.5 709.6,181.9 710.0,175.8 710.4,183.6 710.9,193.6 711.2,187.4 711.7,197.5 712.1,207.2 712.5,199.0 712.9,200.4 713.3,199.8 713.7,209.4 714.2,213.3 714.5,205.7 714.9,208.4 715.3,203.3 715.7,196.3 716.1,191.3 716.5,189.3 716.9,195.6 717.4,172.6 717.8,173.0 718.2,165.9 718.7,166.7 719.0,168.1 719.4,179.4 719.8,183.0 720.2,182.4 720.6,206.7 720.8,208.3 721.0,201.3 721.4,203.1 721.8,197.4 722.2,180.7 722.6,180.8 723.0,184.7 723.4,166.7 723.9,175.1 724.3,167.8 724.7,169.0 725.1,164.4 725.5,172.5 725.9,171.8 726.3,165.8 726.7,175.1 727.1,185.6 727.5,191.6 727.9,203.8 728.3,221.1 728.7,226.7 729.1,215.1 729.5,215.7 730.0,209.7 730.4,208.9 730.8,199.7 731.2,199.9 731.7,201.7 732.0,203.8 732.4,242.0 732.7,258.3 733.2,227.7 733.6,194.3 734.0,186.8 734.4,190.1 734.8,181.1 735.2,178.3 735.6,175.5 736.0,177.5 736.5,184.0 736.9,177.5 737.3,165.9 737.7,165.8 738.1,162.9 738.5,163.0 738.9,163.8 739.3,172.6 739.7,159.4 740.0,160.8 740.5,159.4 740.9,166.4 741.3,159.4 741.7,159.4 742.1,159.4 742.5,159.9 743.0,163.1 743.4,173.1 743.8,169.3 744.2,164.8 744.6,175.6 745.0,185.9 745.4,179.9 745.8,179.3 746.2,190.9 746.6,176.2 747.0,196.0 747.4,212.9 747.6,213.0 747.8,212.9 748.2,208.1"/>
<polyline class="ln" stroke="#FFB5B8" points="139.0,226.8 139.5,218.3 139.8,222.7 140.3,225.0 140.6,213.6 141.0,206.7 141.3,205.0 141.8,210.3 142.3,213.3 142.7,208.1 143.1,192.9 143.3,190.8 143.9,212.9 144.3,216.7 144.7,207.0 145.1,189.9 145.3,190.0 145.5,198.6 145.9,209.2 146.3,218.3 146.7,200.4 147.1,183.6 147.3,186.7 147.5,184.0 147.9,198.0 148.3,210.0 148.8,200.0 149.2,182.8 149.3,180.0 149.6,184.3 150.0,197.9 150.3,201.7 150.8,183.4 151.2,166.8 151.6,163.9 152.0,146.6 152.5,144.2 152.8,153.5 153.2,149.8 153.6,178.4 154.0,195.8 154.3,206.7 154.8,189.3 155.3,176.7 155.7,188.7 156.1,206.9 156.3,205.0 156.9,186.7 157.2,177.5 157.7,200.1 158.2,216.7 158.5,201.3 158.9,181.1 159.2,180.0 159.3,180.4 159.7,196.2 160.1,194.5 160.3,206.7 160.5,202.0 160.9,189.6 161.5,178.3 161.8,187.5 162.2,201.1 162.5,215.0 163.0,199.9 163.5,191.7 163.8,208.5 164.2,215.1 164.5,228.3 165.0,201.3 165.5,180.8 165.8,192.3 166.2,201.2 166.5,211.7 167.0,188.7 167.4,192.3 167.7,181.7 167.9,193.1 168.3,213.3 168.7,228.7 168.8,238.3 169.1,231.9 169.5,204.7 169.8,191.7 170.3,206.5 170.8,220.0 171.1,214.2 171.5,196.4 171.8,198.3 172.3,213.8 172.7,227.5 173.0,228.3 173.6,222.8 173.9,214.8 174.2,218.3 174.4,209.6 174.8,223.8 175.2,231.5 175.6,242.3 175.8,241.7 176.0,238.3 176.4,244.4 176.8,243.7 177.2,233.6 177.5,235.0 178.0,242.5 178.4,247.9 178.8,251.4 179.2,254.3 179.6,265.8 180.1,267.8 180.5,258.0 180.9,269.4 181.3,263.3 181.7,272.8 182.1,272.6 182.5,277.5 182.9,270.6 183.3,261.2 183.7,268.3 184.1,266.8 184.5,256.6 184.9,260.7 185.3,255.6 185.7,242.1 186.2,237.1 186.6,234.7 187.0,234.0 187.4,226.8 187.8,212.2 188.2,203.2 188.6,190.8 189.0,198.8 189.4,186.8 189.8,198.8 190.2,182.5 190.6,174.7 190.8,170.8 191.0,177.1 191.4,203.8 191.7,201.7 191.8,196.9 192.2,188.8 192.7,175.0 193.1,185.0 193.5,203.7 193.7,206.7 193.9,198.8 194.3,193.3 194.7,184.2 195.1,188.2 195.5,182.8 195.9,179.2 196.3,162.6 196.7,163.0 197.1,161.2 197.5,145.8 197.9,165.3 198.3,174.5 198.8,163.5 199.2,179.3 199.6,190.8 200.0,196.9 200.4,205.4 200.7,212.5 201.2,193.9 201.7,185.0 202.0,188.6 202.4,189.8 202.7,201.7 203.2,196.2 203.7,178.3 204.0,185.3 204.4,204.6 204.7,205.0 204.8,201.4 205.2,194.8 205.7,181.5 205.8,180.0 206.1,198.3 206.5,207.5 207.0,218.3 207.3,211.8 207.8,188.3 208.1,215.2 208.5,227.7 208.7,244.2 208.9,235.0 209.3,216.3 209.7,203.2 210.1,202.8 210.7,193.3 210.9,197.2 211.3,198.5 211.7,205.0 212.2,210.9 212.6,210.4 213.0,195.0 213.4,198.8 213.8,199.0 214.3,218.3 214.6,208.7 215.0,199.5 215.3,201.7 215.8,218.2 216.2,219.5 216.7,245.0 217.0,229.8 217.4,210.7 217.8,210.0 218.2,203.9 218.7,189.1 218.8,193.0 219.1,190.7 219.5,195.1 220.0,208.3 220.3,209.2 220.7,196.2 221.0,185.0 221.5,188.7 221.9,205.7 222.2,210.0 222.3,203.0 222.7,197.9 223.1,200.4 223.3,183.3 223.5,186.6 223.9,200.6 224.3,199.5 224.7,205.0 225.2,192.9 225.6,198.3 225.8,188.3 226.4,193.5 226.7,201.7 227.2,184.5 227.7,176.7 228.0,178.7 228.4,179.3 228.8,195.0 229.2,183.9 229.6,171.5 230.0,169.2 230.4,174.7 231.0,193.3 231.3,187.3 231.7,173.2 231.8,171.7 232.1,176.1 232.5,182.9 232.8,198.3 233.3,181.8 233.7,180.0 234.1,187.7 234.5,195.2 234.7,200.0 234.9,203.5 235.3,176.7 235.7,182.6 236.1,187.6 236.5,191.7 236.9,189.6 237.4,209.2 237.8,203.5 238.0,205.0 238.2,204.7 238.6,200.6 239.0,191.6 239.2,195.0 239.4,193.3 239.8,213.2 240.2,216.7 240.6,207.5 241.0,205.3 241.3,201.7 241.8,212.0 242.2,215.8 242.5,210.0 243.1,201.4 243.4,197.3 243.7,191.7 243.9,192.5 244.3,198.1 244.7,205.7 245.0,205.0 245.5,203.7 245.9,191.7 246.3,194.9 246.7,181.2 247.0,178.3 247.5,197.2 248.0,195.0 248.3,196.7 248.7,175.7 249.2,165.8 249.6,166.6 249.9,169.8 250.4,180.1 250.8,194.6 251.2,198.3 251.6,189.4 252.0,194.6 252.2,193.0 252.4,191.9 252.8,200.8 253.3,210.0 253.6,212.2 254.0,199.0 254.4,203.3 254.7,201.7 254.8,212.4 255.2,212.9 255.6,212.2 255.8,218.3 256.1,217.5 256.5,211.8 257.0,215.0 257.3,217.1 257.7,218.5 258.1,227.3 258.3,235.0 258.5,236.6 258.9,228.2 259.3,235.6 259.7,231.7 260.1,239.8 260.5,252.5 260.9,247.6 261.3,244.3 261.7,253.8 262.1,249.8 262.6,251.6 263.0,252.4 263.4,261.5 263.8,258.8 264.2,261.7 264.6,251.5 265.0,257.9 265.4,252.4 265.8,250.3 266.2,234.2 266.6,240.9 267.0,243.0 267.4,243.8 267.8,222.0 268.2,228.7 268.6,224.2 269.1,224.1 269.5,213.0 269.9,214.6 270.3,218.8 270.7,195.2 271.1,203.7 271.5,188.7 271.7,181.7 271.9,187.0 272.3,193.3 272.7,193.3 273.1,191.6 273.7,185.0 273.9,197.3 274.3,180.5 274.7,198.3 275.1,182.6 275.6,170.8 276.0,165.2 276.4,161.6 276.7,155.0 277.2,168.7 277.7,201.7 278.0,189.6 278.4,169.9 278.8,146.4 279.2,158.5 279.6,152.1 280.0,147.5 280.4,157.2 280.8,156.3 281.0,160.0 281.2,161.1 281.7,155.0 282.1,163.8 282.5,168.4 282.9,182.6 283.3,186.9 283.7,196.8 284.1,192.3 284.3,201.7 284.5,198.4 284.9,195.5 285.3,188.3 285.7,201.9 286.1,204.8 286.3,211.7 286.5,215.0 286.9,206.0 287.3,198.3 287.8,206.7 288.2,203.0 288.3,216.7 288.6,194.3 289.0,184.9 289.3,181.7 289.8,193.0 290.0,201.7 290.2,203.2 290.6,180.8 290.8,171.7 291.0,167.7 291.4,175.6 291.7,195.0 291.8,182.7 292.2,170.2 292.5,160.0 293.0,164.7 293.4,164.9 293.9,171.9 294.3,185.8 294.7,198.3 295.1,190.1 295.5,192.0 295.8,168.3 296.3,194.5 296.7,193.3 297.1,183.5 297.5,163.3 297.9,193.9 298.3,218.3 298.7,202.2 299.2,171.7 299.5,204.0 300.0,228.3 300.4,214.8 300.8,183.3 301.2,205.0 301.7,231.7 302.0,221.7 302.4,214.9 302.7,206.7 303.2,208.5 303.7,215.0 304.0,217.0 304.4,215.3 304.7,210.0 304.8,210.4 305.2,211.1 305.6,216.9 306.0,231.4 306.4,244.9 306.9,255.1 307.3,269.9 307.7,275.8 308.1,284.8 308.3,288.3 308.9,277.2 309.3,264.7 309.7,260.6 310.1,248.6 310.5,243.6 310.9,244.6 311.3,242.3 311.7,251.9 312.1,232.9 312.5,215.3 312.9,218.9 313.4,218.1 313.8,213.5 314.2,200.5 314.6,192.3 315.0,185.3 315.4,180.7 315.8,168.5 316.2,168.5 316.6,166.9 317.0,170.3 317.5,164.2 317.8,163.2 318.2,167.9 318.6,164.9 319.1,177.9 319.4,185.0 319.9,196.6 320.3,196.2 320.7,201.7 321.1,190.3 321.5,182.5 321.7,193.0 321.9,190.7 322.3,200.9 322.7,203.3 323.1,191.5 323.7,185.0 323.9,186.3 324.3,189.0 324.7,195.0 325.1,192.7 325.6,199.6 325.8,188.3 326.4,195.9 326.8,197.9 327.0,198.3 327.2,196.8 327.6,182.6 328.0,171.9 328.3,171.7 328.8,177.0 329.2,176.5 329.7,175.0 330.0,173.2 330.4,173.4 330.8,168.3 331.2,172.0 331.6,171.8 332.0,178.3 332.5,179.5 332.9,175.9 333.3,170.0 333.7,173.6 334.1,176.9 334.5,174.0 334.7,175.0 334.9,163.2 335.3,171.3 335.8,168.3 336.1,169.6 336.5,166.2 337.0,171.7 337.3,163.2 337.7,177.5 338.1,167.4 338.3,162.5 338.6,166.1 339.0,163.3 339.4,168.5 339.8,178.0 340.2,187.6 340.6,197.3 341.0,210.0 341.4,197.1 341.8,197.8 342.0,193.0 342.2,199.9 342.6,201.3 343.0,208.3 343.3,215.0 343.8,209.0 344.2,216.7 344.7,201.7 345.1,206.3 345.5,223.4 345.8,216.7 346.3,225.1 346.7,217.6 347.0,206.7 347.5,227.7 347.9,228.4 348.3,230.0 348.7,219.9 349.1,227.6 349.7,215.0 349.9,214.0 350.3,229.4 350.8,231.7 351.2,228.0 351.6,223.4 352.0,216.3 352.5,183.3 352.8,187.2 353.2,192.8 353.7,201.7 354.0,193.3 354.4,190.3 354.8,182.0 355.0,180.0 355.2,181.5 355.6,195.8 356.0,200.0 356.4,188.0 356.7,193.0 356.9,191.9 357.2,207.6 357.7,209.1 358.1,225.5 358.5,219.6 358.9,228.5 359.2,228.3 359.7,221.0 360.1,213.0 360.5,209.4 360.9,211.0 361.3,205.0 361.7,207.5 362.1,209.8 362.5,210.0 362.9,206.9 363.4,204.8 363.8,207.4 364.2,197.9 364.6,185.4 365.0,175.0 365.4,178.5 365.8,188.3 366.2,172.2 366.7,168.3 367.0,163.7 367.4,170.1 367.7,175.0 367.8,168.5 368.2,171.5 368.7,159.2 369.0,162.8 369.4,171.9 369.9,167.7 370.3,159.6 370.7,189.3 371.1,218.8 371.5,238.3 371.7,251.7 371.9,254.2 372.3,247.6 372.7,243.3 373.1,258.1 373.3,258.3 373.5,252.8 373.9,251.8 374.3,248.3 374.7,248.9 375.1,245.4 375.3,251.7 375.5,245.7 375.9,254.6 376.3,240.0 376.8,246.5 377.2,247.1 377.6,247.0 378.0,252.3 378.3,251.7 378.8,246.8 379.2,237.3 379.6,239.8 380.0,233.8 380.4,232.5 380.8,226.0 381.2,219.3 381.6,211.0 382.0,196.8 382.4,191.8 383.0,176.7 383.3,185.5 383.7,188.4 384.0,195.0 384.5,184.4 385.0,175.0 385.3,182.9 385.7,186.2 386.0,198.3 386.5,175.0 386.7,171.7 386.9,185.6 387.3,191.7 387.7,172.5 388.0,168.3 388.7,195.0 388.9,193.1 389.3,180.0 389.8,191.7 390.2,197.3 390.3,201.7 390.6,198.3 391.0,193.0 391.4,195.0 391.8,201.5 392.0,210.0 392.2,207.9 392.6,198.9 393.0,195.0 393.4,214.0 393.8,226.1 394.2,235.0 394.6,220.7 395.0,210.0 395.5,226.5 395.9,248.9 396.3,247.4 396.7,251.7 397.1,244.0 397.5,243.0 397.7,235.0 397.9,239.0 398.3,239.1 398.7,262.6 399.1,269.1 399.5,256.0 400.0,268.3 400.3,269.1 400.7,245.1 401.1,250.6 401.6,244.4 402.0,235.0 402.4,231.5 402.8,235.3 403.0,238.3 403.2,231.6 403.6,227.4 404.0,223.5 404.4,220.2 404.8,206.3 405.3,205.0 405.6,223.9 406.0,210.0 406.3,210.0 406.8,208.4 407.2,197.1 407.5,195.0 408.1,206.8 408.5,214.5 408.7,205.0 408.9,205.8 409.3,193.0 409.7,191.7 410.1,200.6 410.5,212.2 410.9,211.1 411.3,221.0 411.7,218.3 412.1,209.0 412.5,209.2 413.0,205.0 413.3,211.0 413.8,219.6 414.2,231.7 414.6,216.6 415.0,214.9 415.3,218.3 415.8,217.6 416.2,237.6 416.6,241.9 417.0,237.1 417.4,242.8 417.8,249.1 418.2,256.9 418.6,265.7 418.8,268.3 419.0,263.9 419.4,259.0 419.8,254.8 420.2,254.3 420.6,246.4 421.0,243.3 421.5,241.5 422.0,248.3 422.3,251.6 422.7,231.4 423.0,235.0 423.5,232.0 423.9,235.5 424.2,238.3 424.7,227.3 425.1,225.4 425.3,218.3 425.5,217.1 425.9,216.8 426.3,221.7 426.8,223.4 427.2,210.9 427.6,192.8 428.0,199.3 428.4,197.4 428.8,191.7 429.2,196.9 429.6,199.8 430.0,192.2 430.4,179.0 430.8,174.8 431.0,171.7 431.2,181.7 431.6,184.8 432.0,191.7 432.4,180.5 432.9,166.9 433.3,164.2 433.7,172.1 434.1,174.4 434.3,175.0 435.0,171.7 435.3,176.7 435.8,210.0 436.1,198.8 436.5,186.0 436.7,181.7 436.9,181.8 437.3,213.6 437.5,226.7 437.7,199.5 438.1,179.0 438.3,171.7 438.5,173.6 438.9,201.9 439.3,218.3 439.8,190.6 440.0,169.2 440.2,172.7 440.6,181.1 440.8,195.0 441.3,180.0 441.8,192.9 442.2,191.3 442.6,201.0 443.0,203.4 443.3,205.0 443.8,196.7 444.3,198.3 444.6,214.9 445.0,227.1 445.3,226.7 445.9,214.7 446.3,210.0 446.7,211.4 447.1,227.5 447.5,226.2 447.9,228.2 448.3,235.0 448.7,228.0 449.1,216.6 449.3,218.3 449.5,216.2 449.9,233.8 450.3,248.6 450.8,249.2 451.1,245.7 451.5,234.0 452.0,231.7 452.4,231.7 452.8,242.7 453.2,241.4 453.3,243.3 453.6,240.7 454.0,234.0 454.4,236.1 454.7,228.3 455.2,241.8 455.6,235.7 455.8,238.3 456.0,239.7 456.4,223.9 456.8,230.1 457.0,221.7 457.2,227.3 457.6,231.0 458.0,231.7 458.4,222.3 459.0,223.3 459.3,226.8 459.7,233.1 460.0,233.3 460.5,227.2 460.9,214.3 461.3,212.2 461.7,210.0 462.1,205.5 462.7,215.0 462.9,212.6 463.3,206.2 463.7,201.7 464.1,210.7 464.7,205.0 465.0,202.8 465.4,196.6 465.8,191.7 466.2,193.4 466.7,198.3 467.0,184.0 467.4,170.6 467.8,175.1 468.3,162.5 468.6,162.6 469.0,165.0 469.4,169.7 469.8,169.8 470.2,175.1 470.6,186.6 470.8,201.7 471.1,207.1 471.5,186.9 471.7,181.7 471.9,193.9 472.3,211.0 472.5,218.3 472.7,217.3 473.1,205.8 473.3,193.0 473.5,200.9 473.9,224.7 474.2,225.0 474.7,222.8 475.1,213.3 475.5,216.0 475.9,219.4 476.3,215.4 476.7,209.2 477.1,205.2 477.6,200.6 478.0,183.9 478.3,185.0 478.8,186.2 479.2,193.3 479.6,185.8 480.0,174.6 480.4,178.3 480.8,178.3 481.2,188.9 481.7,191.7 482.0,183.4 482.5,171.7 482.8,183.2 483.2,169.5 483.7,178.3 484.1,178.8 484.5,170.7 484.7,169.2 484.9,170.2 485.3,181.2 485.7,179.5 486.1,181.7 486.5,198.2 486.9,199.6 487.3,199.9 487.7,201.7 488.1,191.6 488.7,195.0 488.9,194.4 489.3,203.2 489.8,210.9 490.1,214.1 490.6,207.6 491.0,205.7 491.4,212.1 491.8,208.4 492.2,207.0 492.6,217.2 493.0,216.6 493.4,227.5 493.8,226.9 494.2,237.0 494.6,241.9 495.0,239.1 495.4,233.2 495.8,242.4 496.2,243.3 496.7,244.2 497.1,252.1 497.5,251.1 497.9,254.3 498.3,243.6 498.7,250.5 499.1,259.5 499.5,264.8 499.9,264.5 500.3,263.3 500.8,271.7 501.1,270.5 501.5,256.0 501.9,245.5 502.4,241.9 502.8,237.2 503.2,225.3 503.6,227.1 504.0,212.1 504.4,196.4 504.8,185.4 505.2,186.4 505.6,178.2 506.0,174.4 506.4,187.5 506.8,174.2 507.2,189.8 507.6,189.6 508.0,201.9 508.4,206.8 508.9,215.8 509.3,225.2 509.5,227.5 509.7,227.8 510.1,216.6 510.5,208.0 510.8,202.5 511.3,208.8 511.7,221.7 512.0,230.0 512.5,228.0 512.9,208.1 513.2,206.2 513.7,221.4 514.2,220.0 514.5,215.0 515.0,196.2 515.4,210.3 515.8,213.1 516.2,225.0 516.6,222.7 517.0,206.2 517.2,195.0 517.8,210.9 518.2,222.1 518.5,230.0 519.0,212.2 519.4,210.8 519.8,202.5 520.2,208.2 520.8,225.0 521.0,213.7 521.5,194.9 521.6,185.0 521.9,193.8 522.3,197.0 522.8,217.5 523.1,218.3 523.5,208.0 523.8,202.5 524.3,226.5 524.7,236.5 525.0,256.6 525.5,224.2 526.0,196.2 526.3,206.9 526.7,194.6 527.0,206.2 527.5,209.6 528.0,196.2 528.4,194.5 528.8,207.1 529.0,205.0 529.2,200.9 529.6,192.5 529.8,190.0 530.0,184.6 530.4,195.0 530.8,202.5 531.2,192.8 531.6,175.6 532.0,187.2 532.5,196.2 532.8,200.1 533.2,187.5 533.6,202.0 534.0,198.9 534.2,206.2 534.5,202.5 534.9,194.0 535.2,190.0 535.7,204.4 536.1,204.4 536.2,202.5 536.5,190.8 537.0,181.2 537.3,182.8 537.7,187.5 538.0,200.0 538.5,192.6 539.0,185.0 539.3,187.0 539.7,193.1 540.0,201.2 540.5,194.0 541.0,176.2 541.4,187.8 541.8,188.8 542.0,197.5 542.2,193.4 542.6,187.8 543.0,186.2 543.4,189.1 543.8,195.7 544.0,201.2 544.2,210.0 544.6,212.3 545.0,193.8 545.4,207.5 545.8,202.2 546.2,214.1 546.6,214.1 547.0,215.0 547.5,215.6 548.0,207.5 548.3,217.5 548.7,236.9 549.0,241.2 549.5,233.5 550.0,212.5 550.3,213.0 550.7,225.4 551.0,218.8 551.5,211.7 551.9,198.3 552.3,194.3 552.9,192.5 553.1,201.4 553.6,205.8 553.9,206.2 554.4,199.4 554.8,201.2 555.2,235.2 555.4,243.8 555.6,237.2 556.0,230.9 556.4,220.8 556.8,210.0 557.2,206.1 557.6,208.8 557.9,217.5 558.0,206.8 558.4,217.1 558.8,211.5 559.0,213.8 559.2,218.2 559.6,220.4 560.0,223.8 560.5,227.9 561.0,218.8 561.3,223.7 561.7,215.4 562.1,227.2 562.2,227.5 562.5,223.4 562.9,226.6 563.3,220.1 563.5,221.2 563.7,227.9 564.1,218.0 564.5,223.8 564.8,225.0 564.9,223.0 565.3,222.7 565.8,214.2 566.0,220.0 566.2,219.1 566.6,227.2 567.0,223.0 567.2,227.5 567.8,223.0 568.2,213.8 568.5,215.0 569.0,211.3 569.4,221.5 569.8,222.5 570.2,216.7 570.6,215.3 571.0,212.5 571.4,223.5 571.9,212.3 572.0,220.0 572.2,213.1 572.7,210.8 572.9,202.5 573.1,203.6 573.5,205.5 573.8,212.5 574.3,192.0 574.8,190.0 575.1,192.7 575.5,202.5 575.8,202.5 575.9,198.8 576.3,189.4 576.7,176.2 577.1,177.7 577.5,180.7 577.9,176.9 578.4,193.6 578.8,192.5 579.2,187.5 579.5,185.0 580.0,196.2 580.4,216.3 580.8,250.4 581.0,260.8 581.2,243.5 581.8,215.0 582.0,210.9 582.4,218.8 582.8,227.6 583.2,233.4 583.5,232.5 584.0,233.6 584.5,228.0 584.9,226.1 585.3,217.2 585.7,220.1 586.1,213.5 586.5,213.2 586.9,214.8 587.2,214.4 587.7,220.2 588.1,220.6 588.5,223.8 588.9,224.6 589.3,213.2 589.5,218.8 589.7,220.5 590.1,226.0 590.5,221.2 591.0,224.5 591.4,227.6 591.8,236.5 592.2,236.5 592.6,236.5 593.0,234.0 593.4,228.3 593.8,234.3 594.2,229.2 594.6,233.3 595.0,230.5 595.4,235.6 595.8,236.5 596.2,225.8 596.6,228.9 597.0,217.8 597.5,215.0 597.9,214.0 598.3,214.0 598.7,210.4 599.1,211.9 599.5,224.5 599.9,233.3 600.3,234.9 600.6,240.0 601.1,227.0 601.5,207.3 601.9,214.5 602.3,213.0 602.7,199.1 603.1,197.8 603.5,190.4 604.0,187.6 604.4,183.8 604.8,200.5 605.2,213.1 605.6,227.5 606.0,215.7 606.4,207.2 606.8,198.8 607.2,191.4 607.5,190.0 608.0,181.7 608.4,181.7 608.8,196.2 609.2,192.4 609.6,195.1 610.0,182.5 610.5,198.6 611.0,196.2 611.3,190.9 611.7,190.0 611.9,190.0 612.1,191.6 612.5,196.1 612.9,219.6 613.3,227.0 613.5,227.5 613.7,228.1 614.1,223.8 614.4,215.0 614.9,230.6 615.3,243.9 615.7,242.8 616.1,249.6 616.5,259.4 617.0,265.7 617.5,273.0 617.8,275.4 618.2,275.4 618.6,261.4 619.0,260.0 619.4,261.7 619.8,274.1 620.2,269.3 620.8,275.0 621.0,275.4 621.4,254.4 621.8,244.7 622.2,235.1 622.6,229.4 623.1,229.6 623.5,214.0 623.8,215.0 624.3,215.8 624.7,220.8 625.1,215.1 625.5,217.3 625.9,230.9 626.3,236.9 626.7,243.3 627.1,233.5 627.5,242.8 627.9,239.9 628.3,245.1 628.8,260.9 629.2,266.6 629.6,252.0 630.0,251.8 630.4,250.1 630.8,248.7 631.2,241.8 631.6,246.0 632.0,220.1 632.4,222.0 632.8,231.0 633.2,230.8 633.6,229.7 634.0,215.1 634.4,215.1 634.8,220.4 635.2,215.1 635.7,218.5 636.1,217.1 636.2,216.2 636.5,219.0 636.9,215.1 637.3,217.4 637.7,227.8 638.1,229.5 638.5,249.3 638.9,237.1 639.3,247.6 639.7,259.7 640.0,260.9 640.5,250.2 640.9,235.3 641.4,225.9 641.8,215.1 642.2,216.2 642.6,190.8 643.0,199.7 643.4,198.7 643.8,190.0 644.2,200.7 644.6,185.2 645.0,181.9 645.4,189.7 645.8,185.2 646.2,190.7 646.6,200.5 647.0,206.6 647.4,219.8 647.9,233.3 648.2,236.7 648.5,240.0 648.7,228.9 649.1,220.5 649.5,208.8 649.9,210.4 650.3,212.8 650.7,206.8 651.2,196.2 651.5,195.8 651.9,213.9 652.3,209.9 652.7,231.6 653.1,242.5 653.5,236.8 653.9,235.9 654.4,240.3 654.8,223.7 655.2,223.1 655.6,223.8 656.0,219.1 656.4,205.5 656.8,200.6 657.2,206.7 657.6,202.9 658.1,201.9 658.4,200.6 658.8,204.5 659.2,209.6 659.6,217.4 660.0,218.9 660.5,246.6 660.9,259.1 661.3,267.7 661.7,278.6 662.0,290.0 662.5,271.1 662.9,262.5 663.3,250.1 663.7,231.8 664.1,211.6 664.5,214.2 664.9,217.6 665.3,200.9 665.7,203.3 666.1,199.0 666.5,199.1 667.0,193.0 667.4,188.2 667.8,188.2 668.1,189.4 668.6,189.0 669.1,197.5 669.4,204.0 669.8,193.7 670.2,192.6 670.6,191.3 671.0,194.4 671.4,198.0 671.8,203.5 672.2,215.3 672.6,223.4 672.9,225.0 673.0,224.1 673.5,210.3 673.9,214.0 674.3,202.5 674.7,200.6 675.1,208.4 675.5,200.6 675.9,206.3 676.2,201.9 676.7,206.6 677.2,207.5 677.5,204.7 677.9,204.9 678.3,200.6 678.7,200.6 679.1,207.7 679.4,203.8 679.5,203.0 680.0,209.0 680.4,210.9 680.8,228.6 681.2,212.5 681.6,226.2 682.0,230.8 682.5,230.0 682.8,230.8 683.2,227.4 683.6,219.1 684.0,228.5 684.4,228.7 684.8,219.4 685.0,218.8 685.2,218.5 685.6,221.6 686.0,230.9 686.5,218.6 686.9,217.4 687.3,228.4 687.7,227.5 688.1,222.1 688.5,219.5 688.9,232.4 689.3,246.7 689.7,240.7 690.1,222.4 690.5,216.5 690.9,223.8 691.3,207.5 691.7,205.0 692.1,231.8 692.5,240.0 693.0,220.5 693.3,203.3 693.8,221.5 694.2,243.3 694.6,228.6 695.0,204.5 695.4,207.1 695.8,201.7 696.2,225.4 696.7,250.0 697.0,230.2 697.5,226.7 697.8,243.9 698.2,238.5 698.7,253.3 699.1,247.4 699.5,239.2 700.0,233.3 700.3,247.4 700.7,257.3 701.1,248.6 701.3,260.0 701.5,252.5 701.9,241.5 702.3,232.4 702.7,228.9 703.1,227.3 703.3,221.7 703.5,235.3 703.9,245.4 704.2,253.3 704.3,245.2 704.8,238.0 705.1,226.3 705.3,233.3 705.6,242.1 706.0,236.0 706.4,260.6 706.8,271.6 707.2,263.6 707.6,259.9 708.0,264.8 708.3,271.7 708.8,266.4 709.2,248.8 709.7,243.3 710.0,245.2 710.4,247.5 710.8,260.0 711.2,252.1 711.7,236.8 712.0,233.3 712.5,237.3 712.9,251.1 713.3,263.3 713.7,259.6 714.1,260.4 714.5,251.7 715.0,253.3 715.3,252.3 715.7,267.9 716.1,269.3 716.5,276.5 716.9,281.2 717.4,275.4 717.8,281.2 718.2,271.6 718.3,280.0 718.6,264.8 719.0,265.1 719.4,268.6 719.8,262.2 720.0,260.0 720.2,263.9 720.6,262.7 721.0,268.6 721.4,278.0 721.8,277.2 722.2,285.7 722.6,274.7 723.0,279.6 723.4,274.2 723.9,286.2 724.3,281.1 724.7,278.6 725.0,285.0 725.5,269.0 725.9,265.8 726.3,267.8 726.7,258.7 727.1,246.9 727.5,237.0 727.9,229.9 728.3,224.2 728.7,213.2 729.2,211.7 729.5,222.7 730.0,243.3 730.4,228.2 730.8,222.6 731.2,215.0 731.7,210.8 732.0,226.8 732.5,246.7 732.8,230.6 733.3,213.3 733.6,211.9 734.0,209.6 734.4,228.4 734.8,241.3 735.0,253.3 735.2,243.5 735.6,226.5 735.8,216.7 736.0,218.0 736.5,217.2 736.9,231.7 737.3,247.1 737.5,260.0 737.7,252.0 738.1,239.2 738.3,223.3 738.9,227.1 739.3,229.6 739.7,263.1 740.1,281.8 740.5,289.0 740.9,285.0 741.3,289.2 741.7,288.3 742.1,266.2 742.5,265.0 743.0,270.8 743.5,290.0 743.8,284.0 744.2,270.6 744.6,269.2 745.0,250.0 745.4,256.5 745.8,271.8 746.2,267.4 746.5,275.0 747.0,259.9 747.4,270.8 747.8,260.7 748.2,258.8"/>
</g>
<rect x="684.4" y="230.6" width="85.2" height="207.8" rx="4" ry="4" fill="#E5E5E5" fill-opacity="0.8" stroke="#cccccc" stroke-opacity="0.8" stroke-width="1.2"/>
<line x1="690.8" x2="733.8" y1="246.4" y2="246.4" stroke="#E24A33" stroke-width="3"/>
<text class="lg" x="748.3" y="253.2" textLength="12.4" lengthAdjust="spacingAndGlyphs">0</text>
<line x1="690.8" x2="733.8" y1="275.4" y2="275.4" stroke="#348ABD" stroke-width="3"/>
<text class="lg" x="748.3" y="282.1" textLength="12.4" lengthAdjust="spacingAndGlyphs">1</text>
<line x1="690.8" x2="733.8" y1="304.5" y2="304.5" stroke="#988ED5" stroke-width="3"/>
<text class="lg" x="748.3" y="311.0" textLength="12.4" lengthAdjust="spacingAndGlyphs">2</text>
<line x1="690.8" x2="733.8" y1="333.6" y2="333.6" stroke="#777777" stroke-width="3"/>
<text class="lg" x="748.3" y="339.9" textLength="12.4" lengthAdjust="spacingAndGlyphs">3</text>
<line x1="690.8" x2="733.8" y1="362.6" y2="362.6" stroke="#FBC15E" stroke-width="3"/>
<text class="lg" x="748.3" y="368.8" textLength="12.4" lengthAdjust="spacingAndGlyphs">4</text>
<line x1="690.8" x2="733.8" y1="391.6" y2="391.6" stroke="#8EBA42" stroke-width="3"/>
<text class="lg" x="748.3" y="397.7" textLength="12.4" lengthAdjust="spacingAndGlyphs">5</text>
<line x1="690.8" x2="733.8" y1="420.7" y2="420.7" stroke="#FFB5B8" stroke-width="3"/>
<text class="lg" x="748.3" y="426.6" textLength="12.4" lengthAdjust="spacingAndGlyphs">6</text>
</svg></body></html>
